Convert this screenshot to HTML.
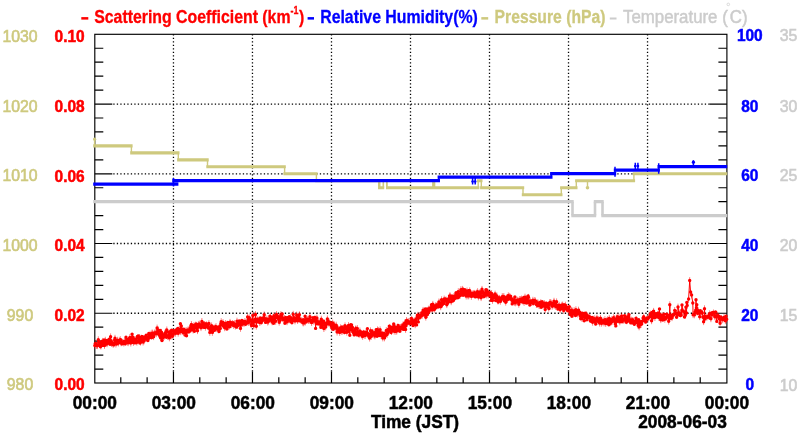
<!DOCTYPE html>
<html><head><meta charset="utf-8"><title>chart</title><style>html,body{margin:0;padding:0;background:#fff}svg{display:block;will-change:transform}.t text,text{font-family:"Liberation Sans",sans-serif}</style></head><body>
<svg width="800" height="434" viewBox="0 0 800 434">
<rect width="800" height="434" fill="#fff"/>
<path d="M173.46 34.30V371.50M252.47 34.30V371.50M331.49 34.30V371.50M410.50 34.30V371.50M489.51 34.30V371.50M568.52 34.30V371.50M647.54 34.30V371.50M113.30 313.26H709.40M113.30 243.52H709.40M113.30 173.78H709.40M113.30 104.04H709.40" stroke="#000" stroke-width="1.3" stroke-dasharray="1.3 2.2" fill="none"/>
<path d="M94.80 369.05h8.5M726.90 369.05h-8.5M94.80 355.10h8.5M726.90 355.10h-8.5M94.80 341.16h8.5M726.90 341.16h-8.5M94.80 327.21h8.5M726.90 327.21h-8.5M94.80 313.26h17.5M726.90 313.26h-17.5M94.80 299.31h8.5M726.90 299.31h-8.5M94.80 285.36h8.5M726.90 285.36h-8.5M94.80 271.42h8.5M726.90 271.42h-8.5M94.80 257.47h8.5M726.90 257.47h-8.5M94.80 243.52h17.5M726.90 243.52h-17.5M94.80 229.57h8.5M726.90 229.57h-8.5M94.80 215.62h8.5M726.90 215.62h-8.5M94.80 201.68h8.5M726.90 201.68h-8.5M94.80 187.73h8.5M726.90 187.73h-8.5M94.80 173.78h17.5M726.90 173.78h-17.5M94.80 159.83h8.5M726.90 159.83h-8.5M94.80 145.88h8.5M726.90 145.88h-8.5M94.80 131.94h8.5M726.90 131.94h-8.5M94.80 117.99h8.5M726.90 117.99h-8.5M94.80 104.04h17.5M726.90 104.04h-17.5M94.80 90.09h8.5M726.90 90.09h-8.5M94.80 76.14h8.5M726.90 76.14h-8.5M94.80 62.20h8.5M726.90 62.20h-8.5M94.80 48.25h8.5M726.90 48.25h-8.5M120.79 383.00v-5.8M147.12 383.00v-5.8M173.46 383.00v-11.5M199.80 383.00v-5.8M226.14 383.00v-5.8M252.47 383.00v-11.5M278.81 383.00v-5.8M305.15 383.00v-5.8M331.49 383.00v-11.5M357.82 383.00v-5.8M384.16 383.00v-5.8M410.50 383.00v-11.5M436.84 383.00v-5.8M463.17 383.00v-5.8M489.51 383.00v-11.5M515.85 383.00v-5.8M542.19 383.00v-5.8M568.52 383.00v-11.5M594.86 383.00v-5.8M621.20 383.00v-5.8M647.54 383.00v-11.5M673.88 383.00v-5.8M700.21 383.00v-5.8" stroke="#000" stroke-width="1.2" fill="none"/>
<rect x="94.80" y="34.30" width="632.10" height="348.70" fill="none" stroke="#000" stroke-width="1.15"/>
<path d="M93.20 201.68H573.70M571.30 215.62H596.20M593.80 201.68H603.70M601.30 215.62H727.20" stroke="#cccccc" stroke-width="3.2" fill="none"/>
<path d="M572.50 201.68V215.62M595.00 215.62V201.68M602.50 201.68V215.62" stroke="#cccccc" stroke-width="2.6" fill="none"/>
<path d="M93.20 145.88H132.60M130.20 152.86H179.50M177.10 159.83H208.70M206.30 166.81H285.80M283.40 173.78H317.60M315.20 180.75H380.00M378.00 187.73H384.20M386.00 187.73H479.40M477.00 180.75H482.50M480.10 187.73H524.20M521.80 194.70H562.50M560.10 187.73H577.50M575.10 180.75H635.10M632.70 173.78H727.20" stroke="#cec97e" stroke-width="3.1" fill="none"/>
<path d="M131.40 145.88V152.86M178.30 152.86V159.83M207.50 159.83V166.81M284.60 166.81V173.78M316.40 173.78V180.75M478.20 187.73V180.75M481.30 180.75V187.73M523.00 187.73V194.70M561.30 194.70V187.73M576.30 187.73V180.75M633.90 180.75V173.78M94.60 145.88V138.91M587.5 180.75V187.73" stroke="#cec97e" stroke-width="1.4" fill="none"/>
<path d="M379.25 180.75V187.73" stroke="#cec97e" stroke-width="2.5" fill="none"/>
<path d="M383.3 180.75V187.73" stroke="#cec97e" stroke-width="1.6" fill="none"/>
<path d="M386.9 180.75V187.73" stroke="#cec97e" stroke-width="1.8" fill="none"/>
<path d="M433.7 180.75V187.73" stroke="#cec97e" stroke-width="3.2" fill="none"/>
<circle cx="587.5" cy="187.73" r="1.8" fill="#cec97e"/>
<circle cx="94.60" cy="139.21" r="1.6" fill="#cec97e"/>
<path d="M93.20 184.14H174.70M172.30 180.65H440.00M437.60 177.17H552.50M550.10 173.68H616.20M613.80 170.19H659.90M657.50 166.71H727.20M173 184.14H178.4" stroke="#0000ff" stroke-width="3.25" fill="none"/>
<path d="M173.50 178.00V186.40M438.80 177.17V180.65M551.30 173.68V177.17M472.60 177.17V184.44M475.20 177.17V184.44M615.00 166.71V176.67M635.30 162.82V170.19M637.90 162.82V170.19M658.70 163.22V173.68M693.40 160.30V166.71" stroke="#0000ff" stroke-width="1.5" fill="none"/>
<circle cx="693.4" cy="162.2" r="1.6" fill="#0000ff"/><circle cx="635.3" cy="166" r="1.35" fill="#0000ff"/><circle cx="637.9" cy="166" r="1.35" fill="#0000ff"/><circle cx="472.6" cy="181.5" r="1.3" fill="#0000ff"/><circle cx="475.2" cy="181.5" r="1.3" fill="#0000ff"/>
<path d="M94.8 345.6L95.2 343.7L95.7 343.4L96.1 345.4L96.6 345.6L97.0 345.5L97.4 345.7L97.9 345.3L98.3 339.7L98.8 341.9L99.2 343.0L99.6 342.2L100.1 344.5L100.5 346.8L100.9 346.1L101.4 341.8L101.8 342.9L102.3 344.0L102.7 341.3L103.1 345.4L103.6 343.0L104.0 339.9L104.5 345.5L104.9 341.1L105.3 340.2L105.8 342.2L106.2 343.2L106.7 344.0L107.1 343.8L107.5 340.5L108.0 342.2L108.4 340.5L108.8 341.3L109.3 339.1L109.7 342.6L110.2 344.2L110.6 336.8L111.0 340.6L111.5 343.4L111.9 342.5L112.4 343.1L112.8 344.4L113.2 344.4L113.7 344.7L114.1 343.7L114.6 340.0L115.0 338.2L115.4 343.7L115.9 344.1L116.3 341.0L116.7 342.8L117.2 343.8L117.6 340.2L118.1 341.8L118.5 343.0L118.9 341.1L119.4 340.7L119.8 340.3L120.3 339.6L120.7 339.8L121.1 342.9L121.6 343.8L122.0 342.4L122.5 343.1L122.9 342.2L123.3 341.8L123.8 343.1L124.2 343.6L124.6 341.5L125.1 343.8L125.5 342.2L126.0 337.2L126.4 341.8L126.8 341.8L127.3 342.1L127.7 339.8L128.2 342.8L128.6 341.2L129.0 340.8L129.5 338.1L129.9 337.4L130.4 341.5L130.8 343.1L131.2 338.2L131.7 340.0L132.1 334.1L132.6 337.1L133.0 337.3L133.4 342.5L133.9 340.2L134.3 340.4L134.7 342.9L135.2 339.7L135.6 339.3L136.1 341.1L136.5 342.6L136.9 342.2L137.4 336.5L137.8 337.8L138.3 335.9L138.7 340.9L139.1 338.2L139.6 337.4L140.0 343.0L140.5 342.1L140.9 339.0L141.3 340.7L141.8 336.5L142.2 338.7L142.6 336.7L143.1 342.1L143.5 339.3L144.0 340.9L144.4 338.9L144.8 338.7L145.3 336.7L145.7 337.9L146.2 335.3L146.6 338.1L147.0 339.2L147.5 338.5L147.9 340.6L148.4 338.5L148.8 333.4L149.2 336.6L149.7 333.9L150.1 334.1L150.5 334.5L151.0 335.5L151.4 337.7L151.9 333.1L152.3 337.4L152.7 333.1L153.2 336.7L153.6 336.7L154.1 332.9L154.5 333.0L154.9 333.8L155.4 332.9L155.8 333.3L156.3 333.8L156.7 332.5L157.1 328.0L157.6 332.2L158.0 329.9L158.4 331.3L158.9 334.5L159.3 334.3L159.8 335.8L160.2 330.5L160.6 337.8L161.1 333.8L161.5 332.3L162.0 340.6L162.4 336.3L162.8 335.6L163.3 337.6L163.7 334.7L164.2 336.5L164.6 334.2L165.0 333.1L165.5 334.4L165.9 331.9L166.4 337.3L166.8 329.9L167.2 336.1L167.7 336.6L168.1 336.3L168.5 335.8L169.0 332.3L169.4 337.9L169.9 331.8L170.3 333.6L170.7 330.9L171.2 336.0L171.6 330.3L172.1 335.8L172.5 336.2L172.9 334.2L173.4 330.6L173.8 333.0L174.3 331.2L174.7 332.5L175.1 332.4L175.6 333.3L176.0 330.0L176.4 331.2L176.9 331.4L177.3 331.4L177.8 328.4L178.2 333.2L178.6 330.9L179.1 329.5L179.5 330.3L180.0 331.1L180.4 323.8L180.8 331.8L181.3 325.9L181.7 329.4L182.2 329.2L182.6 331.3L183.0 331.1L183.5 332.8L183.9 329.1L184.3 332.4L184.8 332.6L185.2 332.5L185.7 335.4L186.1 330.4L186.5 335.8L187.0 331.9L187.4 330.6L187.9 330.0L188.3 331.9L188.7 330.0L189.2 331.4L189.6 330.2L190.1 331.1L190.5 327.6L190.9 325.8L191.4 324.4L191.8 329.1L192.2 328.1L192.7 325.2L193.1 330.1L193.6 327.8L194.0 325.5L194.4 331.3L194.9 327.9L195.3 324.8L195.8 325.0L196.2 324.0L196.6 327.5L197.1 328.8L197.5 330.7L198.0 326.4L198.4 324.6L198.8 326.8L199.3 324.0L199.7 326.4L200.2 325.8L200.6 325.0L201.0 327.7L201.5 325.6L201.9 321.4L202.3 326.4L202.8 325.9L203.2 323.0L203.7 325.2L204.1 327.4L204.5 324.6L205.0 326.1L205.4 327.3L205.9 323.6L206.3 324.6L206.7 325.3L207.2 325.6L207.6 325.0L208.1 326.7L208.5 328.1L208.9 323.5L209.4 328.0L209.8 332.4L210.2 330.2L210.7 329.8L211.1 327.6L211.6 325.8L212.0 326.3L212.4 332.4L212.9 327.7L213.3 328.2L213.8 327.8L214.2 328.8L214.6 330.2L215.1 327.6L215.5 326.6L216.0 326.6L216.4 327.1L216.8 328.7L217.3 327.8L217.7 328.7L218.1 327.4L218.6 329.8L219.0 331.5L219.5 328.3L219.9 326.0L220.3 328.5L220.8 323.4L221.2 321.6L221.7 324.7L222.1 324.9L222.5 323.2L223.0 322.5L223.4 325.9L223.9 325.1L224.3 325.2L224.7 327.8L225.2 324.9L225.6 323.4L226.0 323.6L226.5 325.6L226.9 329.1L227.4 324.5L227.8 322.5L228.2 326.0L228.7 326.4L229.1 326.1L229.6 326.8L230.0 322.3L230.4 322.1L230.9 324.8L231.3 324.6L231.8 324.5L232.2 324.1L232.6 323.4L233.1 322.8L233.5 325.4L233.9 324.7L234.4 323.6L234.8 324.4L235.3 326.2L235.7 324.4L236.1 325.5L236.6 327.0L237.0 321.1L237.5 324.6L237.9 325.6L238.3 323.3L238.8 323.4L239.2 321.0L239.7 323.6L240.1 324.8L240.5 328.4L241.0 322.1L241.4 324.7L241.9 320.5L242.3 323.5L242.7 321.7L243.2 322.7L243.6 321.6L244.0 323.7L244.5 321.8L244.9 321.4L245.4 324.3L245.8 322.8L246.2 323.7L246.7 322.1L247.1 322.4L247.6 317.0L248.0 321.5L248.4 322.5L248.9 319.4L249.3 317.8L249.8 320.5L250.2 320.8L250.6 319.9L251.1 324.6L251.5 325.5L251.9 320.3L252.4 322.4L252.8 315.4L253.3 321.7L253.7 325.8L254.1 321.1L254.6 321.8L255.0 319.4L255.5 314.5L255.9 320.9L256.3 326.2L256.8 321.1L257.2 319.3L257.7 321.7L258.1 320.4L258.5 321.9L259.0 320.0L259.4 320.2L259.8 322.6L260.3 317.9L260.7 321.1L261.2 322.5L261.6 321.2L262.0 319.2L262.5 320.4L262.9 317.9L263.4 318.9L263.8 318.4L264.2 314.8L264.7 320.0L265.1 318.7L265.6 322.4L266.0 320.4L266.4 319.9L266.9 318.9L267.3 319.9L267.7 322.1L268.2 319.7L268.6 321.2L269.1 320.2L269.5 318.8L269.9 316.3L270.4 316.5L270.8 317.7L271.3 320.2L271.7 317.6L272.1 321.9L272.6 319.4L273.0 319.8L273.5 323.3L273.9 315.7L274.3 320.2L274.8 321.1L275.2 317.3L275.7 321.3L276.1 316.4L276.5 314.5L277.0 317.4L277.4 317.1L277.8 317.2L278.3 316.6L278.7 319.5L279.2 322.2L279.6 317.4L280.0 320.6L280.5 316.5L280.9 314.5L281.4 317.6L281.8 317.3L282.2 313.9L282.7 318.7L283.1 319.5L283.6 318.9L284.0 319.0L284.4 318.4L284.9 323.2L285.3 319.5L285.7 317.4L286.2 320.9L286.6 320.3L287.1 321.8L287.5 317.7L287.9 319.5L288.4 317.9L288.8 320.1L289.3 316.7L289.7 319.7L290.1 320.2L290.6 317.8L291.0 321.7L291.5 319.5L291.9 322.7L292.3 320.4L292.8 319.4L293.2 314.2L293.6 320.1L294.1 317.7L294.5 320.6L295.0 321.0L295.4 320.6L295.8 318.4L296.3 319.4L296.7 315.0L297.2 320.8L297.6 320.6L298.0 320.7L298.5 317.5L298.9 320.4L299.4 314.7L299.8 320.8L300.2 319.5L300.7 321.1L301.1 320.6L301.5 320.4L302.0 320.9L302.4 320.4L302.9 322.8L303.3 319.7L303.7 322.9L304.2 320.1L304.6 321.8L305.1 316.3L305.5 322.0L305.9 320.7L306.4 320.5L306.8 319.2L307.3 319.2L307.7 321.1L308.1 320.6L308.6 319.7L309.0 320.6L309.5 320.0L309.9 316.8L310.3 320.4L310.8 320.2L311.2 322.2L311.6 322.6L312.1 321.2L312.5 320.6L313.0 317.8L313.4 321.1L313.8 320.7L314.3 320.9L314.7 317.5L315.2 318.9L315.6 328.4L316.0 321.8L316.5 321.4L316.9 318.0L317.4 323.8L317.8 321.8L318.2 322.4L318.7 322.5L319.1 322.0L319.5 323.9L320.0 321.9L320.4 322.9L320.9 327.4L321.3 319.1L321.7 326.6L322.2 325.8L322.6 322.3L323.1 322.5L323.5 321.1L323.9 328.6L324.4 322.8L324.8 322.9L325.3 325.0L325.7 327.0L326.1 324.5L326.6 323.5L327.0 323.0L327.4 318.9L327.9 321.3L328.3 323.2L328.8 323.9L329.2 322.0L329.6 322.1L330.1 324.2L330.5 323.0L331.0 324.3L331.4 326.0L331.8 327.7L332.3 324.2L332.7 323.0L333.2 329.3L333.6 327.1L334.0 328.3L334.5 324.9L334.9 327.9L335.3 328.0L335.8 326.5L336.2 325.1L336.7 326.6L337.1 332.1L337.5 329.2L338.0 328.8L338.4 330.2L338.9 329.8L339.3 329.3L339.7 332.4L340.2 328.6L340.6 327.7L341.1 330.2L341.5 331.2L341.9 326.9L342.4 331.2L342.8 328.5L343.3 328.3L343.7 331.4L344.1 330.9L344.6 332.6L345.0 325.8L345.4 327.9L345.9 328.2L346.3 327.0L346.8 332.3L347.2 329.8L347.6 330.0L348.1 331.8L348.5 325.5L349.0 328.6L349.4 329.6L349.8 335.3L350.3 328.1L350.7 324.8L351.2 329.5L351.6 325.0L352.0 329.5L352.5 327.5L352.9 331.7L353.3 332.6L353.8 331.1L354.2 334.9L354.7 332.7L355.1 332.1L355.5 329.0L356.0 328.3L356.4 333.3L356.9 334.3L357.3 328.4L357.7 334.9L358.2 332.0L358.6 335.3L359.1 334.7L359.5 331.7L359.9 330.9L360.4 332.0L360.8 333.9L361.2 332.0L361.7 335.0L362.1 333.7L362.6 336.4L363.0 334.2L363.4 333.2L363.9 331.9L364.3 335.1L364.8 334.9L365.2 335.6L365.6 332.4L366.1 332.4L366.5 332.3L367.0 333.9L367.4 328.6L367.8 334.8L368.3 333.8L368.7 336.1L369.1 336.4L369.6 338.1L370.0 334.6L370.5 330.8L370.9 335.6L371.3 336.4L371.8 330.9L372.2 332.3L372.7 334.3L373.1 332.9L373.5 333.2L374.0 335.1L374.4 332.8L374.9 336.0L375.3 335.5L375.7 331.6L376.2 329.6L376.6 333.7L377.1 336.2L377.5 329.8L377.9 334.8L378.4 330.5L378.8 335.2L379.2 332.9L379.7 335.5L380.1 329.8L380.6 334.5L381.0 335.3L381.4 332.9L381.9 334.0L382.3 333.3L382.8 338.0L383.2 336.3L383.6 335.4L384.1 333.2L384.5 337.9L385.0 336.0L385.4 334.9L385.8 335.4L386.3 330.5L386.7 330.4L387.1 334.6L387.6 333.3L388.0 330.7L388.5 329.3L388.9 331.1L389.3 326.1L389.8 327.3L390.2 328.4L390.7 328.6L391.1 332.5L391.5 331.6L392.0 327.3L392.4 328.8L392.9 330.2L393.3 327.3L393.7 324.0L394.2 331.2L394.6 326.7L395.0 327.3L395.5 328.5L395.9 331.4L396.4 328.1L396.8 331.0L397.2 327.4L397.7 327.0L398.1 325.4L398.6 328.9L399.0 329.5L399.4 327.9L399.9 331.2L400.3 327.4L400.8 328.5L401.2 327.1L401.6 327.3L402.1 326.7L402.5 328.7L402.9 325.0L403.4 329.4L403.8 326.0L404.3 328.1L404.7 322.9L405.1 324.9L405.6 329.5L406.0 325.8L406.5 320.5L406.9 323.4L407.3 322.2L407.8 321.0L408.2 321.4L408.7 323.1L409.1 322.1L409.5 322.3L410.0 323.3L410.4 323.5L410.9 321.6L411.3 318.4L411.7 319.3L412.2 323.1L412.6 320.4L413.0 325.5L413.5 321.7L413.9 323.3L414.4 320.8L414.8 322.5L415.2 324.8L415.7 321.6L416.1 319.2L416.6 324.9L417.0 317.7L417.4 315.2L417.9 315.2L418.3 321.9L418.8 317.1L419.2 317.9L419.6 315.4L420.1 317.2L420.5 315.9L420.9 315.8L421.4 315.0L421.8 312.7L422.3 315.2L422.7 314.7L423.1 310.3L423.6 314.7L424.0 313.3L424.5 310.8L424.9 314.3L425.3 308.9L425.8 317.2L426.2 311.4L426.7 311.5L427.1 308.9L427.5 314.4L428.0 312.3L428.4 309.1L428.8 312.1L429.3 310.6L429.7 308.3L430.2 308.4L430.6 309.6L431.0 307.8L431.5 304.7L431.9 309.1L432.4 310.0L432.8 304.3L433.2 308.9L433.7 307.0L434.1 309.5L434.6 309.2L435.0 308.3L435.4 305.7L435.9 307.6L436.3 306.1L436.7 304.9L437.2 305.8L437.6 304.6L438.1 305.5L438.5 306.8L438.9 301.9L439.4 304.1L439.8 302.8L440.3 304.7L440.7 306.8L441.1 306.3L441.6 299.7L442.0 304.8L442.5 304.0L442.9 301.1L443.3 302.5L443.8 303.6L444.2 299.0L444.6 301.4L445.1 301.3L445.5 298.9L446.0 299.8L446.4 300.3L446.8 304.7L447.3 303.8L447.7 301.4L448.2 299.1L448.6 298.7L449.0 301.7L449.5 296.0L449.9 298.5L450.4 296.0L450.8 297.8L451.2 301.8L451.7 296.2L452.1 297.6L452.6 296.5L453.0 299.6L453.4 300.5L453.9 296.6L454.3 297.8L454.7 296.0L455.2 298.3L455.6 297.0L456.1 292.8L456.5 295.8L456.9 293.5L457.4 293.5L457.8 297.7L458.3 291.6L458.7 297.0L459.1 295.2L459.6 294.0L460.0 295.5L460.5 295.2L460.9 289.6L461.3 291.0L461.8 293.2L462.2 293.7L462.6 289.3L463.1 295.2L463.5 290.8L464.0 293.2L464.4 291.4L464.8 289.6L465.3 294.2L465.7 291.3L466.2 296.1L466.6 292.8L467.0 290.9L467.5 292.8L467.9 296.0L468.4 290.8L468.8 295.9L469.2 292.6L469.7 290.8L470.1 292.0L470.5 293.2L471.0 294.3L471.4 296.4L471.9 295.1L472.3 294.1L472.7 293.4L473.2 293.7L473.6 296.1L474.1 293.3L474.5 292.8L474.9 293.7L475.4 296.9L475.8 294.1L476.3 294.5L476.7 293.0L477.1 294.8L477.6 291.6L478.0 296.5L478.4 297.0L478.9 296.0L479.3 292.9L479.8 294.2L480.2 292.9L480.6 291.7L481.1 297.7L481.5 296.7L482.0 289.3L482.4 291.3L482.8 293.3L483.3 293.6L483.7 295.4L484.2 296.6L484.6 293.2L485.0 295.1L485.5 292.5L485.9 289.7L486.4 295.0L486.8 289.9L487.2 292.9L487.7 291.7L488.1 295.1L488.5 295.1L489.0 293.9L489.4 295.0L489.9 293.7L490.3 292.8L490.7 296.6L491.2 300.4L491.6 293.4L492.1 298.5L492.5 300.4L492.9 295.6L493.4 297.6L493.8 295.2L494.3 296.0L494.7 297.4L495.1 294.0L495.6 300.4L496.0 299.1L496.4 298.6L496.9 295.9L497.3 299.7L497.8 301.0L498.2 301.9L498.6 300.8L499.1 297.6L499.5 298.3L500.0 299.3L500.4 301.3L500.8 298.1L501.3 299.5L501.7 298.2L502.2 296.7L502.6 298.4L503.0 296.8L503.5 298.6L503.9 296.6L504.3 300.9L504.8 298.4L505.2 298.2L505.7 302.2L506.1 297.6L506.5 299.5L507.0 296.9L507.4 299.7L507.9 295.7L508.3 295.7L508.7 299.0L509.2 296.3L509.6 297.7L510.1 297.0L510.5 296.1L510.9 299.3L511.4 298.6L511.8 298.9L512.2 303.9L512.7 300.9L513.1 301.3L513.6 300.2L514.0 300.2L514.4 302.3L514.9 296.9L515.3 302.9L515.8 301.6L516.2 302.1L516.6 300.5L517.1 300.1L517.5 300.0L518.0 300.3L518.4 301.5L518.8 304.3L519.3 301.0L519.7 299.4L520.2 301.8L520.6 299.6L521.0 299.8L521.5 299.0L521.9 301.8L522.3 300.8L522.8 301.7L523.2 301.1L523.7 297.4L524.1 302.4L524.5 299.3L525.0 297.1L525.4 302.1L525.9 299.2L526.3 303.1L526.7 298.7L527.2 302.5L527.6 301.5L528.1 296.0L528.5 297.3L528.9 302.5L529.4 301.9L529.8 305.0L530.2 301.0L530.7 302.0L531.1 302.5L531.6 302.1L532.0 302.4L532.4 302.7L532.9 300.2L533.3 303.6L533.8 302.2L534.2 301.7L534.6 300.6L535.1 300.6L535.5 301.0L536.0 301.5L536.4 304.6L536.8 304.6L537.3 302.9L537.7 305.7L538.1 303.0L538.6 304.3L539.0 305.4L539.5 304.9L539.9 305.5L540.3 302.3L540.8 302.6L541.2 307.2L541.7 304.2L542.1 301.8L542.5 304.7L543.0 306.0L543.4 305.1L543.9 304.3L544.3 303.5L544.7 303.2L545.2 309.6L545.6 307.1L546.0 304.9L546.5 303.3L546.9 306.3L547.4 305.9L547.8 306.2L548.2 305.5L548.7 308.1L549.1 308.5L549.6 302.7L550.0 303.6L550.4 302.5L550.9 303.6L551.3 303.1L551.8 305.9L552.2 306.3L552.6 303.9L553.1 305.0L553.5 303.7L554.0 301.2L554.4 303.8L554.8 305.4L555.3 303.4L555.7 306.5L556.1 306.1L556.6 301.8L557.0 305.4L557.5 307.5L557.9 308.9L558.3 306.4L558.8 306.7L559.2 305.2L559.7 308.5L560.1 309.7L560.5 308.2L561.0 306.7L561.4 307.2L561.9 305.2L562.3 306.3L562.7 305.0L563.2 308.9L563.6 310.4L564.0 304.6L564.5 308.9L564.9 309.1L565.4 305.1L565.8 307.7L566.2 308.9L566.7 308.9L567.1 307.5L567.6 310.5L568.0 310.0L568.4 310.3L568.9 309.5L569.3 306.8L569.8 311.5L570.2 314.5L570.6 312.2L571.1 313.8L571.5 310.2L571.9 316.3L572.4 311.0L572.8 312.8L573.3 313.9L573.7 312.1L574.1 310.6L574.6 311.8L575.0 312.5L575.5 315.6L575.9 309.7L576.3 310.2L576.8 312.9L577.2 311.7L577.7 314.1L578.1 312.2L578.5 310.1L579.0 313.2L579.4 312.0L579.8 312.2L580.3 316.1L580.7 318.7L581.2 314.9L581.6 316.1L582.0 318.5L582.5 313.3L582.9 316.4L583.4 316.4L583.8 315.5L584.2 320.7L584.7 315.7L585.1 313.1L585.6 315.2L586.0 317.6L586.4 314.6L586.9 319.8L587.3 315.7L587.8 317.2L588.2 317.2L588.6 316.9L589.1 316.9L589.5 316.6L589.9 317.6L590.4 321.0L590.8 319.6L591.3 320.3L591.7 319.6L592.1 317.4L592.6 322.3L593.0 321.1L593.5 319.6L593.9 320.8L594.3 318.7L594.8 322.0L595.2 322.1L595.7 324.1L596.1 319.2L596.5 319.6L597.0 318.0L597.4 318.8L597.8 321.3L598.3 319.1L598.7 319.6L599.2 319.4L599.6 323.1L600.0 321.1L600.5 318.3L600.9 319.6L601.4 323.3L601.8 322.3L602.2 322.0L602.7 321.8L603.1 320.7L603.6 321.3L604.0 323.0L604.4 322.6L604.9 319.6L605.3 319.6L605.7 323.5L606.2 323.6L606.6 320.8L607.1 322.9L607.5 319.7L607.9 319.8L608.4 320.1L608.8 324.8L609.3 318.5L609.7 321.8L610.1 322.8L610.6 323.2L611.0 322.1L611.5 320.3L611.9 319.3L612.3 319.7L612.8 321.3L613.2 320.2L613.6 317.6L614.1 321.0L614.5 318.6L615.0 321.5L615.4 323.9L615.8 325.9L616.3 320.5L616.7 318.9L617.2 316.8L617.6 321.2L618.0 320.0L618.5 320.0L618.9 317.1L619.4 318.6L619.8 321.9L620.2 320.9L620.7 319.5L621.1 319.2L621.6 315.9L622.0 321.7L622.4 319.3L622.9 318.8L623.3 320.3L623.7 319.8L624.2 319.8L624.6 315.6L625.1 320.0L625.5 317.5L625.9 317.7L626.4 322.2L626.8 320.9L627.3 321.6L627.7 316.6L628.1 320.9L628.6 316.7L629.0 314.6L629.5 320.1L629.9 319.9L630.3 320.1L630.8 322.9L631.2 320.0L631.6 321.5L632.1 320.4L632.5 319.8L633.0 320.7L633.4 323.3L633.8 322.0L634.3 324.2L634.7 322.6L635.2 321.8L635.6 321.2L636.0 318.1L636.5 320.0L636.9 322.4L637.4 323.0L637.8 321.2L638.2 325.5L638.7 319.7L639.1 326.9L639.5 321.2L640.0 324.7L640.4 321.7L641.1 324.4L641.7 323.9L642.4 321.3L643.1 318.0L643.7 316.7L644.4 318.5L645.0 320.3L645.7 322.0L646.4 319.3L647.0 318.1L647.7 319.1L648.3 317.7L649.0 317.4L649.6 316.7L650.3 314.0L651.0 315.6L651.6 320.8L652.0 312.5L652.3 316.1L652.9 317.9L653.6 311.3L654.3 314.8L654.9 317.6L655.6 313.6L656.2 315.6L656.9 316.5L657.5 315.3L658.2 312.9L658.9 317.5L659.5 309.0L659.5 317.3L660.2 314.4L660.8 319.7L661.5 317.0L662.2 315.6L662.8 320.0L663.5 317.0L664.1 314.1L664.8 319.3L665.4 318.9L666.1 317.3L666.8 314.3L667.4 317.0L668.1 315.3L668.7 321.2L669.4 318.8L669.8 304.7L670.1 316.3L670.7 315.4L671.4 318.2L672.0 317.7L672.7 314.8L673.3 315.2L674.0 314.6L674.7 310.4L675.3 310.7L676.0 313.2L676.6 317.2L677.3 314.7L678.0 313.9L678.0 307.0L678.6 312.9L679.3 312.9L679.9 315.4L680.6 314.2L681.2 315.3L681.9 310.2L682.0 305.0L682.6 310.9L683.2 310.9L683.9 311.6L684.5 317.0L685.2 315.3L685.9 307.1L686.5 313.0L686.8 302.5L687.2 305.4L688.6 299.0L689.7 280.5L690.6 292.0L691.6 295.0L692.8 303.0L693.1 314.7L693.8 314.9L694.4 314.9L695.1 312.2L695.7 310.3L696.0 299.8L696.4 308.0L696.8 304.7L697.1 312.2L697.7 313.4L698.4 310.8L699.0 311.0L699.7 316.7L700.3 310.8L701.0 313.1L701.7 312.0L702.3 313.0L703.0 317.3L703.6 321.7L704.3 316.4L704.5 308.7L705.0 319.1L705.6 316.6L706.3 316.9L706.9 317.1L707.6 317.3L708.2 316.1L708.9 315.7L709.6 313.8L710.2 318.3L710.9 318.8L711.5 313.0L712.2 314.8L712.9 312.5L713.5 312.9L714.2 312.9L714.8 316.8L715.5 311.9L716.1 316.7L716.8 321.4L717.5 315.1L718.1 315.9L718.8 316.2L719.4 318.9L720.1 323.3L720.8 317.0L721.4 318.9L722.1 318.4L722.7 319.8L723.4 319.5L724.0 317.5L724.7 319.6L725.4 320.8L726.0 316.1L726.7 319.3" stroke="#ff0000" stroke-width="1" fill="none" stroke-linejoin="round"/>
<path d="M94.8 342.2V349.0M95.7 340.0V346.8M96.6 342.2V349.0M97.4 342.3V349.1M98.3 336.3V343.1M99.2 339.6V346.4M100.1 341.1V347.9M100.9 342.7V349.5M101.8 339.5V346.3M102.7 337.9V344.7M103.6 339.6V346.4M104.5 342.1V348.9M105.3 336.8V343.6M106.2 339.8V346.6M107.1 340.4V347.2M108.0 338.8V345.6M108.8 337.9V344.7M109.7 339.2V346.0M110.6 333.4V340.2M111.5 340.0V346.8M112.4 339.7V346.5M113.2 341.0V347.8M114.1 340.3V347.1M115.0 334.8V341.6M115.9 340.7V347.5M116.7 339.4V346.2M117.6 336.8V343.6M118.5 339.6V346.4M119.4 337.3V344.1M120.3 336.2V343.0M121.1 339.5V346.3M122.0 339.0V345.8M122.9 338.8V345.6M123.8 339.7V346.5M124.6 338.1V344.9M125.5 338.8V345.6M126.4 338.4V345.2M127.3 338.7V345.5M128.2 339.4V346.2M129.0 337.4V344.2M129.9 334.0V340.8M130.8 339.7V346.5M131.7 336.6V343.4M132.6 333.7V340.5M133.4 339.1V345.9M134.3 337.0V343.8M135.2 336.3V343.1M136.1 337.7V344.5M136.9 338.8V345.6M137.8 334.4V341.2M138.7 337.5V344.3M139.6 334.0V340.8M140.5 338.7V345.5M141.3 337.3V344.1M142.2 335.3V342.1M143.1 338.7V345.5M144.0 337.5V344.3M144.8 335.3V342.1M145.7 334.5V341.3M146.6 334.7V341.5M147.5 335.1V341.9M148.4 335.1V341.9M149.2 333.2V340.0M150.1 330.7V337.5M151.0 332.1V338.9M151.9 329.7V336.5M152.7 329.7V336.5M153.6 333.3V340.1M154.5 329.6V336.4M155.4 329.5V336.3M156.3 330.4V337.2M157.1 324.6V331.4M158.0 326.5V333.3M158.9 331.1V337.9M159.8 332.4V339.2M160.6 334.4V341.2M161.5 328.9V335.7M162.4 332.9V339.7M163.3 334.2V341.0M164.2 333.1V339.9M165.0 329.7V336.5M165.9 328.5V335.3M166.8 326.5V333.3M167.7 333.2V340.0M168.5 332.4V339.2M169.4 334.5V341.3M170.3 330.2V337.0M171.2 332.6V339.4M172.1 332.4V339.2M172.9 330.8V337.6M173.8 329.6V336.4M174.7 329.1V335.9M175.6 329.9V336.7M176.4 327.8V334.6M177.3 328.0V334.8M178.2 329.8V336.6M179.1 326.1V332.9M180.0 327.7V334.5M180.8 328.4V335.2M181.7 326.0V332.8M182.6 327.9V334.7M183.5 329.4V336.2M184.3 329.0V335.8M185.2 329.1V335.9M186.1 327.0V333.8M187.0 328.5V335.3M187.9 326.6V333.4M188.7 326.6V333.4M189.6 326.8V333.6M190.5 324.2V331.0M191.4 321.0V327.8M192.2 324.7V331.5M193.1 326.7V333.5M194.0 322.1V328.9M194.9 324.5V331.3M195.8 321.6V328.4M196.6 324.1V330.9M197.5 327.3V334.1M198.4 321.2V328.0M199.3 320.6V327.4M200.2 322.4V329.2M201.0 324.3V331.1M201.9 318.0V324.8M202.8 322.5V329.3M203.7 321.8V328.6M204.5 321.2V328.0M205.4 323.9V330.7M206.3 321.2V328.0M207.2 322.2V329.0M208.1 323.3V330.1M208.9 320.1V326.9M209.8 329.0V335.8M210.7 326.4V333.2M211.6 322.4V329.2M212.4 329.0V335.8M213.3 324.8V331.6M214.2 325.4V332.2M215.1 324.2V331.0M216.0 323.2V330.0M216.8 325.3V332.1M217.7 325.3V332.1M218.6 326.4V333.2M219.5 324.9V331.7M220.3 325.1V331.9M221.2 318.2V325.0M222.1 321.5V328.3M223.0 319.1V325.9M223.9 321.7V328.5M224.7 324.4V331.2M225.6 320.0V326.8M226.5 322.2V329.0M227.4 321.1V327.9M228.2 322.6V329.4M229.1 322.7V329.5M230.0 318.9V325.7M230.9 321.4V328.2M231.8 321.1V327.9M232.6 320.0V326.8M233.5 322.0V328.8M234.4 320.2V327.0M235.3 322.8V329.6M236.1 322.1V328.9M237.0 317.7V324.5M237.9 322.2V329.0M238.8 320.0V326.8M239.7 320.2V327.0M240.5 325.0V331.8M241.4 321.3V328.1M242.3 320.1V326.9M243.2 319.3V326.1M244.0 320.3V327.1M244.9 318.0V324.8M245.8 319.4V326.2M246.7 318.7V325.5M247.6 313.6V320.4M248.4 319.1V325.9M249.3 314.4V321.2M250.2 317.4V324.2M251.1 321.2V328.0M251.9 316.9V323.7M252.8 312.0V318.8M253.7 322.4V329.2M254.6 318.4V325.2M255.5 311.1V317.9M256.3 322.8V329.6M257.2 315.9V322.7M258.1 317.0V323.8M259.0 316.6V323.4M259.8 319.2V326.0M260.7 317.7V324.5M261.6 317.8V324.6M262.5 317.0V323.8M263.4 315.5V322.3M264.2 311.4V318.2M265.1 315.3V322.1M266.0 317.0V323.8M266.9 315.5V322.3M267.7 318.7V325.5M268.6 317.8V324.6M269.5 315.4V322.2M270.4 313.1V319.9M271.3 316.8V323.6M272.1 318.5V325.3M273.0 316.4V323.2M273.9 312.3V319.1M274.8 317.7V324.5M275.7 317.9V324.7M276.5 311.1V317.9M277.4 313.7V320.5M278.3 313.2V320.0M279.2 318.8V325.6M280.0 317.2V324.0M280.9 311.1V317.9M281.8 313.9V320.7M282.7 315.3V322.1M283.6 315.5V322.3M284.4 315.0V321.8M285.3 316.1V322.9M286.2 317.5V324.3M287.1 318.4V325.2M287.9 316.1V322.9M288.8 316.7V323.5M289.7 316.3V323.1M290.6 314.4V321.2M291.5 316.1V322.9M292.3 317.0V323.8M293.2 310.8V317.6M294.1 314.3V321.1M295.0 317.6V324.4M295.8 315.0V321.8M296.7 311.6V318.4M297.6 317.2V324.0M298.5 314.1V320.9M299.4 311.3V318.1M300.2 316.1V322.9M301.1 317.2V324.0M302.0 317.5V324.3M302.9 319.4V326.2M303.7 319.5V326.3M304.6 318.4V325.2M305.5 318.6V325.4M306.4 317.1V323.9M307.3 315.8V322.6M308.1 317.2V324.0M309.0 317.2V324.0M309.9 313.4V320.2M310.8 316.8V323.6M311.6 319.2V326.0M312.5 317.2V324.0M313.4 317.7V324.5M314.3 317.5V324.3M315.2 315.5V322.3M316.0 318.4V325.2M316.9 314.6V321.4M317.8 318.4V325.2M318.7 319.1V325.9M319.5 320.5V327.3M320.4 319.5V326.3M321.3 315.7V322.5M322.2 322.4V329.2M323.1 319.1V325.9M323.9 325.2V332.0M324.8 319.5V326.3M325.7 323.6V330.4M326.6 320.1V326.9M327.4 315.5V322.3M328.3 319.8V326.6M329.2 318.6V325.4M330.1 320.8V327.6M331.0 320.9V327.7M331.8 324.3V331.1M332.7 319.6V326.4M333.6 323.7V330.5M334.5 321.5V328.3M335.3 324.6V331.4M336.2 321.7V328.5M337.1 328.7V335.5M338.0 325.4V332.2M338.9 326.4V333.2M339.7 329.0V335.8M340.6 324.3V331.1M341.5 327.8V334.6M342.4 327.8V334.6M343.3 324.9V331.7M344.1 327.5V334.3M345.0 322.4V329.2M345.9 324.8V331.6M346.8 328.9V335.7M347.6 326.6V333.4M348.5 322.1V328.9M349.4 326.2V333.0M350.3 324.7V331.5M351.2 326.1V332.9M352.0 326.1V332.9M352.9 328.3V335.1M353.8 327.7V334.5M354.7 329.3V336.1M355.5 325.6V332.4M356.4 329.9V336.7M357.3 325.0V331.8M358.2 328.6V335.4M359.1 331.3V338.1M359.9 327.5V334.3M360.8 330.5V337.3M361.7 331.6V338.4M362.6 333.0V339.8M363.4 329.8V336.6M364.3 331.7V338.5M365.2 332.2V339.0M366.1 329.0V335.8M367.0 330.5V337.3M367.8 331.4V338.2M368.7 332.7V339.5M369.6 334.7V341.5M370.5 327.4V334.2M371.3 333.0V339.8M372.2 328.9V335.7M373.1 329.5V336.3M374.0 331.7V338.5M374.9 332.6V339.4M375.7 328.2V335.0M376.6 330.3V337.1M377.5 326.4V333.2M378.4 327.1V333.9M379.2 329.5V336.3M380.1 326.4V333.2M381.0 331.9V338.7M381.9 330.6V337.4M382.8 334.6V341.4M383.6 332.0V338.8M384.5 334.5V341.3M385.4 331.5V338.3M386.3 327.1V333.9M387.1 331.2V338.0M388.0 327.3V334.1M388.9 327.7V334.5M389.8 323.9V330.7M390.7 325.2V332.0M391.5 328.2V335.0M392.4 325.4V332.2M393.3 323.9V330.7M394.2 327.8V334.6M395.0 323.9V330.7M395.9 328.0V334.8M396.8 327.6V334.4M397.7 323.6V330.4M398.6 325.5V332.3M399.4 324.5V331.3M400.3 324.0V330.8M401.2 323.7V330.5M402.1 323.3V330.1M402.9 321.6V328.4M403.8 322.6V329.4M404.7 319.5V326.3M405.6 326.1V332.9M406.5 317.1V323.9M407.3 318.8V325.6M408.2 318.0V324.8M409.1 318.7V325.5M410.0 319.9V326.7M410.9 318.2V325.0M411.7 315.9V322.7M412.6 317.0V323.8M413.5 318.3V325.1M414.4 317.4V324.2M415.2 321.4V328.2M416.1 315.8V322.6M417.0 314.3V321.1M417.9 311.8V318.6M418.8 313.7V320.5M419.6 312.0V318.8M420.5 312.5V319.3M421.4 311.6V318.4M422.3 311.8V318.6M423.1 306.9V313.7M424.0 309.9V316.7M424.9 310.9V317.7M425.8 313.8V320.6M426.7 308.1V314.9M427.5 311.0V317.8M428.4 305.7V312.5M429.3 307.2V314.0M430.2 305.0V311.8M431.0 304.4V311.2M431.9 305.7V312.5M432.8 300.9V307.7M433.7 303.6V310.4M434.6 305.8V312.6M435.4 302.3V309.1M436.3 302.7V309.5M437.2 302.4V309.2M438.1 302.1V308.9M438.9 298.5V305.3M439.8 299.4V306.2M440.7 303.4V310.2M441.6 296.3V303.1M442.5 300.6V307.4M443.3 299.1V305.9M444.2 295.6V302.4M445.1 297.9V304.7M446.0 296.4V303.2M446.8 301.3V308.1M447.7 298.0V304.8M448.6 295.3V302.1M449.5 292.6V299.4M450.4 292.6V299.4M451.2 298.4V305.2M452.1 294.2V301.0M453.0 296.2V303.0M453.9 293.2V300.0M454.7 292.6V299.4M455.6 293.6V300.4M456.5 292.4V299.2M457.4 290.1V296.9M458.3 288.2V295.0M459.1 291.8V298.6M460.0 292.1V298.9M460.9 286.2V293.0M461.8 289.8V296.6M462.6 285.9V292.7M463.5 287.4V294.2M464.4 288.0V294.8M465.3 290.8V297.6M466.2 292.7V299.5M467.0 287.5V294.3M467.9 292.6V299.4M468.8 292.5V299.3M469.7 287.4V294.2M470.5 289.8V296.6M471.4 293.0V299.8M472.3 290.7V297.5M473.2 290.3V297.1M474.1 289.9V296.7M474.9 290.3V297.1M475.8 290.7V297.5M476.7 289.6V296.4M477.6 288.2V295.0M478.4 293.6V300.4M479.3 289.5V296.3M480.2 289.5V296.3M481.1 294.3V301.1M482.0 285.9V292.7M482.8 289.9V296.7M483.7 292.0V298.8M484.6 289.8V296.6M485.5 289.1V295.9M486.4 291.6V298.4M487.2 289.5V296.3M488.1 291.7V298.5M489.0 290.5V297.3M489.9 290.3V297.1M490.7 293.2V300.0M491.6 290.0V296.8M492.5 297.0V303.8M493.4 294.2V301.0M494.3 292.6V299.4M495.1 290.6V297.4M496.0 295.7V302.5M496.9 292.5V299.3M497.8 297.6V304.4M498.6 297.4V304.2M499.5 294.9V301.7M500.4 297.9V304.7M501.3 296.1V302.9M502.2 293.3V300.1M503.0 293.4V300.2M503.9 293.2V300.0M504.8 295.0V301.8M505.7 298.8V305.6M506.5 296.1V302.9M507.4 296.3V303.1M508.3 292.3V299.1M509.2 292.9V299.7M510.1 293.6V300.4M510.9 295.9V302.7M511.8 295.5V302.3M512.7 297.5V304.3M513.6 296.8V303.6M514.4 298.9V305.7M515.3 299.5V306.3M516.2 298.7V305.5M517.1 296.7V303.5M518.0 296.9V303.7M518.8 300.9V307.7M519.7 296.0V302.8M520.6 296.2V303.0M521.5 295.6V302.4M522.3 297.4V304.2M523.2 297.7V304.5M524.1 299.0V305.8M525.0 293.7V300.5M525.9 295.8V302.6M526.7 295.3V302.1M527.6 298.1V304.9M528.5 293.9V300.7M529.4 298.5V305.3M530.2 297.6V304.4M531.1 299.1V305.9M532.0 299.0V305.8M532.9 296.8V303.6M533.8 298.8V305.6M534.6 297.2V304.0M535.5 297.6V304.4M536.4 301.2V308.0M537.3 299.5V306.3M538.1 299.6V306.4M539.0 302.0V308.8M539.9 302.1V308.9M540.8 299.2V306.0M541.7 300.8V307.6M542.5 301.3V308.1M543.4 301.7V308.5M544.3 300.1V306.9M545.2 306.2V313.0M546.0 301.5V308.3M546.9 302.9V309.7M547.8 302.8V309.6M548.7 304.7V311.5M549.6 299.3V306.1M550.4 299.1V305.9M551.3 299.7V306.5M552.2 302.9V309.7M553.1 301.6V308.4M554.0 297.8V304.6M554.8 302.0V308.8M555.7 303.1V309.9M556.6 298.4V305.2M557.5 304.1V310.9M558.3 303.0V309.8M559.2 301.8V308.6M560.1 306.3V313.1M561.0 303.3V310.1M561.9 301.8V308.6M562.7 301.6V308.4M563.6 307.0V313.8M564.5 305.5V312.3M565.4 301.7V308.5M566.2 305.5V312.3M567.1 304.1V310.9M568.0 306.6V313.4M568.9 306.1V312.9M569.8 308.1V314.9M570.6 308.8V315.6M571.5 306.8V313.6M572.4 307.6V314.4M573.3 310.5V317.3M574.1 307.2V314.0M575.0 309.1V315.9M575.9 306.3V313.1M576.8 309.5V316.3M577.7 310.7V317.5M578.5 306.7V313.5M579.4 308.6V315.4M580.3 312.7V319.5M581.2 311.5V318.3M582.0 315.1V321.9M582.9 313.0V319.8M583.8 312.1V318.9M584.7 312.3V319.1M585.6 311.8V318.6M586.4 311.2V318.0M587.3 312.3V319.1M588.2 313.8V320.6M589.1 313.5V320.3M589.9 314.2V321.0M590.8 316.2V323.0M591.7 316.2V323.0M592.6 318.9V325.7M593.5 316.2V323.0M594.3 315.3V322.1M595.2 318.7V325.5M596.1 315.8V322.6M597.0 314.6V321.4M597.8 317.9V324.7M598.7 316.2V323.0M599.6 319.7V326.5M600.5 314.9V321.7M601.4 319.9V326.7M602.2 318.6V325.4M603.1 317.3V324.1M604.0 319.6V326.4M604.9 316.2V323.0M605.7 320.1V326.9M606.6 317.4V324.2M607.5 316.3V323.1M608.4 316.7V323.5M609.3 315.1V321.9M610.1 319.4V326.2M611.0 318.7V325.5M611.9 315.9V322.7M612.8 317.9V324.7M613.6 314.2V321.0M614.5 315.2V322.0M615.4 320.5V327.3M616.3 317.1V323.9M617.2 313.4V320.2M618.0 316.6V323.4M618.9 313.7V320.5M619.8 318.5V325.3M620.7 316.1V322.9M621.6 312.5V319.3M622.4 315.9V322.7M623.3 316.9V323.7M624.2 316.4V323.2M625.1 316.6V323.4M625.9 314.3V321.1M626.8 317.5V324.3M627.7 313.2V320.0M628.6 313.3V320.1M629.5 316.7V323.5M630.3 316.7V323.5M631.2 316.6V323.4M632.1 317.0V323.8M633.0 317.3V324.1M633.8 318.6V325.4M634.7 319.2V326.0M635.6 317.8V324.6M636.5 316.6V323.4M637.4 319.6V326.4M638.2 322.1V328.9M639.1 323.5V330.3M640.0 321.3V328.1M641.1 321.0V327.8M642.4 317.9V324.7M643.7 313.3V320.1M645.0 316.9V323.7M646.4 315.9V322.7M647.7 315.7V322.5M649.0 314.0V320.8M650.3 310.6V317.4M651.6 317.4V324.2M652.3 312.7V319.5M653.6 307.9V314.7M654.9 314.2V321.0M656.2 312.2V319.0M657.5 311.9V318.7M658.9 314.1V320.9M659.5 313.9V320.7M660.8 316.3V323.1M662.2 312.2V319.0M663.5 313.6V320.4M664.8 315.9V322.7M666.1 313.9V320.7M667.4 313.6V320.4M668.7 317.8V324.6M669.8 301.3V308.1M670.7 312.0V318.8M672.0 314.3V321.1M673.3 311.8V318.6M674.7 307.0V313.8M676.0 309.8V316.6M677.3 311.3V318.1M678.0 303.6V310.4M679.3 309.5V316.3M680.6 310.8V317.6M681.9 306.8V313.6M682.6 307.5V314.3M683.9 308.2V315.0M685.2 311.9V318.7M686.5 309.6V316.4M687.2 302.0V308.8M689.7 277.1V283.9M691.6 291.6V298.4M693.1 311.3V318.1M694.4 311.5V318.3M695.7 306.9V313.7M696.4 304.6V311.4M697.1 308.8V315.6M698.4 307.4V314.2M699.7 313.3V320.1M701.0 309.7V316.5M702.3 309.6V316.4M703.6 318.3V325.1M704.5 305.3V312.1M705.6 313.2V320.0M706.9 313.7V320.5M708.2 312.7V319.5M709.6 310.4V317.2M710.9 315.4V322.2M712.2 311.4V318.2M713.5 309.5V316.3M714.8 313.4V320.2M716.1 313.3V320.1M717.5 311.7V318.5M718.8 312.8V319.6M720.1 319.9V326.7M721.4 315.5V322.3M722.7 316.4V323.2M724.0 314.1V320.9M725.4 317.4V324.2M726.7 315.9V322.7" stroke="#ff0000" stroke-width="0.5" fill="none"/>
<path d="M93.1 345.6a1.7 1.7 0 1 0 3.4 0a1.7 1.7 0 1 0 -3.4 0M93.5 343.7a1.7 1.7 0 1 0 3.4 0a1.7 1.7 0 1 0 -3.4 0M94.0 343.4a1.7 1.7 0 1 0 3.4 0a1.7 1.7 0 1 0 -3.4 0M94.4 345.4a1.7 1.7 0 1 0 3.4 0a1.7 1.7 0 1 0 -3.4 0M94.9 345.6a1.7 1.7 0 1 0 3.4 0a1.7 1.7 0 1 0 -3.4 0M95.3 345.5a1.7 1.7 0 1 0 3.4 0a1.7 1.7 0 1 0 -3.4 0M95.7 345.7a1.7 1.7 0 1 0 3.4 0a1.7 1.7 0 1 0 -3.4 0M96.2 345.3a1.7 1.7 0 1 0 3.4 0a1.7 1.7 0 1 0 -3.4 0M96.6 339.7a1.7 1.7 0 1 0 3.4 0a1.7 1.7 0 1 0 -3.4 0M97.1 341.9a1.7 1.7 0 1 0 3.4 0a1.7 1.7 0 1 0 -3.4 0M97.5 343.0a1.7 1.7 0 1 0 3.4 0a1.7 1.7 0 1 0 -3.4 0M97.9 342.2a1.7 1.7 0 1 0 3.4 0a1.7 1.7 0 1 0 -3.4 0M98.4 344.5a1.7 1.7 0 1 0 3.4 0a1.7 1.7 0 1 0 -3.4 0M98.8 346.8a1.7 1.7 0 1 0 3.4 0a1.7 1.7 0 1 0 -3.4 0M99.2 346.1a1.7 1.7 0 1 0 3.4 0a1.7 1.7 0 1 0 -3.4 0M99.7 341.8a1.7 1.7 0 1 0 3.4 0a1.7 1.7 0 1 0 -3.4 0M100.1 342.9a1.7 1.7 0 1 0 3.4 0a1.7 1.7 0 1 0 -3.4 0M100.6 344.0a1.7 1.7 0 1 0 3.4 0a1.7 1.7 0 1 0 -3.4 0M101.0 341.3a1.7 1.7 0 1 0 3.4 0a1.7 1.7 0 1 0 -3.4 0M101.4 345.4a1.7 1.7 0 1 0 3.4 0a1.7 1.7 0 1 0 -3.4 0M101.9 343.0a1.7 1.7 0 1 0 3.4 0a1.7 1.7 0 1 0 -3.4 0M102.3 339.9a1.7 1.7 0 1 0 3.4 0a1.7 1.7 0 1 0 -3.4 0M102.8 345.5a1.7 1.7 0 1 0 3.4 0a1.7 1.7 0 1 0 -3.4 0M103.2 341.1a1.7 1.7 0 1 0 3.4 0a1.7 1.7 0 1 0 -3.4 0M103.6 340.2a1.7 1.7 0 1 0 3.4 0a1.7 1.7 0 1 0 -3.4 0M104.1 342.2a1.7 1.7 0 1 0 3.4 0a1.7 1.7 0 1 0 -3.4 0M104.5 343.2a1.7 1.7 0 1 0 3.4 0a1.7 1.7 0 1 0 -3.4 0M105.0 344.0a1.7 1.7 0 1 0 3.4 0a1.7 1.7 0 1 0 -3.4 0M105.4 343.8a1.7 1.7 0 1 0 3.4 0a1.7 1.7 0 1 0 -3.4 0M105.8 340.5a1.7 1.7 0 1 0 3.4 0a1.7 1.7 0 1 0 -3.4 0M106.3 342.2a1.7 1.7 0 1 0 3.4 0a1.7 1.7 0 1 0 -3.4 0M106.7 340.5a1.7 1.7 0 1 0 3.4 0a1.7 1.7 0 1 0 -3.4 0M107.1 341.3a1.7 1.7 0 1 0 3.4 0a1.7 1.7 0 1 0 -3.4 0M107.6 339.1a1.7 1.7 0 1 0 3.4 0a1.7 1.7 0 1 0 -3.4 0M108.0 342.6a1.7 1.7 0 1 0 3.4 0a1.7 1.7 0 1 0 -3.4 0M108.5 344.2a1.7 1.7 0 1 0 3.4 0a1.7 1.7 0 1 0 -3.4 0M108.9 336.8a1.7 1.7 0 1 0 3.4 0a1.7 1.7 0 1 0 -3.4 0M109.3 340.6a1.7 1.7 0 1 0 3.4 0a1.7 1.7 0 1 0 -3.4 0M109.8 343.4a1.7 1.7 0 1 0 3.4 0a1.7 1.7 0 1 0 -3.4 0M110.2 342.5a1.7 1.7 0 1 0 3.4 0a1.7 1.7 0 1 0 -3.4 0M110.7 343.1a1.7 1.7 0 1 0 3.4 0a1.7 1.7 0 1 0 -3.4 0M111.1 344.4a1.7 1.7 0 1 0 3.4 0a1.7 1.7 0 1 0 -3.4 0M111.5 344.4a1.7 1.7 0 1 0 3.4 0a1.7 1.7 0 1 0 -3.4 0M112.0 344.7a1.7 1.7 0 1 0 3.4 0a1.7 1.7 0 1 0 -3.4 0M112.4 343.7a1.7 1.7 0 1 0 3.4 0a1.7 1.7 0 1 0 -3.4 0M112.9 340.0a1.7 1.7 0 1 0 3.4 0a1.7 1.7 0 1 0 -3.4 0M113.3 338.2a1.7 1.7 0 1 0 3.4 0a1.7 1.7 0 1 0 -3.4 0M113.7 343.7a1.7 1.7 0 1 0 3.4 0a1.7 1.7 0 1 0 -3.4 0M114.2 344.1a1.7 1.7 0 1 0 3.4 0a1.7 1.7 0 1 0 -3.4 0M114.6 341.0a1.7 1.7 0 1 0 3.4 0a1.7 1.7 0 1 0 -3.4 0M115.0 342.8a1.7 1.7 0 1 0 3.4 0a1.7 1.7 0 1 0 -3.4 0M115.5 343.8a1.7 1.7 0 1 0 3.4 0a1.7 1.7 0 1 0 -3.4 0M115.9 340.2a1.7 1.7 0 1 0 3.4 0a1.7 1.7 0 1 0 -3.4 0M116.4 341.8a1.7 1.7 0 1 0 3.4 0a1.7 1.7 0 1 0 -3.4 0M116.8 343.0a1.7 1.7 0 1 0 3.4 0a1.7 1.7 0 1 0 -3.4 0M117.2 341.1a1.7 1.7 0 1 0 3.4 0a1.7 1.7 0 1 0 -3.4 0M117.7 340.7a1.7 1.7 0 1 0 3.4 0a1.7 1.7 0 1 0 -3.4 0M118.1 340.3a1.7 1.7 0 1 0 3.4 0a1.7 1.7 0 1 0 -3.4 0M118.6 339.6a1.7 1.7 0 1 0 3.4 0a1.7 1.7 0 1 0 -3.4 0M119.0 339.8a1.7 1.7 0 1 0 3.4 0a1.7 1.7 0 1 0 -3.4 0M119.4 342.9a1.7 1.7 0 1 0 3.4 0a1.7 1.7 0 1 0 -3.4 0M119.9 343.8a1.7 1.7 0 1 0 3.4 0a1.7 1.7 0 1 0 -3.4 0M120.3 342.4a1.7 1.7 0 1 0 3.4 0a1.7 1.7 0 1 0 -3.4 0M120.8 343.1a1.7 1.7 0 1 0 3.4 0a1.7 1.7 0 1 0 -3.4 0M121.2 342.2a1.7 1.7 0 1 0 3.4 0a1.7 1.7 0 1 0 -3.4 0M121.6 341.8a1.7 1.7 0 1 0 3.4 0a1.7 1.7 0 1 0 -3.4 0M122.1 343.1a1.7 1.7 0 1 0 3.4 0a1.7 1.7 0 1 0 -3.4 0M122.5 343.6a1.7 1.7 0 1 0 3.4 0a1.7 1.7 0 1 0 -3.4 0M122.9 341.5a1.7 1.7 0 1 0 3.4 0a1.7 1.7 0 1 0 -3.4 0M123.4 343.8a1.7 1.7 0 1 0 3.4 0a1.7 1.7 0 1 0 -3.4 0M123.8 342.2a1.7 1.7 0 1 0 3.4 0a1.7 1.7 0 1 0 -3.4 0M124.3 337.2a1.7 1.7 0 1 0 3.4 0a1.7 1.7 0 1 0 -3.4 0M124.7 341.8a1.7 1.7 0 1 0 3.4 0a1.7 1.7 0 1 0 -3.4 0M125.1 341.8a1.7 1.7 0 1 0 3.4 0a1.7 1.7 0 1 0 -3.4 0M125.6 342.1a1.7 1.7 0 1 0 3.4 0a1.7 1.7 0 1 0 -3.4 0M126.0 339.8a1.7 1.7 0 1 0 3.4 0a1.7 1.7 0 1 0 -3.4 0M126.5 342.8a1.7 1.7 0 1 0 3.4 0a1.7 1.7 0 1 0 -3.4 0M126.9 341.2a1.7 1.7 0 1 0 3.4 0a1.7 1.7 0 1 0 -3.4 0M127.3 340.8a1.7 1.7 0 1 0 3.4 0a1.7 1.7 0 1 0 -3.4 0M127.8 338.1a1.7 1.7 0 1 0 3.4 0a1.7 1.7 0 1 0 -3.4 0M128.2 337.4a1.7 1.7 0 1 0 3.4 0a1.7 1.7 0 1 0 -3.4 0M128.7 341.5a1.7 1.7 0 1 0 3.4 0a1.7 1.7 0 1 0 -3.4 0M129.1 343.1a1.7 1.7 0 1 0 3.4 0a1.7 1.7 0 1 0 -3.4 0M129.5 338.2a1.7 1.7 0 1 0 3.4 0a1.7 1.7 0 1 0 -3.4 0M130.0 340.0a1.7 1.7 0 1 0 3.4 0a1.7 1.7 0 1 0 -3.4 0M130.4 334.1a1.7 1.7 0 1 0 3.4 0a1.7 1.7 0 1 0 -3.4 0M130.9 337.1a1.7 1.7 0 1 0 3.4 0a1.7 1.7 0 1 0 -3.4 0M131.3 337.3a1.7 1.7 0 1 0 3.4 0a1.7 1.7 0 1 0 -3.4 0M131.7 342.5a1.7 1.7 0 1 0 3.4 0a1.7 1.7 0 1 0 -3.4 0M132.2 340.2a1.7 1.7 0 1 0 3.4 0a1.7 1.7 0 1 0 -3.4 0M132.6 340.4a1.7 1.7 0 1 0 3.4 0a1.7 1.7 0 1 0 -3.4 0M133.0 342.9a1.7 1.7 0 1 0 3.4 0a1.7 1.7 0 1 0 -3.4 0M133.5 339.7a1.7 1.7 0 1 0 3.4 0a1.7 1.7 0 1 0 -3.4 0M133.9 339.3a1.7 1.7 0 1 0 3.4 0a1.7 1.7 0 1 0 -3.4 0M134.4 341.1a1.7 1.7 0 1 0 3.4 0a1.7 1.7 0 1 0 -3.4 0M134.8 342.6a1.7 1.7 0 1 0 3.4 0a1.7 1.7 0 1 0 -3.4 0M135.2 342.2a1.7 1.7 0 1 0 3.4 0a1.7 1.7 0 1 0 -3.4 0M135.7 336.5a1.7 1.7 0 1 0 3.4 0a1.7 1.7 0 1 0 -3.4 0M136.1 337.8a1.7 1.7 0 1 0 3.4 0a1.7 1.7 0 1 0 -3.4 0M136.6 335.9a1.7 1.7 0 1 0 3.4 0a1.7 1.7 0 1 0 -3.4 0M137.0 340.9a1.7 1.7 0 1 0 3.4 0a1.7 1.7 0 1 0 -3.4 0M137.4 338.2a1.7 1.7 0 1 0 3.4 0a1.7 1.7 0 1 0 -3.4 0M137.9 337.4a1.7 1.7 0 1 0 3.4 0a1.7 1.7 0 1 0 -3.4 0M138.3 343.0a1.7 1.7 0 1 0 3.4 0a1.7 1.7 0 1 0 -3.4 0M138.8 342.1a1.7 1.7 0 1 0 3.4 0a1.7 1.7 0 1 0 -3.4 0M139.2 339.0a1.7 1.7 0 1 0 3.4 0a1.7 1.7 0 1 0 -3.4 0M139.6 340.7a1.7 1.7 0 1 0 3.4 0a1.7 1.7 0 1 0 -3.4 0M140.1 336.5a1.7 1.7 0 1 0 3.4 0a1.7 1.7 0 1 0 -3.4 0M140.5 338.7a1.7 1.7 0 1 0 3.4 0a1.7 1.7 0 1 0 -3.4 0M140.9 336.7a1.7 1.7 0 1 0 3.4 0a1.7 1.7 0 1 0 -3.4 0M141.4 342.1a1.7 1.7 0 1 0 3.4 0a1.7 1.7 0 1 0 -3.4 0M141.8 339.3a1.7 1.7 0 1 0 3.4 0a1.7 1.7 0 1 0 -3.4 0M142.3 340.9a1.7 1.7 0 1 0 3.4 0a1.7 1.7 0 1 0 -3.4 0M142.7 338.9a1.7 1.7 0 1 0 3.4 0a1.7 1.7 0 1 0 -3.4 0M143.1 338.7a1.7 1.7 0 1 0 3.4 0a1.7 1.7 0 1 0 -3.4 0M143.6 336.7a1.7 1.7 0 1 0 3.4 0a1.7 1.7 0 1 0 -3.4 0M144.0 337.9a1.7 1.7 0 1 0 3.4 0a1.7 1.7 0 1 0 -3.4 0M144.5 335.3a1.7 1.7 0 1 0 3.4 0a1.7 1.7 0 1 0 -3.4 0M144.9 338.1a1.7 1.7 0 1 0 3.4 0a1.7 1.7 0 1 0 -3.4 0M145.3 339.2a1.7 1.7 0 1 0 3.4 0a1.7 1.7 0 1 0 -3.4 0M145.8 338.5a1.7 1.7 0 1 0 3.4 0a1.7 1.7 0 1 0 -3.4 0M146.2 340.6a1.7 1.7 0 1 0 3.4 0a1.7 1.7 0 1 0 -3.4 0M146.7 338.5a1.7 1.7 0 1 0 3.4 0a1.7 1.7 0 1 0 -3.4 0M147.1 333.4a1.7 1.7 0 1 0 3.4 0a1.7 1.7 0 1 0 -3.4 0M147.5 336.6a1.7 1.7 0 1 0 3.4 0a1.7 1.7 0 1 0 -3.4 0M148.0 333.9a1.7 1.7 0 1 0 3.4 0a1.7 1.7 0 1 0 -3.4 0M148.4 334.1a1.7 1.7 0 1 0 3.4 0a1.7 1.7 0 1 0 -3.4 0M148.8 334.5a1.7 1.7 0 1 0 3.4 0a1.7 1.7 0 1 0 -3.4 0M149.3 335.5a1.7 1.7 0 1 0 3.4 0a1.7 1.7 0 1 0 -3.4 0M149.7 337.7a1.7 1.7 0 1 0 3.4 0a1.7 1.7 0 1 0 -3.4 0M150.2 333.1a1.7 1.7 0 1 0 3.4 0a1.7 1.7 0 1 0 -3.4 0M150.6 337.4a1.7 1.7 0 1 0 3.4 0a1.7 1.7 0 1 0 -3.4 0M151.0 333.1a1.7 1.7 0 1 0 3.4 0a1.7 1.7 0 1 0 -3.4 0M151.5 336.7a1.7 1.7 0 1 0 3.4 0a1.7 1.7 0 1 0 -3.4 0M151.9 336.7a1.7 1.7 0 1 0 3.4 0a1.7 1.7 0 1 0 -3.4 0M152.4 332.9a1.7 1.7 0 1 0 3.4 0a1.7 1.7 0 1 0 -3.4 0M152.8 333.0a1.7 1.7 0 1 0 3.4 0a1.7 1.7 0 1 0 -3.4 0M153.2 333.8a1.7 1.7 0 1 0 3.4 0a1.7 1.7 0 1 0 -3.4 0M153.7 332.9a1.7 1.7 0 1 0 3.4 0a1.7 1.7 0 1 0 -3.4 0M154.1 333.3a1.7 1.7 0 1 0 3.4 0a1.7 1.7 0 1 0 -3.4 0M154.6 333.8a1.7 1.7 0 1 0 3.4 0a1.7 1.7 0 1 0 -3.4 0M155.0 332.5a1.7 1.7 0 1 0 3.4 0a1.7 1.7 0 1 0 -3.4 0M155.4 328.0a1.7 1.7 0 1 0 3.4 0a1.7 1.7 0 1 0 -3.4 0M155.9 332.2a1.7 1.7 0 1 0 3.4 0a1.7 1.7 0 1 0 -3.4 0M156.3 329.9a1.7 1.7 0 1 0 3.4 0a1.7 1.7 0 1 0 -3.4 0M156.7 331.3a1.7 1.7 0 1 0 3.4 0a1.7 1.7 0 1 0 -3.4 0M157.2 334.5a1.7 1.7 0 1 0 3.4 0a1.7 1.7 0 1 0 -3.4 0M157.6 334.3a1.7 1.7 0 1 0 3.4 0a1.7 1.7 0 1 0 -3.4 0M158.1 335.8a1.7 1.7 0 1 0 3.4 0a1.7 1.7 0 1 0 -3.4 0M158.5 330.5a1.7 1.7 0 1 0 3.4 0a1.7 1.7 0 1 0 -3.4 0M158.9 337.8a1.7 1.7 0 1 0 3.4 0a1.7 1.7 0 1 0 -3.4 0M159.4 333.8a1.7 1.7 0 1 0 3.4 0a1.7 1.7 0 1 0 -3.4 0M159.8 332.3a1.7 1.7 0 1 0 3.4 0a1.7 1.7 0 1 0 -3.4 0M160.3 340.6a1.7 1.7 0 1 0 3.4 0a1.7 1.7 0 1 0 -3.4 0M160.7 336.3a1.7 1.7 0 1 0 3.4 0a1.7 1.7 0 1 0 -3.4 0M161.1 335.6a1.7 1.7 0 1 0 3.4 0a1.7 1.7 0 1 0 -3.4 0M161.6 337.6a1.7 1.7 0 1 0 3.4 0a1.7 1.7 0 1 0 -3.4 0M162.0 334.7a1.7 1.7 0 1 0 3.4 0a1.7 1.7 0 1 0 -3.4 0M162.5 336.5a1.7 1.7 0 1 0 3.4 0a1.7 1.7 0 1 0 -3.4 0M162.9 334.2a1.7 1.7 0 1 0 3.4 0a1.7 1.7 0 1 0 -3.4 0M163.3 333.1a1.7 1.7 0 1 0 3.4 0a1.7 1.7 0 1 0 -3.4 0M163.8 334.4a1.7 1.7 0 1 0 3.4 0a1.7 1.7 0 1 0 -3.4 0M164.2 331.9a1.7 1.7 0 1 0 3.4 0a1.7 1.7 0 1 0 -3.4 0M164.7 337.3a1.7 1.7 0 1 0 3.4 0a1.7 1.7 0 1 0 -3.4 0M165.1 329.9a1.7 1.7 0 1 0 3.4 0a1.7 1.7 0 1 0 -3.4 0M165.5 336.1a1.7 1.7 0 1 0 3.4 0a1.7 1.7 0 1 0 -3.4 0M166.0 336.6a1.7 1.7 0 1 0 3.4 0a1.7 1.7 0 1 0 -3.4 0M166.4 336.3a1.7 1.7 0 1 0 3.4 0a1.7 1.7 0 1 0 -3.4 0M166.8 335.8a1.7 1.7 0 1 0 3.4 0a1.7 1.7 0 1 0 -3.4 0M167.3 332.3a1.7 1.7 0 1 0 3.4 0a1.7 1.7 0 1 0 -3.4 0M167.7 337.9a1.7 1.7 0 1 0 3.4 0a1.7 1.7 0 1 0 -3.4 0M168.2 331.8a1.7 1.7 0 1 0 3.4 0a1.7 1.7 0 1 0 -3.4 0M168.6 333.6a1.7 1.7 0 1 0 3.4 0a1.7 1.7 0 1 0 -3.4 0M169.0 330.9a1.7 1.7 0 1 0 3.4 0a1.7 1.7 0 1 0 -3.4 0M169.5 336.0a1.7 1.7 0 1 0 3.4 0a1.7 1.7 0 1 0 -3.4 0M169.9 330.3a1.7 1.7 0 1 0 3.4 0a1.7 1.7 0 1 0 -3.4 0M170.4 335.8a1.7 1.7 0 1 0 3.4 0a1.7 1.7 0 1 0 -3.4 0M170.8 336.2a1.7 1.7 0 1 0 3.4 0a1.7 1.7 0 1 0 -3.4 0M171.2 334.2a1.7 1.7 0 1 0 3.4 0a1.7 1.7 0 1 0 -3.4 0M171.7 330.6a1.7 1.7 0 1 0 3.4 0a1.7 1.7 0 1 0 -3.4 0M172.1 333.0a1.7 1.7 0 1 0 3.4 0a1.7 1.7 0 1 0 -3.4 0M172.6 331.2a1.7 1.7 0 1 0 3.4 0a1.7 1.7 0 1 0 -3.4 0M173.0 332.5a1.7 1.7 0 1 0 3.4 0a1.7 1.7 0 1 0 -3.4 0M173.4 332.4a1.7 1.7 0 1 0 3.4 0a1.7 1.7 0 1 0 -3.4 0M173.9 333.3a1.7 1.7 0 1 0 3.4 0a1.7 1.7 0 1 0 -3.4 0M174.3 330.0a1.7 1.7 0 1 0 3.4 0a1.7 1.7 0 1 0 -3.4 0M174.7 331.2a1.7 1.7 0 1 0 3.4 0a1.7 1.7 0 1 0 -3.4 0M175.2 331.4a1.7 1.7 0 1 0 3.4 0a1.7 1.7 0 1 0 -3.4 0M175.6 331.4a1.7 1.7 0 1 0 3.4 0a1.7 1.7 0 1 0 -3.4 0M176.1 328.4a1.7 1.7 0 1 0 3.4 0a1.7 1.7 0 1 0 -3.4 0M176.5 333.2a1.7 1.7 0 1 0 3.4 0a1.7 1.7 0 1 0 -3.4 0M176.9 330.9a1.7 1.7 0 1 0 3.4 0a1.7 1.7 0 1 0 -3.4 0M177.4 329.5a1.7 1.7 0 1 0 3.4 0a1.7 1.7 0 1 0 -3.4 0M177.8 330.3a1.7 1.7 0 1 0 3.4 0a1.7 1.7 0 1 0 -3.4 0M178.3 331.1a1.7 1.7 0 1 0 3.4 0a1.7 1.7 0 1 0 -3.4 0M178.7 323.8a1.7 1.7 0 1 0 3.4 0a1.7 1.7 0 1 0 -3.4 0M179.1 331.8a1.7 1.7 0 1 0 3.4 0a1.7 1.7 0 1 0 -3.4 0M179.6 325.9a1.7 1.7 0 1 0 3.4 0a1.7 1.7 0 1 0 -3.4 0M180.0 329.4a1.7 1.7 0 1 0 3.4 0a1.7 1.7 0 1 0 -3.4 0M180.5 329.2a1.7 1.7 0 1 0 3.4 0a1.7 1.7 0 1 0 -3.4 0M180.9 331.3a1.7 1.7 0 1 0 3.4 0a1.7 1.7 0 1 0 -3.4 0M181.3 331.1a1.7 1.7 0 1 0 3.4 0a1.7 1.7 0 1 0 -3.4 0M181.8 332.8a1.7 1.7 0 1 0 3.4 0a1.7 1.7 0 1 0 -3.4 0M182.2 329.1a1.7 1.7 0 1 0 3.4 0a1.7 1.7 0 1 0 -3.4 0M182.6 332.4a1.7 1.7 0 1 0 3.4 0a1.7 1.7 0 1 0 -3.4 0M183.1 332.6a1.7 1.7 0 1 0 3.4 0a1.7 1.7 0 1 0 -3.4 0M183.5 332.5a1.7 1.7 0 1 0 3.4 0a1.7 1.7 0 1 0 -3.4 0M184.0 335.4a1.7 1.7 0 1 0 3.4 0a1.7 1.7 0 1 0 -3.4 0M184.4 330.4a1.7 1.7 0 1 0 3.4 0a1.7 1.7 0 1 0 -3.4 0M184.8 335.8a1.7 1.7 0 1 0 3.4 0a1.7 1.7 0 1 0 -3.4 0M185.3 331.9a1.7 1.7 0 1 0 3.4 0a1.7 1.7 0 1 0 -3.4 0M185.7 330.6a1.7 1.7 0 1 0 3.4 0a1.7 1.7 0 1 0 -3.4 0M186.2 330.0a1.7 1.7 0 1 0 3.4 0a1.7 1.7 0 1 0 -3.4 0M186.6 331.9a1.7 1.7 0 1 0 3.4 0a1.7 1.7 0 1 0 -3.4 0M187.0 330.0a1.7 1.7 0 1 0 3.4 0a1.7 1.7 0 1 0 -3.4 0M187.5 331.4a1.7 1.7 0 1 0 3.4 0a1.7 1.7 0 1 0 -3.4 0M187.9 330.2a1.7 1.7 0 1 0 3.4 0a1.7 1.7 0 1 0 -3.4 0M188.4 331.1a1.7 1.7 0 1 0 3.4 0a1.7 1.7 0 1 0 -3.4 0M188.8 327.6a1.7 1.7 0 1 0 3.4 0a1.7 1.7 0 1 0 -3.4 0M189.2 325.8a1.7 1.7 0 1 0 3.4 0a1.7 1.7 0 1 0 -3.4 0M189.7 324.4a1.7 1.7 0 1 0 3.4 0a1.7 1.7 0 1 0 -3.4 0M190.1 329.1a1.7 1.7 0 1 0 3.4 0a1.7 1.7 0 1 0 -3.4 0M190.5 328.1a1.7 1.7 0 1 0 3.4 0a1.7 1.7 0 1 0 -3.4 0M191.0 325.2a1.7 1.7 0 1 0 3.4 0a1.7 1.7 0 1 0 -3.4 0M191.4 330.1a1.7 1.7 0 1 0 3.4 0a1.7 1.7 0 1 0 -3.4 0M191.9 327.8a1.7 1.7 0 1 0 3.4 0a1.7 1.7 0 1 0 -3.4 0M192.3 325.5a1.7 1.7 0 1 0 3.4 0a1.7 1.7 0 1 0 -3.4 0M192.7 331.3a1.7 1.7 0 1 0 3.4 0a1.7 1.7 0 1 0 -3.4 0M193.2 327.9a1.7 1.7 0 1 0 3.4 0a1.7 1.7 0 1 0 -3.4 0M193.6 324.8a1.7 1.7 0 1 0 3.4 0a1.7 1.7 0 1 0 -3.4 0M194.1 325.0a1.7 1.7 0 1 0 3.4 0a1.7 1.7 0 1 0 -3.4 0M194.5 324.0a1.7 1.7 0 1 0 3.4 0a1.7 1.7 0 1 0 -3.4 0M194.9 327.5a1.7 1.7 0 1 0 3.4 0a1.7 1.7 0 1 0 -3.4 0M195.4 328.8a1.7 1.7 0 1 0 3.4 0a1.7 1.7 0 1 0 -3.4 0M195.8 330.7a1.7 1.7 0 1 0 3.4 0a1.7 1.7 0 1 0 -3.4 0M196.3 326.4a1.7 1.7 0 1 0 3.4 0a1.7 1.7 0 1 0 -3.4 0M196.7 324.6a1.7 1.7 0 1 0 3.4 0a1.7 1.7 0 1 0 -3.4 0M197.1 326.8a1.7 1.7 0 1 0 3.4 0a1.7 1.7 0 1 0 -3.4 0M197.6 324.0a1.7 1.7 0 1 0 3.4 0a1.7 1.7 0 1 0 -3.4 0M198.0 326.4a1.7 1.7 0 1 0 3.4 0a1.7 1.7 0 1 0 -3.4 0M198.5 325.8a1.7 1.7 0 1 0 3.4 0a1.7 1.7 0 1 0 -3.4 0M198.9 325.0a1.7 1.7 0 1 0 3.4 0a1.7 1.7 0 1 0 -3.4 0M199.3 327.7a1.7 1.7 0 1 0 3.4 0a1.7 1.7 0 1 0 -3.4 0M199.8 325.6a1.7 1.7 0 1 0 3.4 0a1.7 1.7 0 1 0 -3.4 0M200.2 321.4a1.7 1.7 0 1 0 3.4 0a1.7 1.7 0 1 0 -3.4 0M200.6 326.4a1.7 1.7 0 1 0 3.4 0a1.7 1.7 0 1 0 -3.4 0M201.1 325.9a1.7 1.7 0 1 0 3.4 0a1.7 1.7 0 1 0 -3.4 0M201.5 323.0a1.7 1.7 0 1 0 3.4 0a1.7 1.7 0 1 0 -3.4 0M202.0 325.2a1.7 1.7 0 1 0 3.4 0a1.7 1.7 0 1 0 -3.4 0M202.4 327.4a1.7 1.7 0 1 0 3.4 0a1.7 1.7 0 1 0 -3.4 0M202.8 324.6a1.7 1.7 0 1 0 3.4 0a1.7 1.7 0 1 0 -3.4 0M203.3 326.1a1.7 1.7 0 1 0 3.4 0a1.7 1.7 0 1 0 -3.4 0M203.7 327.3a1.7 1.7 0 1 0 3.4 0a1.7 1.7 0 1 0 -3.4 0M204.2 323.6a1.7 1.7 0 1 0 3.4 0a1.7 1.7 0 1 0 -3.4 0M204.6 324.6a1.7 1.7 0 1 0 3.4 0a1.7 1.7 0 1 0 -3.4 0M205.0 325.3a1.7 1.7 0 1 0 3.4 0a1.7 1.7 0 1 0 -3.4 0M205.5 325.6a1.7 1.7 0 1 0 3.4 0a1.7 1.7 0 1 0 -3.4 0M205.9 325.0a1.7 1.7 0 1 0 3.4 0a1.7 1.7 0 1 0 -3.4 0M206.4 326.7a1.7 1.7 0 1 0 3.4 0a1.7 1.7 0 1 0 -3.4 0M206.8 328.1a1.7 1.7 0 1 0 3.4 0a1.7 1.7 0 1 0 -3.4 0M207.2 323.5a1.7 1.7 0 1 0 3.4 0a1.7 1.7 0 1 0 -3.4 0M207.7 328.0a1.7 1.7 0 1 0 3.4 0a1.7 1.7 0 1 0 -3.4 0M208.1 332.4a1.7 1.7 0 1 0 3.4 0a1.7 1.7 0 1 0 -3.4 0M208.5 330.2a1.7 1.7 0 1 0 3.4 0a1.7 1.7 0 1 0 -3.4 0M209.0 329.8a1.7 1.7 0 1 0 3.4 0a1.7 1.7 0 1 0 -3.4 0M209.4 327.6a1.7 1.7 0 1 0 3.4 0a1.7 1.7 0 1 0 -3.4 0M209.9 325.8a1.7 1.7 0 1 0 3.4 0a1.7 1.7 0 1 0 -3.4 0M210.3 326.3a1.7 1.7 0 1 0 3.4 0a1.7 1.7 0 1 0 -3.4 0M210.7 332.4a1.7 1.7 0 1 0 3.4 0a1.7 1.7 0 1 0 -3.4 0M211.2 327.7a1.7 1.7 0 1 0 3.4 0a1.7 1.7 0 1 0 -3.4 0M211.6 328.2a1.7 1.7 0 1 0 3.4 0a1.7 1.7 0 1 0 -3.4 0M212.1 327.8a1.7 1.7 0 1 0 3.4 0a1.7 1.7 0 1 0 -3.4 0M212.5 328.8a1.7 1.7 0 1 0 3.4 0a1.7 1.7 0 1 0 -3.4 0M212.9 330.2a1.7 1.7 0 1 0 3.4 0a1.7 1.7 0 1 0 -3.4 0M213.4 327.6a1.7 1.7 0 1 0 3.4 0a1.7 1.7 0 1 0 -3.4 0M213.8 326.6a1.7 1.7 0 1 0 3.4 0a1.7 1.7 0 1 0 -3.4 0M214.3 326.6a1.7 1.7 0 1 0 3.4 0a1.7 1.7 0 1 0 -3.4 0M214.7 327.1a1.7 1.7 0 1 0 3.4 0a1.7 1.7 0 1 0 -3.4 0M215.1 328.7a1.7 1.7 0 1 0 3.4 0a1.7 1.7 0 1 0 -3.4 0M215.6 327.8a1.7 1.7 0 1 0 3.4 0a1.7 1.7 0 1 0 -3.4 0M216.0 328.7a1.7 1.7 0 1 0 3.4 0a1.7 1.7 0 1 0 -3.4 0M216.4 327.4a1.7 1.7 0 1 0 3.4 0a1.7 1.7 0 1 0 -3.4 0M216.9 329.8a1.7 1.7 0 1 0 3.4 0a1.7 1.7 0 1 0 -3.4 0M217.3 331.5a1.7 1.7 0 1 0 3.4 0a1.7 1.7 0 1 0 -3.4 0M217.8 328.3a1.7 1.7 0 1 0 3.4 0a1.7 1.7 0 1 0 -3.4 0M218.2 326.0a1.7 1.7 0 1 0 3.4 0a1.7 1.7 0 1 0 -3.4 0M218.6 328.5a1.7 1.7 0 1 0 3.4 0a1.7 1.7 0 1 0 -3.4 0M219.1 323.4a1.7 1.7 0 1 0 3.4 0a1.7 1.7 0 1 0 -3.4 0M219.5 321.6a1.7 1.7 0 1 0 3.4 0a1.7 1.7 0 1 0 -3.4 0M220.0 324.7a1.7 1.7 0 1 0 3.4 0a1.7 1.7 0 1 0 -3.4 0M220.4 324.9a1.7 1.7 0 1 0 3.4 0a1.7 1.7 0 1 0 -3.4 0M220.8 323.2a1.7 1.7 0 1 0 3.4 0a1.7 1.7 0 1 0 -3.4 0M221.3 322.5a1.7 1.7 0 1 0 3.4 0a1.7 1.7 0 1 0 -3.4 0M221.7 325.9a1.7 1.7 0 1 0 3.4 0a1.7 1.7 0 1 0 -3.4 0M222.2 325.1a1.7 1.7 0 1 0 3.4 0a1.7 1.7 0 1 0 -3.4 0M222.6 325.2a1.7 1.7 0 1 0 3.4 0a1.7 1.7 0 1 0 -3.4 0M223.0 327.8a1.7 1.7 0 1 0 3.4 0a1.7 1.7 0 1 0 -3.4 0M223.5 324.9a1.7 1.7 0 1 0 3.4 0a1.7 1.7 0 1 0 -3.4 0M223.9 323.4a1.7 1.7 0 1 0 3.4 0a1.7 1.7 0 1 0 -3.4 0M224.3 323.6a1.7 1.7 0 1 0 3.4 0a1.7 1.7 0 1 0 -3.4 0M224.8 325.6a1.7 1.7 0 1 0 3.4 0a1.7 1.7 0 1 0 -3.4 0M225.2 329.1a1.7 1.7 0 1 0 3.4 0a1.7 1.7 0 1 0 -3.4 0M225.7 324.5a1.7 1.7 0 1 0 3.4 0a1.7 1.7 0 1 0 -3.4 0M226.1 322.5a1.7 1.7 0 1 0 3.4 0a1.7 1.7 0 1 0 -3.4 0M226.5 326.0a1.7 1.7 0 1 0 3.4 0a1.7 1.7 0 1 0 -3.4 0M227.0 326.4a1.7 1.7 0 1 0 3.4 0a1.7 1.7 0 1 0 -3.4 0M227.4 326.1a1.7 1.7 0 1 0 3.4 0a1.7 1.7 0 1 0 -3.4 0M227.9 326.8a1.7 1.7 0 1 0 3.4 0a1.7 1.7 0 1 0 -3.4 0M228.3 322.3a1.7 1.7 0 1 0 3.4 0a1.7 1.7 0 1 0 -3.4 0M228.7 322.1a1.7 1.7 0 1 0 3.4 0a1.7 1.7 0 1 0 -3.4 0M229.2 324.8a1.7 1.7 0 1 0 3.4 0a1.7 1.7 0 1 0 -3.4 0M229.6 324.6a1.7 1.7 0 1 0 3.4 0a1.7 1.7 0 1 0 -3.4 0M230.1 324.5a1.7 1.7 0 1 0 3.4 0a1.7 1.7 0 1 0 -3.4 0M230.5 324.1a1.7 1.7 0 1 0 3.4 0a1.7 1.7 0 1 0 -3.4 0M230.9 323.4a1.7 1.7 0 1 0 3.4 0a1.7 1.7 0 1 0 -3.4 0M231.4 322.8a1.7 1.7 0 1 0 3.4 0a1.7 1.7 0 1 0 -3.4 0M231.8 325.4a1.7 1.7 0 1 0 3.4 0a1.7 1.7 0 1 0 -3.4 0M232.2 324.7a1.7 1.7 0 1 0 3.4 0a1.7 1.7 0 1 0 -3.4 0M232.7 323.6a1.7 1.7 0 1 0 3.4 0a1.7 1.7 0 1 0 -3.4 0M233.1 324.4a1.7 1.7 0 1 0 3.4 0a1.7 1.7 0 1 0 -3.4 0M233.6 326.2a1.7 1.7 0 1 0 3.4 0a1.7 1.7 0 1 0 -3.4 0M234.0 324.4a1.7 1.7 0 1 0 3.4 0a1.7 1.7 0 1 0 -3.4 0M234.4 325.5a1.7 1.7 0 1 0 3.4 0a1.7 1.7 0 1 0 -3.4 0M234.9 327.0a1.7 1.7 0 1 0 3.4 0a1.7 1.7 0 1 0 -3.4 0M235.3 321.1a1.7 1.7 0 1 0 3.4 0a1.7 1.7 0 1 0 -3.4 0M235.8 324.6a1.7 1.7 0 1 0 3.4 0a1.7 1.7 0 1 0 -3.4 0M236.2 325.6a1.7 1.7 0 1 0 3.4 0a1.7 1.7 0 1 0 -3.4 0M236.6 323.3a1.7 1.7 0 1 0 3.4 0a1.7 1.7 0 1 0 -3.4 0M237.1 323.4a1.7 1.7 0 1 0 3.4 0a1.7 1.7 0 1 0 -3.4 0M237.5 321.0a1.7 1.7 0 1 0 3.4 0a1.7 1.7 0 1 0 -3.4 0M238.0 323.6a1.7 1.7 0 1 0 3.4 0a1.7 1.7 0 1 0 -3.4 0M238.4 324.8a1.7 1.7 0 1 0 3.4 0a1.7 1.7 0 1 0 -3.4 0M238.8 328.4a1.7 1.7 0 1 0 3.4 0a1.7 1.7 0 1 0 -3.4 0M239.3 322.1a1.7 1.7 0 1 0 3.4 0a1.7 1.7 0 1 0 -3.4 0M239.7 324.7a1.7 1.7 0 1 0 3.4 0a1.7 1.7 0 1 0 -3.4 0M240.2 320.5a1.7 1.7 0 1 0 3.4 0a1.7 1.7 0 1 0 -3.4 0M240.6 323.5a1.7 1.7 0 1 0 3.4 0a1.7 1.7 0 1 0 -3.4 0M241.0 321.7a1.7 1.7 0 1 0 3.4 0a1.7 1.7 0 1 0 -3.4 0M241.5 322.7a1.7 1.7 0 1 0 3.4 0a1.7 1.7 0 1 0 -3.4 0M241.9 321.6a1.7 1.7 0 1 0 3.4 0a1.7 1.7 0 1 0 -3.4 0M242.3 323.7a1.7 1.7 0 1 0 3.4 0a1.7 1.7 0 1 0 -3.4 0M242.8 321.8a1.7 1.7 0 1 0 3.4 0a1.7 1.7 0 1 0 -3.4 0M243.2 321.4a1.7 1.7 0 1 0 3.4 0a1.7 1.7 0 1 0 -3.4 0M243.7 324.3a1.7 1.7 0 1 0 3.4 0a1.7 1.7 0 1 0 -3.4 0M244.1 322.8a1.7 1.7 0 1 0 3.4 0a1.7 1.7 0 1 0 -3.4 0M244.5 323.7a1.7 1.7 0 1 0 3.4 0a1.7 1.7 0 1 0 -3.4 0M245.0 322.1a1.7 1.7 0 1 0 3.4 0a1.7 1.7 0 1 0 -3.4 0M245.4 322.4a1.7 1.7 0 1 0 3.4 0a1.7 1.7 0 1 0 -3.4 0M245.9 317.0a1.7 1.7 0 1 0 3.4 0a1.7 1.7 0 1 0 -3.4 0M246.3 321.5a1.7 1.7 0 1 0 3.4 0a1.7 1.7 0 1 0 -3.4 0M246.7 322.5a1.7 1.7 0 1 0 3.4 0a1.7 1.7 0 1 0 -3.4 0M247.2 319.4a1.7 1.7 0 1 0 3.4 0a1.7 1.7 0 1 0 -3.4 0M247.6 317.8a1.7 1.7 0 1 0 3.4 0a1.7 1.7 0 1 0 -3.4 0M248.1 320.5a1.7 1.7 0 1 0 3.4 0a1.7 1.7 0 1 0 -3.4 0M248.5 320.8a1.7 1.7 0 1 0 3.4 0a1.7 1.7 0 1 0 -3.4 0M248.9 319.9a1.7 1.7 0 1 0 3.4 0a1.7 1.7 0 1 0 -3.4 0M249.4 324.6a1.7 1.7 0 1 0 3.4 0a1.7 1.7 0 1 0 -3.4 0M249.8 325.5a1.7 1.7 0 1 0 3.4 0a1.7 1.7 0 1 0 -3.4 0M250.2 320.3a1.7 1.7 0 1 0 3.4 0a1.7 1.7 0 1 0 -3.4 0M250.7 322.4a1.7 1.7 0 1 0 3.4 0a1.7 1.7 0 1 0 -3.4 0M251.1 315.4a1.7 1.7 0 1 0 3.4 0a1.7 1.7 0 1 0 -3.4 0M251.6 321.7a1.7 1.7 0 1 0 3.4 0a1.7 1.7 0 1 0 -3.4 0M252.0 325.8a1.7 1.7 0 1 0 3.4 0a1.7 1.7 0 1 0 -3.4 0M252.4 321.1a1.7 1.7 0 1 0 3.4 0a1.7 1.7 0 1 0 -3.4 0M252.9 321.8a1.7 1.7 0 1 0 3.4 0a1.7 1.7 0 1 0 -3.4 0M253.3 319.4a1.7 1.7 0 1 0 3.4 0a1.7 1.7 0 1 0 -3.4 0M253.8 314.5a1.7 1.7 0 1 0 3.4 0a1.7 1.7 0 1 0 -3.4 0M254.2 320.9a1.7 1.7 0 1 0 3.4 0a1.7 1.7 0 1 0 -3.4 0M254.6 326.2a1.7 1.7 0 1 0 3.4 0a1.7 1.7 0 1 0 -3.4 0M255.1 321.1a1.7 1.7 0 1 0 3.4 0a1.7 1.7 0 1 0 -3.4 0M255.5 319.3a1.7 1.7 0 1 0 3.4 0a1.7 1.7 0 1 0 -3.4 0M256.0 321.7a1.7 1.7 0 1 0 3.4 0a1.7 1.7 0 1 0 -3.4 0M256.4 320.4a1.7 1.7 0 1 0 3.4 0a1.7 1.7 0 1 0 -3.4 0M256.8 321.9a1.7 1.7 0 1 0 3.4 0a1.7 1.7 0 1 0 -3.4 0M257.3 320.0a1.7 1.7 0 1 0 3.4 0a1.7 1.7 0 1 0 -3.4 0M257.7 320.2a1.7 1.7 0 1 0 3.4 0a1.7 1.7 0 1 0 -3.4 0M258.1 322.6a1.7 1.7 0 1 0 3.4 0a1.7 1.7 0 1 0 -3.4 0M258.6 317.9a1.7 1.7 0 1 0 3.4 0a1.7 1.7 0 1 0 -3.4 0M259.0 321.1a1.7 1.7 0 1 0 3.4 0a1.7 1.7 0 1 0 -3.4 0M259.5 322.5a1.7 1.7 0 1 0 3.4 0a1.7 1.7 0 1 0 -3.4 0M259.9 321.2a1.7 1.7 0 1 0 3.4 0a1.7 1.7 0 1 0 -3.4 0M260.3 319.2a1.7 1.7 0 1 0 3.4 0a1.7 1.7 0 1 0 -3.4 0M260.8 320.4a1.7 1.7 0 1 0 3.4 0a1.7 1.7 0 1 0 -3.4 0M261.2 317.9a1.7 1.7 0 1 0 3.4 0a1.7 1.7 0 1 0 -3.4 0M261.7 318.9a1.7 1.7 0 1 0 3.4 0a1.7 1.7 0 1 0 -3.4 0M262.1 318.4a1.7 1.7 0 1 0 3.4 0a1.7 1.7 0 1 0 -3.4 0M262.5 314.8a1.7 1.7 0 1 0 3.4 0a1.7 1.7 0 1 0 -3.4 0M263.0 320.0a1.7 1.7 0 1 0 3.4 0a1.7 1.7 0 1 0 -3.4 0M263.4 318.7a1.7 1.7 0 1 0 3.4 0a1.7 1.7 0 1 0 -3.4 0M263.9 322.4a1.7 1.7 0 1 0 3.4 0a1.7 1.7 0 1 0 -3.4 0M264.3 320.4a1.7 1.7 0 1 0 3.4 0a1.7 1.7 0 1 0 -3.4 0M264.7 319.9a1.7 1.7 0 1 0 3.4 0a1.7 1.7 0 1 0 -3.4 0M265.2 318.9a1.7 1.7 0 1 0 3.4 0a1.7 1.7 0 1 0 -3.4 0M265.6 319.9a1.7 1.7 0 1 0 3.4 0a1.7 1.7 0 1 0 -3.4 0M266.0 322.1a1.7 1.7 0 1 0 3.4 0a1.7 1.7 0 1 0 -3.4 0M266.5 319.7a1.7 1.7 0 1 0 3.4 0a1.7 1.7 0 1 0 -3.4 0M266.9 321.2a1.7 1.7 0 1 0 3.4 0a1.7 1.7 0 1 0 -3.4 0M267.4 320.2a1.7 1.7 0 1 0 3.4 0a1.7 1.7 0 1 0 -3.4 0M267.8 318.8a1.7 1.7 0 1 0 3.4 0a1.7 1.7 0 1 0 -3.4 0M268.2 316.3a1.7 1.7 0 1 0 3.4 0a1.7 1.7 0 1 0 -3.4 0M268.7 316.5a1.7 1.7 0 1 0 3.4 0a1.7 1.7 0 1 0 -3.4 0M269.1 317.7a1.7 1.7 0 1 0 3.4 0a1.7 1.7 0 1 0 -3.4 0M269.6 320.2a1.7 1.7 0 1 0 3.4 0a1.7 1.7 0 1 0 -3.4 0M270.0 317.6a1.7 1.7 0 1 0 3.4 0a1.7 1.7 0 1 0 -3.4 0M270.4 321.9a1.7 1.7 0 1 0 3.4 0a1.7 1.7 0 1 0 -3.4 0M270.9 319.4a1.7 1.7 0 1 0 3.4 0a1.7 1.7 0 1 0 -3.4 0M271.3 319.8a1.7 1.7 0 1 0 3.4 0a1.7 1.7 0 1 0 -3.4 0M271.8 323.3a1.7 1.7 0 1 0 3.4 0a1.7 1.7 0 1 0 -3.4 0M272.2 315.7a1.7 1.7 0 1 0 3.4 0a1.7 1.7 0 1 0 -3.4 0M272.6 320.2a1.7 1.7 0 1 0 3.4 0a1.7 1.7 0 1 0 -3.4 0M273.1 321.1a1.7 1.7 0 1 0 3.4 0a1.7 1.7 0 1 0 -3.4 0M273.5 317.3a1.7 1.7 0 1 0 3.4 0a1.7 1.7 0 1 0 -3.4 0M274.0 321.3a1.7 1.7 0 1 0 3.4 0a1.7 1.7 0 1 0 -3.4 0M274.4 316.4a1.7 1.7 0 1 0 3.4 0a1.7 1.7 0 1 0 -3.4 0M274.8 314.5a1.7 1.7 0 1 0 3.4 0a1.7 1.7 0 1 0 -3.4 0M275.3 317.4a1.7 1.7 0 1 0 3.4 0a1.7 1.7 0 1 0 -3.4 0M275.7 317.1a1.7 1.7 0 1 0 3.4 0a1.7 1.7 0 1 0 -3.4 0M276.1 317.2a1.7 1.7 0 1 0 3.4 0a1.7 1.7 0 1 0 -3.4 0M276.6 316.6a1.7 1.7 0 1 0 3.4 0a1.7 1.7 0 1 0 -3.4 0M277.0 319.5a1.7 1.7 0 1 0 3.4 0a1.7 1.7 0 1 0 -3.4 0M277.5 322.2a1.7 1.7 0 1 0 3.4 0a1.7 1.7 0 1 0 -3.4 0M277.9 317.4a1.7 1.7 0 1 0 3.4 0a1.7 1.7 0 1 0 -3.4 0M278.3 320.6a1.7 1.7 0 1 0 3.4 0a1.7 1.7 0 1 0 -3.4 0M278.8 316.5a1.7 1.7 0 1 0 3.4 0a1.7 1.7 0 1 0 -3.4 0M279.2 314.5a1.7 1.7 0 1 0 3.4 0a1.7 1.7 0 1 0 -3.4 0M279.7 317.6a1.7 1.7 0 1 0 3.4 0a1.7 1.7 0 1 0 -3.4 0M280.1 317.3a1.7 1.7 0 1 0 3.4 0a1.7 1.7 0 1 0 -3.4 0M280.5 313.9a1.7 1.7 0 1 0 3.4 0a1.7 1.7 0 1 0 -3.4 0M281.0 318.7a1.7 1.7 0 1 0 3.4 0a1.7 1.7 0 1 0 -3.4 0M281.4 319.5a1.7 1.7 0 1 0 3.4 0a1.7 1.7 0 1 0 -3.4 0M281.9 318.9a1.7 1.7 0 1 0 3.4 0a1.7 1.7 0 1 0 -3.4 0M282.3 319.0a1.7 1.7 0 1 0 3.4 0a1.7 1.7 0 1 0 -3.4 0M282.7 318.4a1.7 1.7 0 1 0 3.4 0a1.7 1.7 0 1 0 -3.4 0M283.2 323.2a1.7 1.7 0 1 0 3.4 0a1.7 1.7 0 1 0 -3.4 0M283.6 319.5a1.7 1.7 0 1 0 3.4 0a1.7 1.7 0 1 0 -3.4 0M284.0 317.4a1.7 1.7 0 1 0 3.4 0a1.7 1.7 0 1 0 -3.4 0M284.5 320.9a1.7 1.7 0 1 0 3.4 0a1.7 1.7 0 1 0 -3.4 0M284.9 320.3a1.7 1.7 0 1 0 3.4 0a1.7 1.7 0 1 0 -3.4 0M285.4 321.8a1.7 1.7 0 1 0 3.4 0a1.7 1.7 0 1 0 -3.4 0M285.8 317.7a1.7 1.7 0 1 0 3.4 0a1.7 1.7 0 1 0 -3.4 0M286.2 319.5a1.7 1.7 0 1 0 3.4 0a1.7 1.7 0 1 0 -3.4 0M286.7 317.9a1.7 1.7 0 1 0 3.4 0a1.7 1.7 0 1 0 -3.4 0M287.1 320.1a1.7 1.7 0 1 0 3.4 0a1.7 1.7 0 1 0 -3.4 0M287.6 316.7a1.7 1.7 0 1 0 3.4 0a1.7 1.7 0 1 0 -3.4 0M288.0 319.7a1.7 1.7 0 1 0 3.4 0a1.7 1.7 0 1 0 -3.4 0M288.4 320.2a1.7 1.7 0 1 0 3.4 0a1.7 1.7 0 1 0 -3.4 0M288.9 317.8a1.7 1.7 0 1 0 3.4 0a1.7 1.7 0 1 0 -3.4 0M289.3 321.7a1.7 1.7 0 1 0 3.4 0a1.7 1.7 0 1 0 -3.4 0M289.8 319.5a1.7 1.7 0 1 0 3.4 0a1.7 1.7 0 1 0 -3.4 0M290.2 322.7a1.7 1.7 0 1 0 3.4 0a1.7 1.7 0 1 0 -3.4 0M290.6 320.4a1.7 1.7 0 1 0 3.4 0a1.7 1.7 0 1 0 -3.4 0M291.1 319.4a1.7 1.7 0 1 0 3.4 0a1.7 1.7 0 1 0 -3.4 0M291.5 314.2a1.7 1.7 0 1 0 3.4 0a1.7 1.7 0 1 0 -3.4 0M291.9 320.1a1.7 1.7 0 1 0 3.4 0a1.7 1.7 0 1 0 -3.4 0M292.4 317.7a1.7 1.7 0 1 0 3.4 0a1.7 1.7 0 1 0 -3.4 0M292.8 320.6a1.7 1.7 0 1 0 3.4 0a1.7 1.7 0 1 0 -3.4 0M293.3 321.0a1.7 1.7 0 1 0 3.4 0a1.7 1.7 0 1 0 -3.4 0M293.7 320.6a1.7 1.7 0 1 0 3.4 0a1.7 1.7 0 1 0 -3.4 0M294.1 318.4a1.7 1.7 0 1 0 3.4 0a1.7 1.7 0 1 0 -3.4 0M294.6 319.4a1.7 1.7 0 1 0 3.4 0a1.7 1.7 0 1 0 -3.4 0M295.0 315.0a1.7 1.7 0 1 0 3.4 0a1.7 1.7 0 1 0 -3.4 0M295.5 320.8a1.7 1.7 0 1 0 3.4 0a1.7 1.7 0 1 0 -3.4 0M295.9 320.6a1.7 1.7 0 1 0 3.4 0a1.7 1.7 0 1 0 -3.4 0M296.3 320.7a1.7 1.7 0 1 0 3.4 0a1.7 1.7 0 1 0 -3.4 0M296.8 317.5a1.7 1.7 0 1 0 3.4 0a1.7 1.7 0 1 0 -3.4 0M297.2 320.4a1.7 1.7 0 1 0 3.4 0a1.7 1.7 0 1 0 -3.4 0M297.7 314.7a1.7 1.7 0 1 0 3.4 0a1.7 1.7 0 1 0 -3.4 0M298.1 320.8a1.7 1.7 0 1 0 3.4 0a1.7 1.7 0 1 0 -3.4 0M298.5 319.5a1.7 1.7 0 1 0 3.4 0a1.7 1.7 0 1 0 -3.4 0M299.0 321.1a1.7 1.7 0 1 0 3.4 0a1.7 1.7 0 1 0 -3.4 0M299.4 320.6a1.7 1.7 0 1 0 3.4 0a1.7 1.7 0 1 0 -3.4 0M299.8 320.4a1.7 1.7 0 1 0 3.4 0a1.7 1.7 0 1 0 -3.4 0M300.3 320.9a1.7 1.7 0 1 0 3.4 0a1.7 1.7 0 1 0 -3.4 0M300.7 320.4a1.7 1.7 0 1 0 3.4 0a1.7 1.7 0 1 0 -3.4 0M301.2 322.8a1.7 1.7 0 1 0 3.4 0a1.7 1.7 0 1 0 -3.4 0M301.6 319.7a1.7 1.7 0 1 0 3.4 0a1.7 1.7 0 1 0 -3.4 0M302.0 322.9a1.7 1.7 0 1 0 3.4 0a1.7 1.7 0 1 0 -3.4 0M302.5 320.1a1.7 1.7 0 1 0 3.4 0a1.7 1.7 0 1 0 -3.4 0M302.9 321.8a1.7 1.7 0 1 0 3.4 0a1.7 1.7 0 1 0 -3.4 0M303.4 316.3a1.7 1.7 0 1 0 3.4 0a1.7 1.7 0 1 0 -3.4 0M303.8 322.0a1.7 1.7 0 1 0 3.4 0a1.7 1.7 0 1 0 -3.4 0M304.2 320.7a1.7 1.7 0 1 0 3.4 0a1.7 1.7 0 1 0 -3.4 0M304.7 320.5a1.7 1.7 0 1 0 3.4 0a1.7 1.7 0 1 0 -3.4 0M305.1 319.2a1.7 1.7 0 1 0 3.4 0a1.7 1.7 0 1 0 -3.4 0M305.6 319.2a1.7 1.7 0 1 0 3.4 0a1.7 1.7 0 1 0 -3.4 0M306.0 321.1a1.7 1.7 0 1 0 3.4 0a1.7 1.7 0 1 0 -3.4 0M306.4 320.6a1.7 1.7 0 1 0 3.4 0a1.7 1.7 0 1 0 -3.4 0M306.9 319.7a1.7 1.7 0 1 0 3.4 0a1.7 1.7 0 1 0 -3.4 0M307.3 320.6a1.7 1.7 0 1 0 3.4 0a1.7 1.7 0 1 0 -3.4 0M307.8 320.0a1.7 1.7 0 1 0 3.4 0a1.7 1.7 0 1 0 -3.4 0M308.2 316.8a1.7 1.7 0 1 0 3.4 0a1.7 1.7 0 1 0 -3.4 0M308.6 320.4a1.7 1.7 0 1 0 3.4 0a1.7 1.7 0 1 0 -3.4 0M309.1 320.2a1.7 1.7 0 1 0 3.4 0a1.7 1.7 0 1 0 -3.4 0M309.5 322.2a1.7 1.7 0 1 0 3.4 0a1.7 1.7 0 1 0 -3.4 0M309.9 322.6a1.7 1.7 0 1 0 3.4 0a1.7 1.7 0 1 0 -3.4 0M310.4 321.2a1.7 1.7 0 1 0 3.4 0a1.7 1.7 0 1 0 -3.4 0M310.8 320.6a1.7 1.7 0 1 0 3.4 0a1.7 1.7 0 1 0 -3.4 0M311.3 317.8a1.7 1.7 0 1 0 3.4 0a1.7 1.7 0 1 0 -3.4 0M311.7 321.1a1.7 1.7 0 1 0 3.4 0a1.7 1.7 0 1 0 -3.4 0M312.1 320.7a1.7 1.7 0 1 0 3.4 0a1.7 1.7 0 1 0 -3.4 0M312.6 320.9a1.7 1.7 0 1 0 3.4 0a1.7 1.7 0 1 0 -3.4 0M313.0 317.5a1.7 1.7 0 1 0 3.4 0a1.7 1.7 0 1 0 -3.4 0M313.5 318.9a1.7 1.7 0 1 0 3.4 0a1.7 1.7 0 1 0 -3.4 0M313.9 328.4a1.7 1.7 0 1 0 3.4 0a1.7 1.7 0 1 0 -3.4 0M314.3 321.8a1.7 1.7 0 1 0 3.4 0a1.7 1.7 0 1 0 -3.4 0M314.8 321.4a1.7 1.7 0 1 0 3.4 0a1.7 1.7 0 1 0 -3.4 0M315.2 318.0a1.7 1.7 0 1 0 3.4 0a1.7 1.7 0 1 0 -3.4 0M315.7 323.8a1.7 1.7 0 1 0 3.4 0a1.7 1.7 0 1 0 -3.4 0M316.1 321.8a1.7 1.7 0 1 0 3.4 0a1.7 1.7 0 1 0 -3.4 0M316.5 322.4a1.7 1.7 0 1 0 3.4 0a1.7 1.7 0 1 0 -3.4 0M317.0 322.5a1.7 1.7 0 1 0 3.4 0a1.7 1.7 0 1 0 -3.4 0M317.4 322.0a1.7 1.7 0 1 0 3.4 0a1.7 1.7 0 1 0 -3.4 0M317.8 323.9a1.7 1.7 0 1 0 3.4 0a1.7 1.7 0 1 0 -3.4 0M318.3 321.9a1.7 1.7 0 1 0 3.4 0a1.7 1.7 0 1 0 -3.4 0M318.7 322.9a1.7 1.7 0 1 0 3.4 0a1.7 1.7 0 1 0 -3.4 0M319.2 327.4a1.7 1.7 0 1 0 3.4 0a1.7 1.7 0 1 0 -3.4 0M319.6 319.1a1.7 1.7 0 1 0 3.4 0a1.7 1.7 0 1 0 -3.4 0M320.0 326.6a1.7 1.7 0 1 0 3.4 0a1.7 1.7 0 1 0 -3.4 0M320.5 325.8a1.7 1.7 0 1 0 3.4 0a1.7 1.7 0 1 0 -3.4 0M320.9 322.3a1.7 1.7 0 1 0 3.4 0a1.7 1.7 0 1 0 -3.4 0M321.4 322.5a1.7 1.7 0 1 0 3.4 0a1.7 1.7 0 1 0 -3.4 0M321.8 321.1a1.7 1.7 0 1 0 3.4 0a1.7 1.7 0 1 0 -3.4 0M322.2 328.6a1.7 1.7 0 1 0 3.4 0a1.7 1.7 0 1 0 -3.4 0M322.7 322.8a1.7 1.7 0 1 0 3.4 0a1.7 1.7 0 1 0 -3.4 0M323.1 322.9a1.7 1.7 0 1 0 3.4 0a1.7 1.7 0 1 0 -3.4 0M323.6 325.0a1.7 1.7 0 1 0 3.4 0a1.7 1.7 0 1 0 -3.4 0M324.0 327.0a1.7 1.7 0 1 0 3.4 0a1.7 1.7 0 1 0 -3.4 0M324.4 324.5a1.7 1.7 0 1 0 3.4 0a1.7 1.7 0 1 0 -3.4 0M324.9 323.5a1.7 1.7 0 1 0 3.4 0a1.7 1.7 0 1 0 -3.4 0M325.3 323.0a1.7 1.7 0 1 0 3.4 0a1.7 1.7 0 1 0 -3.4 0M325.7 318.9a1.7 1.7 0 1 0 3.4 0a1.7 1.7 0 1 0 -3.4 0M326.2 321.3a1.7 1.7 0 1 0 3.4 0a1.7 1.7 0 1 0 -3.4 0M326.6 323.2a1.7 1.7 0 1 0 3.4 0a1.7 1.7 0 1 0 -3.4 0M327.1 323.9a1.7 1.7 0 1 0 3.4 0a1.7 1.7 0 1 0 -3.4 0M327.5 322.0a1.7 1.7 0 1 0 3.4 0a1.7 1.7 0 1 0 -3.4 0M327.9 322.1a1.7 1.7 0 1 0 3.4 0a1.7 1.7 0 1 0 -3.4 0M328.4 324.2a1.7 1.7 0 1 0 3.4 0a1.7 1.7 0 1 0 -3.4 0M328.8 323.0a1.7 1.7 0 1 0 3.4 0a1.7 1.7 0 1 0 -3.4 0M329.3 324.3a1.7 1.7 0 1 0 3.4 0a1.7 1.7 0 1 0 -3.4 0M329.7 326.0a1.7 1.7 0 1 0 3.4 0a1.7 1.7 0 1 0 -3.4 0M330.1 327.7a1.7 1.7 0 1 0 3.4 0a1.7 1.7 0 1 0 -3.4 0M330.6 324.2a1.7 1.7 0 1 0 3.4 0a1.7 1.7 0 1 0 -3.4 0M331.0 323.0a1.7 1.7 0 1 0 3.4 0a1.7 1.7 0 1 0 -3.4 0M331.5 329.3a1.7 1.7 0 1 0 3.4 0a1.7 1.7 0 1 0 -3.4 0M331.9 327.1a1.7 1.7 0 1 0 3.4 0a1.7 1.7 0 1 0 -3.4 0M332.3 328.3a1.7 1.7 0 1 0 3.4 0a1.7 1.7 0 1 0 -3.4 0M332.8 324.9a1.7 1.7 0 1 0 3.4 0a1.7 1.7 0 1 0 -3.4 0M333.2 327.9a1.7 1.7 0 1 0 3.4 0a1.7 1.7 0 1 0 -3.4 0M333.6 328.0a1.7 1.7 0 1 0 3.4 0a1.7 1.7 0 1 0 -3.4 0M334.1 326.5a1.7 1.7 0 1 0 3.4 0a1.7 1.7 0 1 0 -3.4 0M334.5 325.1a1.7 1.7 0 1 0 3.4 0a1.7 1.7 0 1 0 -3.4 0M335.0 326.6a1.7 1.7 0 1 0 3.4 0a1.7 1.7 0 1 0 -3.4 0M335.4 332.1a1.7 1.7 0 1 0 3.4 0a1.7 1.7 0 1 0 -3.4 0M335.8 329.2a1.7 1.7 0 1 0 3.4 0a1.7 1.7 0 1 0 -3.4 0M336.3 328.8a1.7 1.7 0 1 0 3.4 0a1.7 1.7 0 1 0 -3.4 0M336.7 330.2a1.7 1.7 0 1 0 3.4 0a1.7 1.7 0 1 0 -3.4 0M337.2 329.8a1.7 1.7 0 1 0 3.4 0a1.7 1.7 0 1 0 -3.4 0M337.6 329.3a1.7 1.7 0 1 0 3.4 0a1.7 1.7 0 1 0 -3.4 0M338.0 332.4a1.7 1.7 0 1 0 3.4 0a1.7 1.7 0 1 0 -3.4 0M338.5 328.6a1.7 1.7 0 1 0 3.4 0a1.7 1.7 0 1 0 -3.4 0M338.9 327.7a1.7 1.7 0 1 0 3.4 0a1.7 1.7 0 1 0 -3.4 0M339.4 330.2a1.7 1.7 0 1 0 3.4 0a1.7 1.7 0 1 0 -3.4 0M339.8 331.2a1.7 1.7 0 1 0 3.4 0a1.7 1.7 0 1 0 -3.4 0M340.2 326.9a1.7 1.7 0 1 0 3.4 0a1.7 1.7 0 1 0 -3.4 0M340.7 331.2a1.7 1.7 0 1 0 3.4 0a1.7 1.7 0 1 0 -3.4 0M341.1 328.5a1.7 1.7 0 1 0 3.4 0a1.7 1.7 0 1 0 -3.4 0M341.6 328.3a1.7 1.7 0 1 0 3.4 0a1.7 1.7 0 1 0 -3.4 0M342.0 331.4a1.7 1.7 0 1 0 3.4 0a1.7 1.7 0 1 0 -3.4 0M342.4 330.9a1.7 1.7 0 1 0 3.4 0a1.7 1.7 0 1 0 -3.4 0M342.9 332.6a1.7 1.7 0 1 0 3.4 0a1.7 1.7 0 1 0 -3.4 0M343.3 325.8a1.7 1.7 0 1 0 3.4 0a1.7 1.7 0 1 0 -3.4 0M343.7 327.9a1.7 1.7 0 1 0 3.4 0a1.7 1.7 0 1 0 -3.4 0M344.2 328.2a1.7 1.7 0 1 0 3.4 0a1.7 1.7 0 1 0 -3.4 0M344.6 327.0a1.7 1.7 0 1 0 3.4 0a1.7 1.7 0 1 0 -3.4 0M345.1 332.3a1.7 1.7 0 1 0 3.4 0a1.7 1.7 0 1 0 -3.4 0M345.5 329.8a1.7 1.7 0 1 0 3.4 0a1.7 1.7 0 1 0 -3.4 0M345.9 330.0a1.7 1.7 0 1 0 3.4 0a1.7 1.7 0 1 0 -3.4 0M346.4 331.8a1.7 1.7 0 1 0 3.4 0a1.7 1.7 0 1 0 -3.4 0M346.8 325.5a1.7 1.7 0 1 0 3.4 0a1.7 1.7 0 1 0 -3.4 0M347.3 328.6a1.7 1.7 0 1 0 3.4 0a1.7 1.7 0 1 0 -3.4 0M347.7 329.6a1.7 1.7 0 1 0 3.4 0a1.7 1.7 0 1 0 -3.4 0M348.1 335.3a1.7 1.7 0 1 0 3.4 0a1.7 1.7 0 1 0 -3.4 0M348.6 328.1a1.7 1.7 0 1 0 3.4 0a1.7 1.7 0 1 0 -3.4 0M349.0 324.8a1.7 1.7 0 1 0 3.4 0a1.7 1.7 0 1 0 -3.4 0M349.5 329.5a1.7 1.7 0 1 0 3.4 0a1.7 1.7 0 1 0 -3.4 0M349.9 325.0a1.7 1.7 0 1 0 3.4 0a1.7 1.7 0 1 0 -3.4 0M350.3 329.5a1.7 1.7 0 1 0 3.4 0a1.7 1.7 0 1 0 -3.4 0M350.8 327.5a1.7 1.7 0 1 0 3.4 0a1.7 1.7 0 1 0 -3.4 0M351.2 331.7a1.7 1.7 0 1 0 3.4 0a1.7 1.7 0 1 0 -3.4 0M351.6 332.6a1.7 1.7 0 1 0 3.4 0a1.7 1.7 0 1 0 -3.4 0M352.1 331.1a1.7 1.7 0 1 0 3.4 0a1.7 1.7 0 1 0 -3.4 0M352.5 334.9a1.7 1.7 0 1 0 3.4 0a1.7 1.7 0 1 0 -3.4 0M353.0 332.7a1.7 1.7 0 1 0 3.4 0a1.7 1.7 0 1 0 -3.4 0M353.4 332.1a1.7 1.7 0 1 0 3.4 0a1.7 1.7 0 1 0 -3.4 0M353.8 329.0a1.7 1.7 0 1 0 3.4 0a1.7 1.7 0 1 0 -3.4 0M354.3 328.3a1.7 1.7 0 1 0 3.4 0a1.7 1.7 0 1 0 -3.4 0M354.7 333.3a1.7 1.7 0 1 0 3.4 0a1.7 1.7 0 1 0 -3.4 0M355.2 334.3a1.7 1.7 0 1 0 3.4 0a1.7 1.7 0 1 0 -3.4 0M355.6 328.4a1.7 1.7 0 1 0 3.4 0a1.7 1.7 0 1 0 -3.4 0M356.0 334.9a1.7 1.7 0 1 0 3.4 0a1.7 1.7 0 1 0 -3.4 0M356.5 332.0a1.7 1.7 0 1 0 3.4 0a1.7 1.7 0 1 0 -3.4 0M356.9 335.3a1.7 1.7 0 1 0 3.4 0a1.7 1.7 0 1 0 -3.4 0M357.4 334.7a1.7 1.7 0 1 0 3.4 0a1.7 1.7 0 1 0 -3.4 0M357.8 331.7a1.7 1.7 0 1 0 3.4 0a1.7 1.7 0 1 0 -3.4 0M358.2 330.9a1.7 1.7 0 1 0 3.4 0a1.7 1.7 0 1 0 -3.4 0M358.7 332.0a1.7 1.7 0 1 0 3.4 0a1.7 1.7 0 1 0 -3.4 0M359.1 333.9a1.7 1.7 0 1 0 3.4 0a1.7 1.7 0 1 0 -3.4 0M359.5 332.0a1.7 1.7 0 1 0 3.4 0a1.7 1.7 0 1 0 -3.4 0M360.0 335.0a1.7 1.7 0 1 0 3.4 0a1.7 1.7 0 1 0 -3.4 0M360.4 333.7a1.7 1.7 0 1 0 3.4 0a1.7 1.7 0 1 0 -3.4 0M360.9 336.4a1.7 1.7 0 1 0 3.4 0a1.7 1.7 0 1 0 -3.4 0M361.3 334.2a1.7 1.7 0 1 0 3.4 0a1.7 1.7 0 1 0 -3.4 0M361.7 333.2a1.7 1.7 0 1 0 3.4 0a1.7 1.7 0 1 0 -3.4 0M362.2 331.9a1.7 1.7 0 1 0 3.4 0a1.7 1.7 0 1 0 -3.4 0M362.6 335.1a1.7 1.7 0 1 0 3.4 0a1.7 1.7 0 1 0 -3.4 0M363.1 334.9a1.7 1.7 0 1 0 3.4 0a1.7 1.7 0 1 0 -3.4 0M363.5 335.6a1.7 1.7 0 1 0 3.4 0a1.7 1.7 0 1 0 -3.4 0M363.9 332.4a1.7 1.7 0 1 0 3.4 0a1.7 1.7 0 1 0 -3.4 0M364.4 332.4a1.7 1.7 0 1 0 3.4 0a1.7 1.7 0 1 0 -3.4 0M364.8 332.3a1.7 1.7 0 1 0 3.4 0a1.7 1.7 0 1 0 -3.4 0M365.3 333.9a1.7 1.7 0 1 0 3.4 0a1.7 1.7 0 1 0 -3.4 0M365.7 328.6a1.7 1.7 0 1 0 3.4 0a1.7 1.7 0 1 0 -3.4 0M366.1 334.8a1.7 1.7 0 1 0 3.4 0a1.7 1.7 0 1 0 -3.4 0M366.6 333.8a1.7 1.7 0 1 0 3.4 0a1.7 1.7 0 1 0 -3.4 0M367.0 336.1a1.7 1.7 0 1 0 3.4 0a1.7 1.7 0 1 0 -3.4 0M367.4 336.4a1.7 1.7 0 1 0 3.4 0a1.7 1.7 0 1 0 -3.4 0M367.9 338.1a1.7 1.7 0 1 0 3.4 0a1.7 1.7 0 1 0 -3.4 0M368.3 334.6a1.7 1.7 0 1 0 3.4 0a1.7 1.7 0 1 0 -3.4 0M368.8 330.8a1.7 1.7 0 1 0 3.4 0a1.7 1.7 0 1 0 -3.4 0M369.2 335.6a1.7 1.7 0 1 0 3.4 0a1.7 1.7 0 1 0 -3.4 0M369.6 336.4a1.7 1.7 0 1 0 3.4 0a1.7 1.7 0 1 0 -3.4 0M370.1 330.9a1.7 1.7 0 1 0 3.4 0a1.7 1.7 0 1 0 -3.4 0M370.5 332.3a1.7 1.7 0 1 0 3.4 0a1.7 1.7 0 1 0 -3.4 0M371.0 334.3a1.7 1.7 0 1 0 3.4 0a1.7 1.7 0 1 0 -3.4 0M371.4 332.9a1.7 1.7 0 1 0 3.4 0a1.7 1.7 0 1 0 -3.4 0M371.8 333.2a1.7 1.7 0 1 0 3.4 0a1.7 1.7 0 1 0 -3.4 0M372.3 335.1a1.7 1.7 0 1 0 3.4 0a1.7 1.7 0 1 0 -3.4 0M372.7 332.8a1.7 1.7 0 1 0 3.4 0a1.7 1.7 0 1 0 -3.4 0M373.2 336.0a1.7 1.7 0 1 0 3.4 0a1.7 1.7 0 1 0 -3.4 0M373.6 335.5a1.7 1.7 0 1 0 3.4 0a1.7 1.7 0 1 0 -3.4 0M374.0 331.6a1.7 1.7 0 1 0 3.4 0a1.7 1.7 0 1 0 -3.4 0M374.5 329.6a1.7 1.7 0 1 0 3.4 0a1.7 1.7 0 1 0 -3.4 0M374.9 333.7a1.7 1.7 0 1 0 3.4 0a1.7 1.7 0 1 0 -3.4 0M375.4 336.2a1.7 1.7 0 1 0 3.4 0a1.7 1.7 0 1 0 -3.4 0M375.8 329.8a1.7 1.7 0 1 0 3.4 0a1.7 1.7 0 1 0 -3.4 0M376.2 334.8a1.7 1.7 0 1 0 3.4 0a1.7 1.7 0 1 0 -3.4 0M376.7 330.5a1.7 1.7 0 1 0 3.4 0a1.7 1.7 0 1 0 -3.4 0M377.1 335.2a1.7 1.7 0 1 0 3.4 0a1.7 1.7 0 1 0 -3.4 0M377.5 332.9a1.7 1.7 0 1 0 3.4 0a1.7 1.7 0 1 0 -3.4 0M378.0 335.5a1.7 1.7 0 1 0 3.4 0a1.7 1.7 0 1 0 -3.4 0M378.4 329.8a1.7 1.7 0 1 0 3.4 0a1.7 1.7 0 1 0 -3.4 0M378.9 334.5a1.7 1.7 0 1 0 3.4 0a1.7 1.7 0 1 0 -3.4 0M379.3 335.3a1.7 1.7 0 1 0 3.4 0a1.7 1.7 0 1 0 -3.4 0M379.7 332.9a1.7 1.7 0 1 0 3.4 0a1.7 1.7 0 1 0 -3.4 0M380.2 334.0a1.7 1.7 0 1 0 3.4 0a1.7 1.7 0 1 0 -3.4 0M380.6 333.3a1.7 1.7 0 1 0 3.4 0a1.7 1.7 0 1 0 -3.4 0M381.1 338.0a1.7 1.7 0 1 0 3.4 0a1.7 1.7 0 1 0 -3.4 0M381.5 336.3a1.7 1.7 0 1 0 3.4 0a1.7 1.7 0 1 0 -3.4 0M381.9 335.4a1.7 1.7 0 1 0 3.4 0a1.7 1.7 0 1 0 -3.4 0M382.4 333.2a1.7 1.7 0 1 0 3.4 0a1.7 1.7 0 1 0 -3.4 0M382.8 337.9a1.7 1.7 0 1 0 3.4 0a1.7 1.7 0 1 0 -3.4 0M383.3 336.0a1.7 1.7 0 1 0 3.4 0a1.7 1.7 0 1 0 -3.4 0M383.7 334.9a1.7 1.7 0 1 0 3.4 0a1.7 1.7 0 1 0 -3.4 0M384.1 335.4a1.7 1.7 0 1 0 3.4 0a1.7 1.7 0 1 0 -3.4 0M384.6 330.5a1.7 1.7 0 1 0 3.4 0a1.7 1.7 0 1 0 -3.4 0M385.0 330.4a1.7 1.7 0 1 0 3.4 0a1.7 1.7 0 1 0 -3.4 0M385.4 334.6a1.7 1.7 0 1 0 3.4 0a1.7 1.7 0 1 0 -3.4 0M385.9 333.3a1.7 1.7 0 1 0 3.4 0a1.7 1.7 0 1 0 -3.4 0M386.3 330.7a1.7 1.7 0 1 0 3.4 0a1.7 1.7 0 1 0 -3.4 0M386.8 329.3a1.7 1.7 0 1 0 3.4 0a1.7 1.7 0 1 0 -3.4 0M387.2 331.1a1.7 1.7 0 1 0 3.4 0a1.7 1.7 0 1 0 -3.4 0M387.6 326.1a1.7 1.7 0 1 0 3.4 0a1.7 1.7 0 1 0 -3.4 0M388.1 327.3a1.7 1.7 0 1 0 3.4 0a1.7 1.7 0 1 0 -3.4 0M388.5 328.4a1.7 1.7 0 1 0 3.4 0a1.7 1.7 0 1 0 -3.4 0M389.0 328.6a1.7 1.7 0 1 0 3.4 0a1.7 1.7 0 1 0 -3.4 0M389.4 332.5a1.7 1.7 0 1 0 3.4 0a1.7 1.7 0 1 0 -3.4 0M389.8 331.6a1.7 1.7 0 1 0 3.4 0a1.7 1.7 0 1 0 -3.4 0M390.3 327.3a1.7 1.7 0 1 0 3.4 0a1.7 1.7 0 1 0 -3.4 0M390.7 328.8a1.7 1.7 0 1 0 3.4 0a1.7 1.7 0 1 0 -3.4 0M391.2 330.2a1.7 1.7 0 1 0 3.4 0a1.7 1.7 0 1 0 -3.4 0M391.6 327.3a1.7 1.7 0 1 0 3.4 0a1.7 1.7 0 1 0 -3.4 0M392.0 324.0a1.7 1.7 0 1 0 3.4 0a1.7 1.7 0 1 0 -3.4 0M392.5 331.2a1.7 1.7 0 1 0 3.4 0a1.7 1.7 0 1 0 -3.4 0M392.9 326.7a1.7 1.7 0 1 0 3.4 0a1.7 1.7 0 1 0 -3.4 0M393.3 327.3a1.7 1.7 0 1 0 3.4 0a1.7 1.7 0 1 0 -3.4 0M393.8 328.5a1.7 1.7 0 1 0 3.4 0a1.7 1.7 0 1 0 -3.4 0M394.2 331.4a1.7 1.7 0 1 0 3.4 0a1.7 1.7 0 1 0 -3.4 0M394.7 328.1a1.7 1.7 0 1 0 3.4 0a1.7 1.7 0 1 0 -3.4 0M395.1 331.0a1.7 1.7 0 1 0 3.4 0a1.7 1.7 0 1 0 -3.4 0M395.5 327.4a1.7 1.7 0 1 0 3.4 0a1.7 1.7 0 1 0 -3.4 0M396.0 327.0a1.7 1.7 0 1 0 3.4 0a1.7 1.7 0 1 0 -3.4 0M396.4 325.4a1.7 1.7 0 1 0 3.4 0a1.7 1.7 0 1 0 -3.4 0M396.9 328.9a1.7 1.7 0 1 0 3.4 0a1.7 1.7 0 1 0 -3.4 0M397.3 329.5a1.7 1.7 0 1 0 3.4 0a1.7 1.7 0 1 0 -3.4 0M397.7 327.9a1.7 1.7 0 1 0 3.4 0a1.7 1.7 0 1 0 -3.4 0M398.2 331.2a1.7 1.7 0 1 0 3.4 0a1.7 1.7 0 1 0 -3.4 0M398.6 327.4a1.7 1.7 0 1 0 3.4 0a1.7 1.7 0 1 0 -3.4 0M399.1 328.5a1.7 1.7 0 1 0 3.4 0a1.7 1.7 0 1 0 -3.4 0M399.5 327.1a1.7 1.7 0 1 0 3.4 0a1.7 1.7 0 1 0 -3.4 0M399.9 327.3a1.7 1.7 0 1 0 3.4 0a1.7 1.7 0 1 0 -3.4 0M400.4 326.7a1.7 1.7 0 1 0 3.4 0a1.7 1.7 0 1 0 -3.4 0M400.8 328.7a1.7 1.7 0 1 0 3.4 0a1.7 1.7 0 1 0 -3.4 0M401.2 325.0a1.7 1.7 0 1 0 3.4 0a1.7 1.7 0 1 0 -3.4 0M401.7 329.4a1.7 1.7 0 1 0 3.4 0a1.7 1.7 0 1 0 -3.4 0M402.1 326.0a1.7 1.7 0 1 0 3.4 0a1.7 1.7 0 1 0 -3.4 0M402.6 328.1a1.7 1.7 0 1 0 3.4 0a1.7 1.7 0 1 0 -3.4 0M403.0 322.9a1.7 1.7 0 1 0 3.4 0a1.7 1.7 0 1 0 -3.4 0M403.4 324.9a1.7 1.7 0 1 0 3.4 0a1.7 1.7 0 1 0 -3.4 0M403.9 329.5a1.7 1.7 0 1 0 3.4 0a1.7 1.7 0 1 0 -3.4 0M404.3 325.8a1.7 1.7 0 1 0 3.4 0a1.7 1.7 0 1 0 -3.4 0M404.8 320.5a1.7 1.7 0 1 0 3.4 0a1.7 1.7 0 1 0 -3.4 0M405.2 323.4a1.7 1.7 0 1 0 3.4 0a1.7 1.7 0 1 0 -3.4 0M405.6 322.2a1.7 1.7 0 1 0 3.4 0a1.7 1.7 0 1 0 -3.4 0M406.1 321.0a1.7 1.7 0 1 0 3.4 0a1.7 1.7 0 1 0 -3.4 0M406.5 321.4a1.7 1.7 0 1 0 3.4 0a1.7 1.7 0 1 0 -3.4 0M407.0 323.1a1.7 1.7 0 1 0 3.4 0a1.7 1.7 0 1 0 -3.4 0M407.4 322.1a1.7 1.7 0 1 0 3.4 0a1.7 1.7 0 1 0 -3.4 0M407.8 322.3a1.7 1.7 0 1 0 3.4 0a1.7 1.7 0 1 0 -3.4 0M408.3 323.3a1.7 1.7 0 1 0 3.4 0a1.7 1.7 0 1 0 -3.4 0M408.7 323.5a1.7 1.7 0 1 0 3.4 0a1.7 1.7 0 1 0 -3.4 0M409.2 321.6a1.7 1.7 0 1 0 3.4 0a1.7 1.7 0 1 0 -3.4 0M409.6 318.4a1.7 1.7 0 1 0 3.4 0a1.7 1.7 0 1 0 -3.4 0M410.0 319.3a1.7 1.7 0 1 0 3.4 0a1.7 1.7 0 1 0 -3.4 0M410.5 323.1a1.7 1.7 0 1 0 3.4 0a1.7 1.7 0 1 0 -3.4 0M410.9 320.4a1.7 1.7 0 1 0 3.4 0a1.7 1.7 0 1 0 -3.4 0M411.3 325.5a1.7 1.7 0 1 0 3.4 0a1.7 1.7 0 1 0 -3.4 0M411.8 321.7a1.7 1.7 0 1 0 3.4 0a1.7 1.7 0 1 0 -3.4 0M412.2 323.3a1.7 1.7 0 1 0 3.4 0a1.7 1.7 0 1 0 -3.4 0M412.7 320.8a1.7 1.7 0 1 0 3.4 0a1.7 1.7 0 1 0 -3.4 0M413.1 322.5a1.7 1.7 0 1 0 3.4 0a1.7 1.7 0 1 0 -3.4 0M413.5 324.8a1.7 1.7 0 1 0 3.4 0a1.7 1.7 0 1 0 -3.4 0M414.0 321.6a1.7 1.7 0 1 0 3.4 0a1.7 1.7 0 1 0 -3.4 0M414.4 319.2a1.7 1.7 0 1 0 3.4 0a1.7 1.7 0 1 0 -3.4 0M414.9 324.9a1.7 1.7 0 1 0 3.4 0a1.7 1.7 0 1 0 -3.4 0M415.3 317.7a1.7 1.7 0 1 0 3.4 0a1.7 1.7 0 1 0 -3.4 0M415.7 315.2a1.7 1.7 0 1 0 3.4 0a1.7 1.7 0 1 0 -3.4 0M416.2 315.2a1.7 1.7 0 1 0 3.4 0a1.7 1.7 0 1 0 -3.4 0M416.6 321.9a1.7 1.7 0 1 0 3.4 0a1.7 1.7 0 1 0 -3.4 0M417.1 317.1a1.7 1.7 0 1 0 3.4 0a1.7 1.7 0 1 0 -3.4 0M417.5 317.9a1.7 1.7 0 1 0 3.4 0a1.7 1.7 0 1 0 -3.4 0M417.9 315.4a1.7 1.7 0 1 0 3.4 0a1.7 1.7 0 1 0 -3.4 0M418.4 317.2a1.7 1.7 0 1 0 3.4 0a1.7 1.7 0 1 0 -3.4 0M418.8 315.9a1.7 1.7 0 1 0 3.4 0a1.7 1.7 0 1 0 -3.4 0M419.2 315.8a1.7 1.7 0 1 0 3.4 0a1.7 1.7 0 1 0 -3.4 0M419.7 315.0a1.7 1.7 0 1 0 3.4 0a1.7 1.7 0 1 0 -3.4 0M420.1 312.7a1.7 1.7 0 1 0 3.4 0a1.7 1.7 0 1 0 -3.4 0M420.6 315.2a1.7 1.7 0 1 0 3.4 0a1.7 1.7 0 1 0 -3.4 0M421.0 314.7a1.7 1.7 0 1 0 3.4 0a1.7 1.7 0 1 0 -3.4 0M421.4 310.3a1.7 1.7 0 1 0 3.4 0a1.7 1.7 0 1 0 -3.4 0M421.9 314.7a1.7 1.7 0 1 0 3.4 0a1.7 1.7 0 1 0 -3.4 0M422.3 313.3a1.7 1.7 0 1 0 3.4 0a1.7 1.7 0 1 0 -3.4 0M422.8 310.8a1.7 1.7 0 1 0 3.4 0a1.7 1.7 0 1 0 -3.4 0M423.2 314.3a1.7 1.7 0 1 0 3.4 0a1.7 1.7 0 1 0 -3.4 0M423.6 308.9a1.7 1.7 0 1 0 3.4 0a1.7 1.7 0 1 0 -3.4 0M424.1 317.2a1.7 1.7 0 1 0 3.4 0a1.7 1.7 0 1 0 -3.4 0M424.5 311.4a1.7 1.7 0 1 0 3.4 0a1.7 1.7 0 1 0 -3.4 0M425.0 311.5a1.7 1.7 0 1 0 3.4 0a1.7 1.7 0 1 0 -3.4 0M425.4 308.9a1.7 1.7 0 1 0 3.4 0a1.7 1.7 0 1 0 -3.4 0M425.8 314.4a1.7 1.7 0 1 0 3.4 0a1.7 1.7 0 1 0 -3.4 0M426.3 312.3a1.7 1.7 0 1 0 3.4 0a1.7 1.7 0 1 0 -3.4 0M426.7 309.1a1.7 1.7 0 1 0 3.4 0a1.7 1.7 0 1 0 -3.4 0M427.1 312.1a1.7 1.7 0 1 0 3.4 0a1.7 1.7 0 1 0 -3.4 0M427.6 310.6a1.7 1.7 0 1 0 3.4 0a1.7 1.7 0 1 0 -3.4 0M428.0 308.3a1.7 1.7 0 1 0 3.4 0a1.7 1.7 0 1 0 -3.4 0M428.5 308.4a1.7 1.7 0 1 0 3.4 0a1.7 1.7 0 1 0 -3.4 0M428.9 309.6a1.7 1.7 0 1 0 3.4 0a1.7 1.7 0 1 0 -3.4 0M429.3 307.8a1.7 1.7 0 1 0 3.4 0a1.7 1.7 0 1 0 -3.4 0M429.8 304.7a1.7 1.7 0 1 0 3.4 0a1.7 1.7 0 1 0 -3.4 0M430.2 309.1a1.7 1.7 0 1 0 3.4 0a1.7 1.7 0 1 0 -3.4 0M430.7 310.0a1.7 1.7 0 1 0 3.4 0a1.7 1.7 0 1 0 -3.4 0M431.1 304.3a1.7 1.7 0 1 0 3.4 0a1.7 1.7 0 1 0 -3.4 0M431.5 308.9a1.7 1.7 0 1 0 3.4 0a1.7 1.7 0 1 0 -3.4 0M432.0 307.0a1.7 1.7 0 1 0 3.4 0a1.7 1.7 0 1 0 -3.4 0M432.4 309.5a1.7 1.7 0 1 0 3.4 0a1.7 1.7 0 1 0 -3.4 0M432.9 309.2a1.7 1.7 0 1 0 3.4 0a1.7 1.7 0 1 0 -3.4 0M433.3 308.3a1.7 1.7 0 1 0 3.4 0a1.7 1.7 0 1 0 -3.4 0M433.7 305.7a1.7 1.7 0 1 0 3.4 0a1.7 1.7 0 1 0 -3.4 0M434.2 307.6a1.7 1.7 0 1 0 3.4 0a1.7 1.7 0 1 0 -3.4 0M434.6 306.1a1.7 1.7 0 1 0 3.4 0a1.7 1.7 0 1 0 -3.4 0M435.0 304.9a1.7 1.7 0 1 0 3.4 0a1.7 1.7 0 1 0 -3.4 0M435.5 305.8a1.7 1.7 0 1 0 3.4 0a1.7 1.7 0 1 0 -3.4 0M435.9 304.6a1.7 1.7 0 1 0 3.4 0a1.7 1.7 0 1 0 -3.4 0M436.4 305.5a1.7 1.7 0 1 0 3.4 0a1.7 1.7 0 1 0 -3.4 0M436.8 306.8a1.7 1.7 0 1 0 3.4 0a1.7 1.7 0 1 0 -3.4 0M437.2 301.9a1.7 1.7 0 1 0 3.4 0a1.7 1.7 0 1 0 -3.4 0M437.7 304.1a1.7 1.7 0 1 0 3.4 0a1.7 1.7 0 1 0 -3.4 0M438.1 302.8a1.7 1.7 0 1 0 3.4 0a1.7 1.7 0 1 0 -3.4 0M438.6 304.7a1.7 1.7 0 1 0 3.4 0a1.7 1.7 0 1 0 -3.4 0M439.0 306.8a1.7 1.7 0 1 0 3.4 0a1.7 1.7 0 1 0 -3.4 0M439.4 306.3a1.7 1.7 0 1 0 3.4 0a1.7 1.7 0 1 0 -3.4 0M439.9 299.7a1.7 1.7 0 1 0 3.4 0a1.7 1.7 0 1 0 -3.4 0M440.3 304.8a1.7 1.7 0 1 0 3.4 0a1.7 1.7 0 1 0 -3.4 0M440.8 304.0a1.7 1.7 0 1 0 3.4 0a1.7 1.7 0 1 0 -3.4 0M441.2 301.1a1.7 1.7 0 1 0 3.4 0a1.7 1.7 0 1 0 -3.4 0M441.6 302.5a1.7 1.7 0 1 0 3.4 0a1.7 1.7 0 1 0 -3.4 0M442.1 303.6a1.7 1.7 0 1 0 3.4 0a1.7 1.7 0 1 0 -3.4 0M442.5 299.0a1.7 1.7 0 1 0 3.4 0a1.7 1.7 0 1 0 -3.4 0M442.9 301.4a1.7 1.7 0 1 0 3.4 0a1.7 1.7 0 1 0 -3.4 0M443.4 301.3a1.7 1.7 0 1 0 3.4 0a1.7 1.7 0 1 0 -3.4 0M443.8 298.9a1.7 1.7 0 1 0 3.4 0a1.7 1.7 0 1 0 -3.4 0M444.3 299.8a1.7 1.7 0 1 0 3.4 0a1.7 1.7 0 1 0 -3.4 0M444.7 300.3a1.7 1.7 0 1 0 3.4 0a1.7 1.7 0 1 0 -3.4 0M445.1 304.7a1.7 1.7 0 1 0 3.4 0a1.7 1.7 0 1 0 -3.4 0M445.6 303.8a1.7 1.7 0 1 0 3.4 0a1.7 1.7 0 1 0 -3.4 0M446.0 301.4a1.7 1.7 0 1 0 3.4 0a1.7 1.7 0 1 0 -3.4 0M446.5 299.1a1.7 1.7 0 1 0 3.4 0a1.7 1.7 0 1 0 -3.4 0M446.9 298.7a1.7 1.7 0 1 0 3.4 0a1.7 1.7 0 1 0 -3.4 0M447.3 301.7a1.7 1.7 0 1 0 3.4 0a1.7 1.7 0 1 0 -3.4 0M447.8 296.0a1.7 1.7 0 1 0 3.4 0a1.7 1.7 0 1 0 -3.4 0M448.2 298.5a1.7 1.7 0 1 0 3.4 0a1.7 1.7 0 1 0 -3.4 0M448.7 296.0a1.7 1.7 0 1 0 3.4 0a1.7 1.7 0 1 0 -3.4 0M449.1 297.8a1.7 1.7 0 1 0 3.4 0a1.7 1.7 0 1 0 -3.4 0M449.5 301.8a1.7 1.7 0 1 0 3.4 0a1.7 1.7 0 1 0 -3.4 0M450.0 296.2a1.7 1.7 0 1 0 3.4 0a1.7 1.7 0 1 0 -3.4 0M450.4 297.6a1.7 1.7 0 1 0 3.4 0a1.7 1.7 0 1 0 -3.4 0M450.9 296.5a1.7 1.7 0 1 0 3.4 0a1.7 1.7 0 1 0 -3.4 0M451.3 299.6a1.7 1.7 0 1 0 3.4 0a1.7 1.7 0 1 0 -3.4 0M451.7 300.5a1.7 1.7 0 1 0 3.4 0a1.7 1.7 0 1 0 -3.4 0M452.2 296.6a1.7 1.7 0 1 0 3.4 0a1.7 1.7 0 1 0 -3.4 0M452.6 297.8a1.7 1.7 0 1 0 3.4 0a1.7 1.7 0 1 0 -3.4 0M453.0 296.0a1.7 1.7 0 1 0 3.4 0a1.7 1.7 0 1 0 -3.4 0M453.5 298.3a1.7 1.7 0 1 0 3.4 0a1.7 1.7 0 1 0 -3.4 0M453.9 297.0a1.7 1.7 0 1 0 3.4 0a1.7 1.7 0 1 0 -3.4 0M454.4 292.8a1.7 1.7 0 1 0 3.4 0a1.7 1.7 0 1 0 -3.4 0M454.8 295.8a1.7 1.7 0 1 0 3.4 0a1.7 1.7 0 1 0 -3.4 0M455.2 293.5a1.7 1.7 0 1 0 3.4 0a1.7 1.7 0 1 0 -3.4 0M455.7 293.5a1.7 1.7 0 1 0 3.4 0a1.7 1.7 0 1 0 -3.4 0M456.1 297.7a1.7 1.7 0 1 0 3.4 0a1.7 1.7 0 1 0 -3.4 0M456.6 291.6a1.7 1.7 0 1 0 3.4 0a1.7 1.7 0 1 0 -3.4 0M457.0 297.0a1.7 1.7 0 1 0 3.4 0a1.7 1.7 0 1 0 -3.4 0M457.4 295.2a1.7 1.7 0 1 0 3.4 0a1.7 1.7 0 1 0 -3.4 0M457.9 294.0a1.7 1.7 0 1 0 3.4 0a1.7 1.7 0 1 0 -3.4 0M458.3 295.5a1.7 1.7 0 1 0 3.4 0a1.7 1.7 0 1 0 -3.4 0M458.8 295.2a1.7 1.7 0 1 0 3.4 0a1.7 1.7 0 1 0 -3.4 0M459.2 289.6a1.7 1.7 0 1 0 3.4 0a1.7 1.7 0 1 0 -3.4 0M459.6 291.0a1.7 1.7 0 1 0 3.4 0a1.7 1.7 0 1 0 -3.4 0M460.1 293.2a1.7 1.7 0 1 0 3.4 0a1.7 1.7 0 1 0 -3.4 0M460.5 293.7a1.7 1.7 0 1 0 3.4 0a1.7 1.7 0 1 0 -3.4 0M460.9 289.3a1.7 1.7 0 1 0 3.4 0a1.7 1.7 0 1 0 -3.4 0M461.4 295.2a1.7 1.7 0 1 0 3.4 0a1.7 1.7 0 1 0 -3.4 0M461.8 290.8a1.7 1.7 0 1 0 3.4 0a1.7 1.7 0 1 0 -3.4 0M462.3 293.2a1.7 1.7 0 1 0 3.4 0a1.7 1.7 0 1 0 -3.4 0M462.7 291.4a1.7 1.7 0 1 0 3.4 0a1.7 1.7 0 1 0 -3.4 0M463.1 289.6a1.7 1.7 0 1 0 3.4 0a1.7 1.7 0 1 0 -3.4 0M463.6 294.2a1.7 1.7 0 1 0 3.4 0a1.7 1.7 0 1 0 -3.4 0M464.0 291.3a1.7 1.7 0 1 0 3.4 0a1.7 1.7 0 1 0 -3.4 0M464.5 296.1a1.7 1.7 0 1 0 3.4 0a1.7 1.7 0 1 0 -3.4 0M464.9 292.8a1.7 1.7 0 1 0 3.4 0a1.7 1.7 0 1 0 -3.4 0M465.3 290.9a1.7 1.7 0 1 0 3.4 0a1.7 1.7 0 1 0 -3.4 0M465.8 292.8a1.7 1.7 0 1 0 3.4 0a1.7 1.7 0 1 0 -3.4 0M466.2 296.0a1.7 1.7 0 1 0 3.4 0a1.7 1.7 0 1 0 -3.4 0M466.7 290.8a1.7 1.7 0 1 0 3.4 0a1.7 1.7 0 1 0 -3.4 0M467.1 295.9a1.7 1.7 0 1 0 3.4 0a1.7 1.7 0 1 0 -3.4 0M467.5 292.6a1.7 1.7 0 1 0 3.4 0a1.7 1.7 0 1 0 -3.4 0M468.0 290.8a1.7 1.7 0 1 0 3.4 0a1.7 1.7 0 1 0 -3.4 0M468.4 292.0a1.7 1.7 0 1 0 3.4 0a1.7 1.7 0 1 0 -3.4 0M468.8 293.2a1.7 1.7 0 1 0 3.4 0a1.7 1.7 0 1 0 -3.4 0M469.3 294.3a1.7 1.7 0 1 0 3.4 0a1.7 1.7 0 1 0 -3.4 0M469.7 296.4a1.7 1.7 0 1 0 3.4 0a1.7 1.7 0 1 0 -3.4 0M470.2 295.1a1.7 1.7 0 1 0 3.4 0a1.7 1.7 0 1 0 -3.4 0M470.6 294.1a1.7 1.7 0 1 0 3.4 0a1.7 1.7 0 1 0 -3.4 0M471.0 293.4a1.7 1.7 0 1 0 3.4 0a1.7 1.7 0 1 0 -3.4 0M471.5 293.7a1.7 1.7 0 1 0 3.4 0a1.7 1.7 0 1 0 -3.4 0M471.9 296.1a1.7 1.7 0 1 0 3.4 0a1.7 1.7 0 1 0 -3.4 0M472.4 293.3a1.7 1.7 0 1 0 3.4 0a1.7 1.7 0 1 0 -3.4 0M472.8 292.8a1.7 1.7 0 1 0 3.4 0a1.7 1.7 0 1 0 -3.4 0M473.2 293.7a1.7 1.7 0 1 0 3.4 0a1.7 1.7 0 1 0 -3.4 0M473.7 296.9a1.7 1.7 0 1 0 3.4 0a1.7 1.7 0 1 0 -3.4 0M474.1 294.1a1.7 1.7 0 1 0 3.4 0a1.7 1.7 0 1 0 -3.4 0M474.6 294.5a1.7 1.7 0 1 0 3.4 0a1.7 1.7 0 1 0 -3.4 0M475.0 293.0a1.7 1.7 0 1 0 3.4 0a1.7 1.7 0 1 0 -3.4 0M475.4 294.8a1.7 1.7 0 1 0 3.4 0a1.7 1.7 0 1 0 -3.4 0M475.9 291.6a1.7 1.7 0 1 0 3.4 0a1.7 1.7 0 1 0 -3.4 0M476.3 296.5a1.7 1.7 0 1 0 3.4 0a1.7 1.7 0 1 0 -3.4 0M476.7 297.0a1.7 1.7 0 1 0 3.4 0a1.7 1.7 0 1 0 -3.4 0M477.2 296.0a1.7 1.7 0 1 0 3.4 0a1.7 1.7 0 1 0 -3.4 0M477.6 292.9a1.7 1.7 0 1 0 3.4 0a1.7 1.7 0 1 0 -3.4 0M478.1 294.2a1.7 1.7 0 1 0 3.4 0a1.7 1.7 0 1 0 -3.4 0M478.5 292.9a1.7 1.7 0 1 0 3.4 0a1.7 1.7 0 1 0 -3.4 0M478.9 291.7a1.7 1.7 0 1 0 3.4 0a1.7 1.7 0 1 0 -3.4 0M479.4 297.7a1.7 1.7 0 1 0 3.4 0a1.7 1.7 0 1 0 -3.4 0M479.8 296.7a1.7 1.7 0 1 0 3.4 0a1.7 1.7 0 1 0 -3.4 0M480.3 289.3a1.7 1.7 0 1 0 3.4 0a1.7 1.7 0 1 0 -3.4 0M480.7 291.3a1.7 1.7 0 1 0 3.4 0a1.7 1.7 0 1 0 -3.4 0M481.1 293.3a1.7 1.7 0 1 0 3.4 0a1.7 1.7 0 1 0 -3.4 0M481.6 293.6a1.7 1.7 0 1 0 3.4 0a1.7 1.7 0 1 0 -3.4 0M482.0 295.4a1.7 1.7 0 1 0 3.4 0a1.7 1.7 0 1 0 -3.4 0M482.5 296.6a1.7 1.7 0 1 0 3.4 0a1.7 1.7 0 1 0 -3.4 0M482.9 293.2a1.7 1.7 0 1 0 3.4 0a1.7 1.7 0 1 0 -3.4 0M483.3 295.1a1.7 1.7 0 1 0 3.4 0a1.7 1.7 0 1 0 -3.4 0M483.8 292.5a1.7 1.7 0 1 0 3.4 0a1.7 1.7 0 1 0 -3.4 0M484.2 289.7a1.7 1.7 0 1 0 3.4 0a1.7 1.7 0 1 0 -3.4 0M484.7 295.0a1.7 1.7 0 1 0 3.4 0a1.7 1.7 0 1 0 -3.4 0M485.1 289.9a1.7 1.7 0 1 0 3.4 0a1.7 1.7 0 1 0 -3.4 0M485.5 292.9a1.7 1.7 0 1 0 3.4 0a1.7 1.7 0 1 0 -3.4 0M486.0 291.7a1.7 1.7 0 1 0 3.4 0a1.7 1.7 0 1 0 -3.4 0M486.4 295.1a1.7 1.7 0 1 0 3.4 0a1.7 1.7 0 1 0 -3.4 0M486.8 295.1a1.7 1.7 0 1 0 3.4 0a1.7 1.7 0 1 0 -3.4 0M487.3 293.9a1.7 1.7 0 1 0 3.4 0a1.7 1.7 0 1 0 -3.4 0M487.7 295.0a1.7 1.7 0 1 0 3.4 0a1.7 1.7 0 1 0 -3.4 0M488.2 293.7a1.7 1.7 0 1 0 3.4 0a1.7 1.7 0 1 0 -3.4 0M488.6 292.8a1.7 1.7 0 1 0 3.4 0a1.7 1.7 0 1 0 -3.4 0M489.0 296.6a1.7 1.7 0 1 0 3.4 0a1.7 1.7 0 1 0 -3.4 0M489.5 300.4a1.7 1.7 0 1 0 3.4 0a1.7 1.7 0 1 0 -3.4 0M489.9 293.4a1.7 1.7 0 1 0 3.4 0a1.7 1.7 0 1 0 -3.4 0M490.4 298.5a1.7 1.7 0 1 0 3.4 0a1.7 1.7 0 1 0 -3.4 0M490.8 300.4a1.7 1.7 0 1 0 3.4 0a1.7 1.7 0 1 0 -3.4 0M491.2 295.6a1.7 1.7 0 1 0 3.4 0a1.7 1.7 0 1 0 -3.4 0M491.7 297.6a1.7 1.7 0 1 0 3.4 0a1.7 1.7 0 1 0 -3.4 0M492.1 295.2a1.7 1.7 0 1 0 3.4 0a1.7 1.7 0 1 0 -3.4 0M492.6 296.0a1.7 1.7 0 1 0 3.4 0a1.7 1.7 0 1 0 -3.4 0M493.0 297.4a1.7 1.7 0 1 0 3.4 0a1.7 1.7 0 1 0 -3.4 0M493.4 294.0a1.7 1.7 0 1 0 3.4 0a1.7 1.7 0 1 0 -3.4 0M493.9 300.4a1.7 1.7 0 1 0 3.4 0a1.7 1.7 0 1 0 -3.4 0M494.3 299.1a1.7 1.7 0 1 0 3.4 0a1.7 1.7 0 1 0 -3.4 0M494.7 298.6a1.7 1.7 0 1 0 3.4 0a1.7 1.7 0 1 0 -3.4 0M495.2 295.9a1.7 1.7 0 1 0 3.4 0a1.7 1.7 0 1 0 -3.4 0M495.6 299.7a1.7 1.7 0 1 0 3.4 0a1.7 1.7 0 1 0 -3.4 0M496.1 301.0a1.7 1.7 0 1 0 3.4 0a1.7 1.7 0 1 0 -3.4 0M496.5 301.9a1.7 1.7 0 1 0 3.4 0a1.7 1.7 0 1 0 -3.4 0M496.9 300.8a1.7 1.7 0 1 0 3.4 0a1.7 1.7 0 1 0 -3.4 0M497.4 297.6a1.7 1.7 0 1 0 3.4 0a1.7 1.7 0 1 0 -3.4 0M497.8 298.3a1.7 1.7 0 1 0 3.4 0a1.7 1.7 0 1 0 -3.4 0M498.3 299.3a1.7 1.7 0 1 0 3.4 0a1.7 1.7 0 1 0 -3.4 0M498.7 301.3a1.7 1.7 0 1 0 3.4 0a1.7 1.7 0 1 0 -3.4 0M499.1 298.1a1.7 1.7 0 1 0 3.4 0a1.7 1.7 0 1 0 -3.4 0M499.6 299.5a1.7 1.7 0 1 0 3.4 0a1.7 1.7 0 1 0 -3.4 0M500.0 298.2a1.7 1.7 0 1 0 3.4 0a1.7 1.7 0 1 0 -3.4 0M500.5 296.7a1.7 1.7 0 1 0 3.4 0a1.7 1.7 0 1 0 -3.4 0M500.9 298.4a1.7 1.7 0 1 0 3.4 0a1.7 1.7 0 1 0 -3.4 0M501.3 296.8a1.7 1.7 0 1 0 3.4 0a1.7 1.7 0 1 0 -3.4 0M501.8 298.6a1.7 1.7 0 1 0 3.4 0a1.7 1.7 0 1 0 -3.4 0M502.2 296.6a1.7 1.7 0 1 0 3.4 0a1.7 1.7 0 1 0 -3.4 0M502.6 300.9a1.7 1.7 0 1 0 3.4 0a1.7 1.7 0 1 0 -3.4 0M503.1 298.4a1.7 1.7 0 1 0 3.4 0a1.7 1.7 0 1 0 -3.4 0M503.5 298.2a1.7 1.7 0 1 0 3.4 0a1.7 1.7 0 1 0 -3.4 0M504.0 302.2a1.7 1.7 0 1 0 3.4 0a1.7 1.7 0 1 0 -3.4 0M504.4 297.6a1.7 1.7 0 1 0 3.4 0a1.7 1.7 0 1 0 -3.4 0M504.8 299.5a1.7 1.7 0 1 0 3.4 0a1.7 1.7 0 1 0 -3.4 0M505.3 296.9a1.7 1.7 0 1 0 3.4 0a1.7 1.7 0 1 0 -3.4 0M505.7 299.7a1.7 1.7 0 1 0 3.4 0a1.7 1.7 0 1 0 -3.4 0M506.2 295.7a1.7 1.7 0 1 0 3.4 0a1.7 1.7 0 1 0 -3.4 0M506.6 295.7a1.7 1.7 0 1 0 3.4 0a1.7 1.7 0 1 0 -3.4 0M507.0 299.0a1.7 1.7 0 1 0 3.4 0a1.7 1.7 0 1 0 -3.4 0M507.5 296.3a1.7 1.7 0 1 0 3.4 0a1.7 1.7 0 1 0 -3.4 0M507.9 297.7a1.7 1.7 0 1 0 3.4 0a1.7 1.7 0 1 0 -3.4 0M508.4 297.0a1.7 1.7 0 1 0 3.4 0a1.7 1.7 0 1 0 -3.4 0M508.8 296.1a1.7 1.7 0 1 0 3.4 0a1.7 1.7 0 1 0 -3.4 0M509.2 299.3a1.7 1.7 0 1 0 3.4 0a1.7 1.7 0 1 0 -3.4 0M509.7 298.6a1.7 1.7 0 1 0 3.4 0a1.7 1.7 0 1 0 -3.4 0M510.1 298.9a1.7 1.7 0 1 0 3.4 0a1.7 1.7 0 1 0 -3.4 0M510.5 303.9a1.7 1.7 0 1 0 3.4 0a1.7 1.7 0 1 0 -3.4 0M511.0 300.9a1.7 1.7 0 1 0 3.4 0a1.7 1.7 0 1 0 -3.4 0M511.4 301.3a1.7 1.7 0 1 0 3.4 0a1.7 1.7 0 1 0 -3.4 0M511.9 300.2a1.7 1.7 0 1 0 3.4 0a1.7 1.7 0 1 0 -3.4 0M512.3 300.2a1.7 1.7 0 1 0 3.4 0a1.7 1.7 0 1 0 -3.4 0M512.7 302.3a1.7 1.7 0 1 0 3.4 0a1.7 1.7 0 1 0 -3.4 0M513.2 296.9a1.7 1.7 0 1 0 3.4 0a1.7 1.7 0 1 0 -3.4 0M513.6 302.9a1.7 1.7 0 1 0 3.4 0a1.7 1.7 0 1 0 -3.4 0M514.1 301.6a1.7 1.7 0 1 0 3.4 0a1.7 1.7 0 1 0 -3.4 0M514.5 302.1a1.7 1.7 0 1 0 3.4 0a1.7 1.7 0 1 0 -3.4 0M514.9 300.5a1.7 1.7 0 1 0 3.4 0a1.7 1.7 0 1 0 -3.4 0M515.4 300.1a1.7 1.7 0 1 0 3.4 0a1.7 1.7 0 1 0 -3.4 0M515.8 300.0a1.7 1.7 0 1 0 3.4 0a1.7 1.7 0 1 0 -3.4 0M516.3 300.3a1.7 1.7 0 1 0 3.4 0a1.7 1.7 0 1 0 -3.4 0M516.7 301.5a1.7 1.7 0 1 0 3.4 0a1.7 1.7 0 1 0 -3.4 0M517.1 304.3a1.7 1.7 0 1 0 3.4 0a1.7 1.7 0 1 0 -3.4 0M517.6 301.0a1.7 1.7 0 1 0 3.4 0a1.7 1.7 0 1 0 -3.4 0M518.0 299.4a1.7 1.7 0 1 0 3.4 0a1.7 1.7 0 1 0 -3.4 0M518.5 301.8a1.7 1.7 0 1 0 3.4 0a1.7 1.7 0 1 0 -3.4 0M518.9 299.6a1.7 1.7 0 1 0 3.4 0a1.7 1.7 0 1 0 -3.4 0M519.3 299.8a1.7 1.7 0 1 0 3.4 0a1.7 1.7 0 1 0 -3.4 0M519.8 299.0a1.7 1.7 0 1 0 3.4 0a1.7 1.7 0 1 0 -3.4 0M520.2 301.8a1.7 1.7 0 1 0 3.4 0a1.7 1.7 0 1 0 -3.4 0M520.6 300.8a1.7 1.7 0 1 0 3.4 0a1.7 1.7 0 1 0 -3.4 0M521.1 301.7a1.7 1.7 0 1 0 3.4 0a1.7 1.7 0 1 0 -3.4 0M521.5 301.1a1.7 1.7 0 1 0 3.4 0a1.7 1.7 0 1 0 -3.4 0M522.0 297.4a1.7 1.7 0 1 0 3.4 0a1.7 1.7 0 1 0 -3.4 0M522.4 302.4a1.7 1.7 0 1 0 3.4 0a1.7 1.7 0 1 0 -3.4 0M522.8 299.3a1.7 1.7 0 1 0 3.4 0a1.7 1.7 0 1 0 -3.4 0M523.3 297.1a1.7 1.7 0 1 0 3.4 0a1.7 1.7 0 1 0 -3.4 0M523.7 302.1a1.7 1.7 0 1 0 3.4 0a1.7 1.7 0 1 0 -3.4 0M524.2 299.2a1.7 1.7 0 1 0 3.4 0a1.7 1.7 0 1 0 -3.4 0M524.6 303.1a1.7 1.7 0 1 0 3.4 0a1.7 1.7 0 1 0 -3.4 0M525.0 298.7a1.7 1.7 0 1 0 3.4 0a1.7 1.7 0 1 0 -3.4 0M525.5 302.5a1.7 1.7 0 1 0 3.4 0a1.7 1.7 0 1 0 -3.4 0M525.9 301.5a1.7 1.7 0 1 0 3.4 0a1.7 1.7 0 1 0 -3.4 0M526.4 296.0a1.7 1.7 0 1 0 3.4 0a1.7 1.7 0 1 0 -3.4 0M526.8 297.3a1.7 1.7 0 1 0 3.4 0a1.7 1.7 0 1 0 -3.4 0M527.2 302.5a1.7 1.7 0 1 0 3.4 0a1.7 1.7 0 1 0 -3.4 0M527.7 301.9a1.7 1.7 0 1 0 3.4 0a1.7 1.7 0 1 0 -3.4 0M528.1 305.0a1.7 1.7 0 1 0 3.4 0a1.7 1.7 0 1 0 -3.4 0M528.5 301.0a1.7 1.7 0 1 0 3.4 0a1.7 1.7 0 1 0 -3.4 0M529.0 302.0a1.7 1.7 0 1 0 3.4 0a1.7 1.7 0 1 0 -3.4 0M529.4 302.5a1.7 1.7 0 1 0 3.4 0a1.7 1.7 0 1 0 -3.4 0M529.9 302.1a1.7 1.7 0 1 0 3.4 0a1.7 1.7 0 1 0 -3.4 0M530.3 302.4a1.7 1.7 0 1 0 3.4 0a1.7 1.7 0 1 0 -3.4 0M530.7 302.7a1.7 1.7 0 1 0 3.4 0a1.7 1.7 0 1 0 -3.4 0M531.2 300.2a1.7 1.7 0 1 0 3.4 0a1.7 1.7 0 1 0 -3.4 0M531.6 303.6a1.7 1.7 0 1 0 3.4 0a1.7 1.7 0 1 0 -3.4 0M532.1 302.2a1.7 1.7 0 1 0 3.4 0a1.7 1.7 0 1 0 -3.4 0M532.5 301.7a1.7 1.7 0 1 0 3.4 0a1.7 1.7 0 1 0 -3.4 0M532.9 300.6a1.7 1.7 0 1 0 3.4 0a1.7 1.7 0 1 0 -3.4 0M533.4 300.6a1.7 1.7 0 1 0 3.4 0a1.7 1.7 0 1 0 -3.4 0M533.8 301.0a1.7 1.7 0 1 0 3.4 0a1.7 1.7 0 1 0 -3.4 0M534.3 301.5a1.7 1.7 0 1 0 3.4 0a1.7 1.7 0 1 0 -3.4 0M534.7 304.6a1.7 1.7 0 1 0 3.4 0a1.7 1.7 0 1 0 -3.4 0M535.1 304.6a1.7 1.7 0 1 0 3.4 0a1.7 1.7 0 1 0 -3.4 0M535.6 302.9a1.7 1.7 0 1 0 3.4 0a1.7 1.7 0 1 0 -3.4 0M536.0 305.7a1.7 1.7 0 1 0 3.4 0a1.7 1.7 0 1 0 -3.4 0M536.4 303.0a1.7 1.7 0 1 0 3.4 0a1.7 1.7 0 1 0 -3.4 0M536.9 304.3a1.7 1.7 0 1 0 3.4 0a1.7 1.7 0 1 0 -3.4 0M537.3 305.4a1.7 1.7 0 1 0 3.4 0a1.7 1.7 0 1 0 -3.4 0M537.8 304.9a1.7 1.7 0 1 0 3.4 0a1.7 1.7 0 1 0 -3.4 0M538.2 305.5a1.7 1.7 0 1 0 3.4 0a1.7 1.7 0 1 0 -3.4 0M538.6 302.3a1.7 1.7 0 1 0 3.4 0a1.7 1.7 0 1 0 -3.4 0M539.1 302.6a1.7 1.7 0 1 0 3.4 0a1.7 1.7 0 1 0 -3.4 0M539.5 307.2a1.7 1.7 0 1 0 3.4 0a1.7 1.7 0 1 0 -3.4 0M540.0 304.2a1.7 1.7 0 1 0 3.4 0a1.7 1.7 0 1 0 -3.4 0M540.4 301.8a1.7 1.7 0 1 0 3.4 0a1.7 1.7 0 1 0 -3.4 0M540.8 304.7a1.7 1.7 0 1 0 3.4 0a1.7 1.7 0 1 0 -3.4 0M541.3 306.0a1.7 1.7 0 1 0 3.4 0a1.7 1.7 0 1 0 -3.4 0M541.7 305.1a1.7 1.7 0 1 0 3.4 0a1.7 1.7 0 1 0 -3.4 0M542.2 304.3a1.7 1.7 0 1 0 3.4 0a1.7 1.7 0 1 0 -3.4 0M542.6 303.5a1.7 1.7 0 1 0 3.4 0a1.7 1.7 0 1 0 -3.4 0M543.0 303.2a1.7 1.7 0 1 0 3.4 0a1.7 1.7 0 1 0 -3.4 0M543.5 309.6a1.7 1.7 0 1 0 3.4 0a1.7 1.7 0 1 0 -3.4 0M543.9 307.1a1.7 1.7 0 1 0 3.4 0a1.7 1.7 0 1 0 -3.4 0M544.3 304.9a1.7 1.7 0 1 0 3.4 0a1.7 1.7 0 1 0 -3.4 0M544.8 303.3a1.7 1.7 0 1 0 3.4 0a1.7 1.7 0 1 0 -3.4 0M545.2 306.3a1.7 1.7 0 1 0 3.4 0a1.7 1.7 0 1 0 -3.4 0M545.7 305.9a1.7 1.7 0 1 0 3.4 0a1.7 1.7 0 1 0 -3.4 0M546.1 306.2a1.7 1.7 0 1 0 3.4 0a1.7 1.7 0 1 0 -3.4 0M546.5 305.5a1.7 1.7 0 1 0 3.4 0a1.7 1.7 0 1 0 -3.4 0M547.0 308.1a1.7 1.7 0 1 0 3.4 0a1.7 1.7 0 1 0 -3.4 0M547.4 308.5a1.7 1.7 0 1 0 3.4 0a1.7 1.7 0 1 0 -3.4 0M547.9 302.7a1.7 1.7 0 1 0 3.4 0a1.7 1.7 0 1 0 -3.4 0M548.3 303.6a1.7 1.7 0 1 0 3.4 0a1.7 1.7 0 1 0 -3.4 0M548.7 302.5a1.7 1.7 0 1 0 3.4 0a1.7 1.7 0 1 0 -3.4 0M549.2 303.6a1.7 1.7 0 1 0 3.4 0a1.7 1.7 0 1 0 -3.4 0M549.6 303.1a1.7 1.7 0 1 0 3.4 0a1.7 1.7 0 1 0 -3.4 0M550.1 305.9a1.7 1.7 0 1 0 3.4 0a1.7 1.7 0 1 0 -3.4 0M550.5 306.3a1.7 1.7 0 1 0 3.4 0a1.7 1.7 0 1 0 -3.4 0M550.9 303.9a1.7 1.7 0 1 0 3.4 0a1.7 1.7 0 1 0 -3.4 0M551.4 305.0a1.7 1.7 0 1 0 3.4 0a1.7 1.7 0 1 0 -3.4 0M551.8 303.7a1.7 1.7 0 1 0 3.4 0a1.7 1.7 0 1 0 -3.4 0M552.3 301.2a1.7 1.7 0 1 0 3.4 0a1.7 1.7 0 1 0 -3.4 0M552.7 303.8a1.7 1.7 0 1 0 3.4 0a1.7 1.7 0 1 0 -3.4 0M553.1 305.4a1.7 1.7 0 1 0 3.4 0a1.7 1.7 0 1 0 -3.4 0M553.6 303.4a1.7 1.7 0 1 0 3.4 0a1.7 1.7 0 1 0 -3.4 0M554.0 306.5a1.7 1.7 0 1 0 3.4 0a1.7 1.7 0 1 0 -3.4 0M554.4 306.1a1.7 1.7 0 1 0 3.4 0a1.7 1.7 0 1 0 -3.4 0M554.9 301.8a1.7 1.7 0 1 0 3.4 0a1.7 1.7 0 1 0 -3.4 0M555.3 305.4a1.7 1.7 0 1 0 3.4 0a1.7 1.7 0 1 0 -3.4 0M555.8 307.5a1.7 1.7 0 1 0 3.4 0a1.7 1.7 0 1 0 -3.4 0M556.2 308.9a1.7 1.7 0 1 0 3.4 0a1.7 1.7 0 1 0 -3.4 0M556.6 306.4a1.7 1.7 0 1 0 3.4 0a1.7 1.7 0 1 0 -3.4 0M557.1 306.7a1.7 1.7 0 1 0 3.4 0a1.7 1.7 0 1 0 -3.4 0M557.5 305.2a1.7 1.7 0 1 0 3.4 0a1.7 1.7 0 1 0 -3.4 0M558.0 308.5a1.7 1.7 0 1 0 3.4 0a1.7 1.7 0 1 0 -3.4 0M558.4 309.7a1.7 1.7 0 1 0 3.4 0a1.7 1.7 0 1 0 -3.4 0M558.8 308.2a1.7 1.7 0 1 0 3.4 0a1.7 1.7 0 1 0 -3.4 0M559.3 306.7a1.7 1.7 0 1 0 3.4 0a1.7 1.7 0 1 0 -3.4 0M559.7 307.2a1.7 1.7 0 1 0 3.4 0a1.7 1.7 0 1 0 -3.4 0M560.2 305.2a1.7 1.7 0 1 0 3.4 0a1.7 1.7 0 1 0 -3.4 0M560.6 306.3a1.7 1.7 0 1 0 3.4 0a1.7 1.7 0 1 0 -3.4 0M561.0 305.0a1.7 1.7 0 1 0 3.4 0a1.7 1.7 0 1 0 -3.4 0M561.5 308.9a1.7 1.7 0 1 0 3.4 0a1.7 1.7 0 1 0 -3.4 0M561.9 310.4a1.7 1.7 0 1 0 3.4 0a1.7 1.7 0 1 0 -3.4 0M562.3 304.6a1.7 1.7 0 1 0 3.4 0a1.7 1.7 0 1 0 -3.4 0M562.8 308.9a1.7 1.7 0 1 0 3.4 0a1.7 1.7 0 1 0 -3.4 0M563.2 309.1a1.7 1.7 0 1 0 3.4 0a1.7 1.7 0 1 0 -3.4 0M563.7 305.1a1.7 1.7 0 1 0 3.4 0a1.7 1.7 0 1 0 -3.4 0M564.1 307.7a1.7 1.7 0 1 0 3.4 0a1.7 1.7 0 1 0 -3.4 0M564.5 308.9a1.7 1.7 0 1 0 3.4 0a1.7 1.7 0 1 0 -3.4 0M565.0 308.9a1.7 1.7 0 1 0 3.4 0a1.7 1.7 0 1 0 -3.4 0M565.4 307.5a1.7 1.7 0 1 0 3.4 0a1.7 1.7 0 1 0 -3.4 0M565.9 310.5a1.7 1.7 0 1 0 3.4 0a1.7 1.7 0 1 0 -3.4 0M566.3 310.0a1.7 1.7 0 1 0 3.4 0a1.7 1.7 0 1 0 -3.4 0M566.7 310.3a1.7 1.7 0 1 0 3.4 0a1.7 1.7 0 1 0 -3.4 0M567.2 309.5a1.7 1.7 0 1 0 3.4 0a1.7 1.7 0 1 0 -3.4 0M567.6 306.8a1.7 1.7 0 1 0 3.4 0a1.7 1.7 0 1 0 -3.4 0M568.1 311.5a1.7 1.7 0 1 0 3.4 0a1.7 1.7 0 1 0 -3.4 0M568.5 314.5a1.7 1.7 0 1 0 3.4 0a1.7 1.7 0 1 0 -3.4 0M568.9 312.2a1.7 1.7 0 1 0 3.4 0a1.7 1.7 0 1 0 -3.4 0M569.4 313.8a1.7 1.7 0 1 0 3.4 0a1.7 1.7 0 1 0 -3.4 0M569.8 310.2a1.7 1.7 0 1 0 3.4 0a1.7 1.7 0 1 0 -3.4 0M570.2 316.3a1.7 1.7 0 1 0 3.4 0a1.7 1.7 0 1 0 -3.4 0M570.7 311.0a1.7 1.7 0 1 0 3.4 0a1.7 1.7 0 1 0 -3.4 0M571.1 312.8a1.7 1.7 0 1 0 3.4 0a1.7 1.7 0 1 0 -3.4 0M571.6 313.9a1.7 1.7 0 1 0 3.4 0a1.7 1.7 0 1 0 -3.4 0M572.0 312.1a1.7 1.7 0 1 0 3.4 0a1.7 1.7 0 1 0 -3.4 0M572.4 310.6a1.7 1.7 0 1 0 3.4 0a1.7 1.7 0 1 0 -3.4 0M572.9 311.8a1.7 1.7 0 1 0 3.4 0a1.7 1.7 0 1 0 -3.4 0M573.3 312.5a1.7 1.7 0 1 0 3.4 0a1.7 1.7 0 1 0 -3.4 0M573.8 315.6a1.7 1.7 0 1 0 3.4 0a1.7 1.7 0 1 0 -3.4 0M574.2 309.7a1.7 1.7 0 1 0 3.4 0a1.7 1.7 0 1 0 -3.4 0M574.6 310.2a1.7 1.7 0 1 0 3.4 0a1.7 1.7 0 1 0 -3.4 0M575.1 312.9a1.7 1.7 0 1 0 3.4 0a1.7 1.7 0 1 0 -3.4 0M575.5 311.7a1.7 1.7 0 1 0 3.4 0a1.7 1.7 0 1 0 -3.4 0M576.0 314.1a1.7 1.7 0 1 0 3.4 0a1.7 1.7 0 1 0 -3.4 0M576.4 312.2a1.7 1.7 0 1 0 3.4 0a1.7 1.7 0 1 0 -3.4 0M576.8 310.1a1.7 1.7 0 1 0 3.4 0a1.7 1.7 0 1 0 -3.4 0M577.3 313.2a1.7 1.7 0 1 0 3.4 0a1.7 1.7 0 1 0 -3.4 0M577.7 312.0a1.7 1.7 0 1 0 3.4 0a1.7 1.7 0 1 0 -3.4 0M578.1 312.2a1.7 1.7 0 1 0 3.4 0a1.7 1.7 0 1 0 -3.4 0M578.6 316.1a1.7 1.7 0 1 0 3.4 0a1.7 1.7 0 1 0 -3.4 0M579.0 318.7a1.7 1.7 0 1 0 3.4 0a1.7 1.7 0 1 0 -3.4 0M579.5 314.9a1.7 1.7 0 1 0 3.4 0a1.7 1.7 0 1 0 -3.4 0M579.9 316.1a1.7 1.7 0 1 0 3.4 0a1.7 1.7 0 1 0 -3.4 0M580.3 318.5a1.7 1.7 0 1 0 3.4 0a1.7 1.7 0 1 0 -3.4 0M580.8 313.3a1.7 1.7 0 1 0 3.4 0a1.7 1.7 0 1 0 -3.4 0M581.2 316.4a1.7 1.7 0 1 0 3.4 0a1.7 1.7 0 1 0 -3.4 0M581.7 316.4a1.7 1.7 0 1 0 3.4 0a1.7 1.7 0 1 0 -3.4 0M582.1 315.5a1.7 1.7 0 1 0 3.4 0a1.7 1.7 0 1 0 -3.4 0M582.5 320.7a1.7 1.7 0 1 0 3.4 0a1.7 1.7 0 1 0 -3.4 0M583.0 315.7a1.7 1.7 0 1 0 3.4 0a1.7 1.7 0 1 0 -3.4 0M583.4 313.1a1.7 1.7 0 1 0 3.4 0a1.7 1.7 0 1 0 -3.4 0M583.9 315.2a1.7 1.7 0 1 0 3.4 0a1.7 1.7 0 1 0 -3.4 0M584.3 317.6a1.7 1.7 0 1 0 3.4 0a1.7 1.7 0 1 0 -3.4 0M584.7 314.6a1.7 1.7 0 1 0 3.4 0a1.7 1.7 0 1 0 -3.4 0M585.2 319.8a1.7 1.7 0 1 0 3.4 0a1.7 1.7 0 1 0 -3.4 0M585.6 315.7a1.7 1.7 0 1 0 3.4 0a1.7 1.7 0 1 0 -3.4 0M586.1 317.2a1.7 1.7 0 1 0 3.4 0a1.7 1.7 0 1 0 -3.4 0M586.5 317.2a1.7 1.7 0 1 0 3.4 0a1.7 1.7 0 1 0 -3.4 0M586.9 316.9a1.7 1.7 0 1 0 3.4 0a1.7 1.7 0 1 0 -3.4 0M587.4 316.9a1.7 1.7 0 1 0 3.4 0a1.7 1.7 0 1 0 -3.4 0M587.8 316.6a1.7 1.7 0 1 0 3.4 0a1.7 1.7 0 1 0 -3.4 0M588.2 317.6a1.7 1.7 0 1 0 3.4 0a1.7 1.7 0 1 0 -3.4 0M588.7 321.0a1.7 1.7 0 1 0 3.4 0a1.7 1.7 0 1 0 -3.4 0M589.1 319.6a1.7 1.7 0 1 0 3.4 0a1.7 1.7 0 1 0 -3.4 0M589.6 320.3a1.7 1.7 0 1 0 3.4 0a1.7 1.7 0 1 0 -3.4 0M590.0 319.6a1.7 1.7 0 1 0 3.4 0a1.7 1.7 0 1 0 -3.4 0M590.4 317.4a1.7 1.7 0 1 0 3.4 0a1.7 1.7 0 1 0 -3.4 0M590.9 322.3a1.7 1.7 0 1 0 3.4 0a1.7 1.7 0 1 0 -3.4 0M591.3 321.1a1.7 1.7 0 1 0 3.4 0a1.7 1.7 0 1 0 -3.4 0M591.8 319.6a1.7 1.7 0 1 0 3.4 0a1.7 1.7 0 1 0 -3.4 0M592.2 320.8a1.7 1.7 0 1 0 3.4 0a1.7 1.7 0 1 0 -3.4 0M592.6 318.7a1.7 1.7 0 1 0 3.4 0a1.7 1.7 0 1 0 -3.4 0M593.1 322.0a1.7 1.7 0 1 0 3.4 0a1.7 1.7 0 1 0 -3.4 0M593.5 322.1a1.7 1.7 0 1 0 3.4 0a1.7 1.7 0 1 0 -3.4 0M594.0 324.1a1.7 1.7 0 1 0 3.4 0a1.7 1.7 0 1 0 -3.4 0M594.4 319.2a1.7 1.7 0 1 0 3.4 0a1.7 1.7 0 1 0 -3.4 0M594.8 319.6a1.7 1.7 0 1 0 3.4 0a1.7 1.7 0 1 0 -3.4 0M595.3 318.0a1.7 1.7 0 1 0 3.4 0a1.7 1.7 0 1 0 -3.4 0M595.7 318.8a1.7 1.7 0 1 0 3.4 0a1.7 1.7 0 1 0 -3.4 0M596.1 321.3a1.7 1.7 0 1 0 3.4 0a1.7 1.7 0 1 0 -3.4 0M596.6 319.1a1.7 1.7 0 1 0 3.4 0a1.7 1.7 0 1 0 -3.4 0M597.0 319.6a1.7 1.7 0 1 0 3.4 0a1.7 1.7 0 1 0 -3.4 0M597.5 319.4a1.7 1.7 0 1 0 3.4 0a1.7 1.7 0 1 0 -3.4 0M597.9 323.1a1.7 1.7 0 1 0 3.4 0a1.7 1.7 0 1 0 -3.4 0M598.3 321.1a1.7 1.7 0 1 0 3.4 0a1.7 1.7 0 1 0 -3.4 0M598.8 318.3a1.7 1.7 0 1 0 3.4 0a1.7 1.7 0 1 0 -3.4 0M599.2 319.6a1.7 1.7 0 1 0 3.4 0a1.7 1.7 0 1 0 -3.4 0M599.7 323.3a1.7 1.7 0 1 0 3.4 0a1.7 1.7 0 1 0 -3.4 0M600.1 322.3a1.7 1.7 0 1 0 3.4 0a1.7 1.7 0 1 0 -3.4 0M600.5 322.0a1.7 1.7 0 1 0 3.4 0a1.7 1.7 0 1 0 -3.4 0M601.0 321.8a1.7 1.7 0 1 0 3.4 0a1.7 1.7 0 1 0 -3.4 0M601.4 320.7a1.7 1.7 0 1 0 3.4 0a1.7 1.7 0 1 0 -3.4 0M601.9 321.3a1.7 1.7 0 1 0 3.4 0a1.7 1.7 0 1 0 -3.4 0M602.3 323.0a1.7 1.7 0 1 0 3.4 0a1.7 1.7 0 1 0 -3.4 0M602.7 322.6a1.7 1.7 0 1 0 3.4 0a1.7 1.7 0 1 0 -3.4 0M603.2 319.6a1.7 1.7 0 1 0 3.4 0a1.7 1.7 0 1 0 -3.4 0M603.6 319.6a1.7 1.7 0 1 0 3.4 0a1.7 1.7 0 1 0 -3.4 0M604.0 323.5a1.7 1.7 0 1 0 3.4 0a1.7 1.7 0 1 0 -3.4 0M604.5 323.6a1.7 1.7 0 1 0 3.4 0a1.7 1.7 0 1 0 -3.4 0M604.9 320.8a1.7 1.7 0 1 0 3.4 0a1.7 1.7 0 1 0 -3.4 0M605.4 322.9a1.7 1.7 0 1 0 3.4 0a1.7 1.7 0 1 0 -3.4 0M605.8 319.7a1.7 1.7 0 1 0 3.4 0a1.7 1.7 0 1 0 -3.4 0M606.2 319.8a1.7 1.7 0 1 0 3.4 0a1.7 1.7 0 1 0 -3.4 0M606.7 320.1a1.7 1.7 0 1 0 3.4 0a1.7 1.7 0 1 0 -3.4 0M607.1 324.8a1.7 1.7 0 1 0 3.4 0a1.7 1.7 0 1 0 -3.4 0M607.6 318.5a1.7 1.7 0 1 0 3.4 0a1.7 1.7 0 1 0 -3.4 0M608.0 321.8a1.7 1.7 0 1 0 3.4 0a1.7 1.7 0 1 0 -3.4 0M608.4 322.8a1.7 1.7 0 1 0 3.4 0a1.7 1.7 0 1 0 -3.4 0M608.9 323.2a1.7 1.7 0 1 0 3.4 0a1.7 1.7 0 1 0 -3.4 0M609.3 322.1a1.7 1.7 0 1 0 3.4 0a1.7 1.7 0 1 0 -3.4 0M609.8 320.3a1.7 1.7 0 1 0 3.4 0a1.7 1.7 0 1 0 -3.4 0M610.2 319.3a1.7 1.7 0 1 0 3.4 0a1.7 1.7 0 1 0 -3.4 0M610.6 319.7a1.7 1.7 0 1 0 3.4 0a1.7 1.7 0 1 0 -3.4 0M611.1 321.3a1.7 1.7 0 1 0 3.4 0a1.7 1.7 0 1 0 -3.4 0M611.5 320.2a1.7 1.7 0 1 0 3.4 0a1.7 1.7 0 1 0 -3.4 0M611.9 317.6a1.7 1.7 0 1 0 3.4 0a1.7 1.7 0 1 0 -3.4 0M612.4 321.0a1.7 1.7 0 1 0 3.4 0a1.7 1.7 0 1 0 -3.4 0M612.8 318.6a1.7 1.7 0 1 0 3.4 0a1.7 1.7 0 1 0 -3.4 0M613.3 321.5a1.7 1.7 0 1 0 3.4 0a1.7 1.7 0 1 0 -3.4 0M613.7 323.9a1.7 1.7 0 1 0 3.4 0a1.7 1.7 0 1 0 -3.4 0M614.1 325.9a1.7 1.7 0 1 0 3.4 0a1.7 1.7 0 1 0 -3.4 0M614.6 320.5a1.7 1.7 0 1 0 3.4 0a1.7 1.7 0 1 0 -3.4 0M615.0 318.9a1.7 1.7 0 1 0 3.4 0a1.7 1.7 0 1 0 -3.4 0M615.5 316.8a1.7 1.7 0 1 0 3.4 0a1.7 1.7 0 1 0 -3.4 0M615.9 321.2a1.7 1.7 0 1 0 3.4 0a1.7 1.7 0 1 0 -3.4 0M616.3 320.0a1.7 1.7 0 1 0 3.4 0a1.7 1.7 0 1 0 -3.4 0M616.8 320.0a1.7 1.7 0 1 0 3.4 0a1.7 1.7 0 1 0 -3.4 0M617.2 317.1a1.7 1.7 0 1 0 3.4 0a1.7 1.7 0 1 0 -3.4 0M617.7 318.6a1.7 1.7 0 1 0 3.4 0a1.7 1.7 0 1 0 -3.4 0M618.1 321.9a1.7 1.7 0 1 0 3.4 0a1.7 1.7 0 1 0 -3.4 0M618.5 320.9a1.7 1.7 0 1 0 3.4 0a1.7 1.7 0 1 0 -3.4 0M619.0 319.5a1.7 1.7 0 1 0 3.4 0a1.7 1.7 0 1 0 -3.4 0M619.4 319.2a1.7 1.7 0 1 0 3.4 0a1.7 1.7 0 1 0 -3.4 0M619.9 315.9a1.7 1.7 0 1 0 3.4 0a1.7 1.7 0 1 0 -3.4 0M620.3 321.7a1.7 1.7 0 1 0 3.4 0a1.7 1.7 0 1 0 -3.4 0M620.7 319.3a1.7 1.7 0 1 0 3.4 0a1.7 1.7 0 1 0 -3.4 0M621.2 318.8a1.7 1.7 0 1 0 3.4 0a1.7 1.7 0 1 0 -3.4 0M621.6 320.3a1.7 1.7 0 1 0 3.4 0a1.7 1.7 0 1 0 -3.4 0M622.0 319.8a1.7 1.7 0 1 0 3.4 0a1.7 1.7 0 1 0 -3.4 0M622.5 319.8a1.7 1.7 0 1 0 3.4 0a1.7 1.7 0 1 0 -3.4 0M622.9 315.6a1.7 1.7 0 1 0 3.4 0a1.7 1.7 0 1 0 -3.4 0M623.4 320.0a1.7 1.7 0 1 0 3.4 0a1.7 1.7 0 1 0 -3.4 0M623.8 317.5a1.7 1.7 0 1 0 3.4 0a1.7 1.7 0 1 0 -3.4 0M624.2 317.7a1.7 1.7 0 1 0 3.4 0a1.7 1.7 0 1 0 -3.4 0M624.7 322.2a1.7 1.7 0 1 0 3.4 0a1.7 1.7 0 1 0 -3.4 0M625.1 320.9a1.7 1.7 0 1 0 3.4 0a1.7 1.7 0 1 0 -3.4 0M625.6 321.6a1.7 1.7 0 1 0 3.4 0a1.7 1.7 0 1 0 -3.4 0M626.0 316.6a1.7 1.7 0 1 0 3.4 0a1.7 1.7 0 1 0 -3.4 0M626.4 320.9a1.7 1.7 0 1 0 3.4 0a1.7 1.7 0 1 0 -3.4 0M626.9 316.7a1.7 1.7 0 1 0 3.4 0a1.7 1.7 0 1 0 -3.4 0M627.3 314.6a1.7 1.7 0 1 0 3.4 0a1.7 1.7 0 1 0 -3.4 0M627.8 320.1a1.7 1.7 0 1 0 3.4 0a1.7 1.7 0 1 0 -3.4 0M628.2 319.9a1.7 1.7 0 1 0 3.4 0a1.7 1.7 0 1 0 -3.4 0M628.6 320.1a1.7 1.7 0 1 0 3.4 0a1.7 1.7 0 1 0 -3.4 0M629.1 322.9a1.7 1.7 0 1 0 3.4 0a1.7 1.7 0 1 0 -3.4 0M629.5 320.0a1.7 1.7 0 1 0 3.4 0a1.7 1.7 0 1 0 -3.4 0M629.9 321.5a1.7 1.7 0 1 0 3.4 0a1.7 1.7 0 1 0 -3.4 0M630.4 320.4a1.7 1.7 0 1 0 3.4 0a1.7 1.7 0 1 0 -3.4 0M630.8 319.8a1.7 1.7 0 1 0 3.4 0a1.7 1.7 0 1 0 -3.4 0M631.3 320.7a1.7 1.7 0 1 0 3.4 0a1.7 1.7 0 1 0 -3.4 0M631.7 323.3a1.7 1.7 0 1 0 3.4 0a1.7 1.7 0 1 0 -3.4 0M632.1 322.0a1.7 1.7 0 1 0 3.4 0a1.7 1.7 0 1 0 -3.4 0M632.6 324.2a1.7 1.7 0 1 0 3.4 0a1.7 1.7 0 1 0 -3.4 0M633.0 322.6a1.7 1.7 0 1 0 3.4 0a1.7 1.7 0 1 0 -3.4 0M633.5 321.8a1.7 1.7 0 1 0 3.4 0a1.7 1.7 0 1 0 -3.4 0M633.9 321.2a1.7 1.7 0 1 0 3.4 0a1.7 1.7 0 1 0 -3.4 0M634.3 318.1a1.7 1.7 0 1 0 3.4 0a1.7 1.7 0 1 0 -3.4 0M634.8 320.0a1.7 1.7 0 1 0 3.4 0a1.7 1.7 0 1 0 -3.4 0M635.2 322.4a1.7 1.7 0 1 0 3.4 0a1.7 1.7 0 1 0 -3.4 0M635.7 323.0a1.7 1.7 0 1 0 3.4 0a1.7 1.7 0 1 0 -3.4 0M636.1 321.2a1.7 1.7 0 1 0 3.4 0a1.7 1.7 0 1 0 -3.4 0M636.5 325.5a1.7 1.7 0 1 0 3.4 0a1.7 1.7 0 1 0 -3.4 0M637.0 319.7a1.7 1.7 0 1 0 3.4 0a1.7 1.7 0 1 0 -3.4 0M637.4 326.9a1.7 1.7 0 1 0 3.4 0a1.7 1.7 0 1 0 -3.4 0M637.8 321.2a1.7 1.7 0 1 0 3.4 0a1.7 1.7 0 1 0 -3.4 0M638.3 324.7a1.7 1.7 0 1 0 3.4 0a1.7 1.7 0 1 0 -3.4 0M638.7 321.7a1.7 1.7 0 1 0 3.4 0a1.7 1.7 0 1 0 -3.4 0M639.4 324.4a1.7 1.7 0 1 0 3.4 0a1.7 1.7 0 1 0 -3.4 0M640.0 323.9a1.7 1.7 0 1 0 3.4 0a1.7 1.7 0 1 0 -3.4 0M640.7 321.3a1.7 1.7 0 1 0 3.4 0a1.7 1.7 0 1 0 -3.4 0M641.4 318.0a1.7 1.7 0 1 0 3.4 0a1.7 1.7 0 1 0 -3.4 0M642.0 316.7a1.7 1.7 0 1 0 3.4 0a1.7 1.7 0 1 0 -3.4 0M642.7 318.5a1.7 1.7 0 1 0 3.4 0a1.7 1.7 0 1 0 -3.4 0M643.3 320.3a1.7 1.7 0 1 0 3.4 0a1.7 1.7 0 1 0 -3.4 0M644.0 322.0a1.7 1.7 0 1 0 3.4 0a1.7 1.7 0 1 0 -3.4 0M644.7 319.3a1.7 1.7 0 1 0 3.4 0a1.7 1.7 0 1 0 -3.4 0M645.3 318.1a1.7 1.7 0 1 0 3.4 0a1.7 1.7 0 1 0 -3.4 0M646.0 319.1a1.7 1.7 0 1 0 3.4 0a1.7 1.7 0 1 0 -3.4 0M646.6 317.7a1.7 1.7 0 1 0 3.4 0a1.7 1.7 0 1 0 -3.4 0M647.3 317.4a1.7 1.7 0 1 0 3.4 0a1.7 1.7 0 1 0 -3.4 0M647.9 316.7a1.7 1.7 0 1 0 3.4 0a1.7 1.7 0 1 0 -3.4 0M648.6 314.0a1.7 1.7 0 1 0 3.4 0a1.7 1.7 0 1 0 -3.4 0M649.3 315.6a1.7 1.7 0 1 0 3.4 0a1.7 1.7 0 1 0 -3.4 0M649.9 320.8a1.7 1.7 0 1 0 3.4 0a1.7 1.7 0 1 0 -3.4 0M650.3 312.5a1.7 1.7 0 1 0 3.4 0a1.7 1.7 0 1 0 -3.4 0M650.6 316.1a1.7 1.7 0 1 0 3.4 0a1.7 1.7 0 1 0 -3.4 0M651.2 317.9a1.7 1.7 0 1 0 3.4 0a1.7 1.7 0 1 0 -3.4 0M651.9 311.3a1.7 1.7 0 1 0 3.4 0a1.7 1.7 0 1 0 -3.4 0M652.6 314.8a1.7 1.7 0 1 0 3.4 0a1.7 1.7 0 1 0 -3.4 0M653.2 317.6a1.7 1.7 0 1 0 3.4 0a1.7 1.7 0 1 0 -3.4 0M653.9 313.6a1.7 1.7 0 1 0 3.4 0a1.7 1.7 0 1 0 -3.4 0M654.5 315.6a1.7 1.7 0 1 0 3.4 0a1.7 1.7 0 1 0 -3.4 0M655.2 316.5a1.7 1.7 0 1 0 3.4 0a1.7 1.7 0 1 0 -3.4 0M655.8 315.3a1.7 1.7 0 1 0 3.4 0a1.7 1.7 0 1 0 -3.4 0M656.5 312.9a1.7 1.7 0 1 0 3.4 0a1.7 1.7 0 1 0 -3.4 0M657.2 317.5a1.7 1.7 0 1 0 3.4 0a1.7 1.7 0 1 0 -3.4 0M657.8 309.0a1.7 1.7 0 1 0 3.4 0a1.7 1.7 0 1 0 -3.4 0M657.8 317.3a1.7 1.7 0 1 0 3.4 0a1.7 1.7 0 1 0 -3.4 0M658.5 314.4a1.7 1.7 0 1 0 3.4 0a1.7 1.7 0 1 0 -3.4 0M659.1 319.7a1.7 1.7 0 1 0 3.4 0a1.7 1.7 0 1 0 -3.4 0M659.8 317.0a1.7 1.7 0 1 0 3.4 0a1.7 1.7 0 1 0 -3.4 0M660.5 315.6a1.7 1.7 0 1 0 3.4 0a1.7 1.7 0 1 0 -3.4 0M661.1 320.0a1.7 1.7 0 1 0 3.4 0a1.7 1.7 0 1 0 -3.4 0M661.8 317.0a1.7 1.7 0 1 0 3.4 0a1.7 1.7 0 1 0 -3.4 0M662.4 314.1a1.7 1.7 0 1 0 3.4 0a1.7 1.7 0 1 0 -3.4 0M663.1 319.3a1.7 1.7 0 1 0 3.4 0a1.7 1.7 0 1 0 -3.4 0M663.7 318.9a1.7 1.7 0 1 0 3.4 0a1.7 1.7 0 1 0 -3.4 0M664.4 317.3a1.7 1.7 0 1 0 3.4 0a1.7 1.7 0 1 0 -3.4 0M665.1 314.3a1.7 1.7 0 1 0 3.4 0a1.7 1.7 0 1 0 -3.4 0M665.7 317.0a1.7 1.7 0 1 0 3.4 0a1.7 1.7 0 1 0 -3.4 0M666.4 315.3a1.7 1.7 0 1 0 3.4 0a1.7 1.7 0 1 0 -3.4 0M667.0 321.2a1.7 1.7 0 1 0 3.4 0a1.7 1.7 0 1 0 -3.4 0M667.7 318.8a1.7 1.7 0 1 0 3.4 0a1.7 1.7 0 1 0 -3.4 0M668.1 304.7a1.7 1.7 0 1 0 3.4 0a1.7 1.7 0 1 0 -3.4 0M668.4 316.3a1.7 1.7 0 1 0 3.4 0a1.7 1.7 0 1 0 -3.4 0M669.0 315.4a1.7 1.7 0 1 0 3.4 0a1.7 1.7 0 1 0 -3.4 0M669.7 318.2a1.7 1.7 0 1 0 3.4 0a1.7 1.7 0 1 0 -3.4 0M670.3 317.7a1.7 1.7 0 1 0 3.4 0a1.7 1.7 0 1 0 -3.4 0M671.0 314.8a1.7 1.7 0 1 0 3.4 0a1.7 1.7 0 1 0 -3.4 0M671.6 315.2a1.7 1.7 0 1 0 3.4 0a1.7 1.7 0 1 0 -3.4 0M672.3 314.6a1.7 1.7 0 1 0 3.4 0a1.7 1.7 0 1 0 -3.4 0M673.0 310.4a1.7 1.7 0 1 0 3.4 0a1.7 1.7 0 1 0 -3.4 0M673.6 310.7a1.7 1.7 0 1 0 3.4 0a1.7 1.7 0 1 0 -3.4 0M674.3 313.2a1.7 1.7 0 1 0 3.4 0a1.7 1.7 0 1 0 -3.4 0M674.9 317.2a1.7 1.7 0 1 0 3.4 0a1.7 1.7 0 1 0 -3.4 0M675.6 314.7a1.7 1.7 0 1 0 3.4 0a1.7 1.7 0 1 0 -3.4 0M676.3 313.9a1.7 1.7 0 1 0 3.4 0a1.7 1.7 0 1 0 -3.4 0M676.3 307.0a1.7 1.7 0 1 0 3.4 0a1.7 1.7 0 1 0 -3.4 0M676.9 312.9a1.7 1.7 0 1 0 3.4 0a1.7 1.7 0 1 0 -3.4 0M677.6 312.9a1.7 1.7 0 1 0 3.4 0a1.7 1.7 0 1 0 -3.4 0M678.2 315.4a1.7 1.7 0 1 0 3.4 0a1.7 1.7 0 1 0 -3.4 0M678.9 314.2a1.7 1.7 0 1 0 3.4 0a1.7 1.7 0 1 0 -3.4 0M679.5 315.3a1.7 1.7 0 1 0 3.4 0a1.7 1.7 0 1 0 -3.4 0M680.2 310.2a1.7 1.7 0 1 0 3.4 0a1.7 1.7 0 1 0 -3.4 0M680.3 305.0a1.7 1.7 0 1 0 3.4 0a1.7 1.7 0 1 0 -3.4 0M680.9 310.9a1.7 1.7 0 1 0 3.4 0a1.7 1.7 0 1 0 -3.4 0M681.5 310.9a1.7 1.7 0 1 0 3.4 0a1.7 1.7 0 1 0 -3.4 0M682.2 311.6a1.7 1.7 0 1 0 3.4 0a1.7 1.7 0 1 0 -3.4 0M682.8 317.0a1.7 1.7 0 1 0 3.4 0a1.7 1.7 0 1 0 -3.4 0M683.5 315.3a1.7 1.7 0 1 0 3.4 0a1.7 1.7 0 1 0 -3.4 0M684.2 307.1a1.7 1.7 0 1 0 3.4 0a1.7 1.7 0 1 0 -3.4 0M684.8 313.0a1.7 1.7 0 1 0 3.4 0a1.7 1.7 0 1 0 -3.4 0M685.1 302.5a1.7 1.7 0 1 0 3.4 0a1.7 1.7 0 1 0 -3.4 0M685.5 305.4a1.7 1.7 0 1 0 3.4 0a1.7 1.7 0 1 0 -3.4 0M686.9 299.0a1.7 1.7 0 1 0 3.4 0a1.7 1.7 0 1 0 -3.4 0M688.0 280.5a1.7 1.7 0 1 0 3.4 0a1.7 1.7 0 1 0 -3.4 0M688.9 292.0a1.7 1.7 0 1 0 3.4 0a1.7 1.7 0 1 0 -3.4 0M689.9 295.0a1.7 1.7 0 1 0 3.4 0a1.7 1.7 0 1 0 -3.4 0M691.1 303.0a1.7 1.7 0 1 0 3.4 0a1.7 1.7 0 1 0 -3.4 0M691.4 314.7a1.7 1.7 0 1 0 3.4 0a1.7 1.7 0 1 0 -3.4 0M692.1 314.9a1.7 1.7 0 1 0 3.4 0a1.7 1.7 0 1 0 -3.4 0M692.7 314.9a1.7 1.7 0 1 0 3.4 0a1.7 1.7 0 1 0 -3.4 0M693.4 312.2a1.7 1.7 0 1 0 3.4 0a1.7 1.7 0 1 0 -3.4 0M694.0 310.3a1.7 1.7 0 1 0 3.4 0a1.7 1.7 0 1 0 -3.4 0M694.3 299.8a1.7 1.7 0 1 0 3.4 0a1.7 1.7 0 1 0 -3.4 0M694.7 308.0a1.7 1.7 0 1 0 3.4 0a1.7 1.7 0 1 0 -3.4 0M695.1 304.7a1.7 1.7 0 1 0 3.4 0a1.7 1.7 0 1 0 -3.4 0M695.4 312.2a1.7 1.7 0 1 0 3.4 0a1.7 1.7 0 1 0 -3.4 0M696.0 313.4a1.7 1.7 0 1 0 3.4 0a1.7 1.7 0 1 0 -3.4 0M696.7 310.8a1.7 1.7 0 1 0 3.4 0a1.7 1.7 0 1 0 -3.4 0M697.3 311.0a1.7 1.7 0 1 0 3.4 0a1.7 1.7 0 1 0 -3.4 0M698.0 316.7a1.7 1.7 0 1 0 3.4 0a1.7 1.7 0 1 0 -3.4 0M698.6 310.8a1.7 1.7 0 1 0 3.4 0a1.7 1.7 0 1 0 -3.4 0M699.3 313.1a1.7 1.7 0 1 0 3.4 0a1.7 1.7 0 1 0 -3.4 0M700.0 312.0a1.7 1.7 0 1 0 3.4 0a1.7 1.7 0 1 0 -3.4 0M700.6 313.0a1.7 1.7 0 1 0 3.4 0a1.7 1.7 0 1 0 -3.4 0M701.3 317.3a1.7 1.7 0 1 0 3.4 0a1.7 1.7 0 1 0 -3.4 0M701.9 321.7a1.7 1.7 0 1 0 3.4 0a1.7 1.7 0 1 0 -3.4 0M702.6 316.4a1.7 1.7 0 1 0 3.4 0a1.7 1.7 0 1 0 -3.4 0M702.8 308.7a1.7 1.7 0 1 0 3.4 0a1.7 1.7 0 1 0 -3.4 0M703.3 319.1a1.7 1.7 0 1 0 3.4 0a1.7 1.7 0 1 0 -3.4 0M703.9 316.6a1.7 1.7 0 1 0 3.4 0a1.7 1.7 0 1 0 -3.4 0M704.6 316.9a1.7 1.7 0 1 0 3.4 0a1.7 1.7 0 1 0 -3.4 0M705.2 317.1a1.7 1.7 0 1 0 3.4 0a1.7 1.7 0 1 0 -3.4 0M705.9 317.3a1.7 1.7 0 1 0 3.4 0a1.7 1.7 0 1 0 -3.4 0M706.5 316.1a1.7 1.7 0 1 0 3.4 0a1.7 1.7 0 1 0 -3.4 0M707.2 315.7a1.7 1.7 0 1 0 3.4 0a1.7 1.7 0 1 0 -3.4 0M707.9 313.8a1.7 1.7 0 1 0 3.4 0a1.7 1.7 0 1 0 -3.4 0M708.5 318.3a1.7 1.7 0 1 0 3.4 0a1.7 1.7 0 1 0 -3.4 0M709.2 318.8a1.7 1.7 0 1 0 3.4 0a1.7 1.7 0 1 0 -3.4 0M709.8 313.0a1.7 1.7 0 1 0 3.4 0a1.7 1.7 0 1 0 -3.4 0M710.5 314.8a1.7 1.7 0 1 0 3.4 0a1.7 1.7 0 1 0 -3.4 0M711.2 312.5a1.7 1.7 0 1 0 3.4 0a1.7 1.7 0 1 0 -3.4 0M711.8 312.9a1.7 1.7 0 1 0 3.4 0a1.7 1.7 0 1 0 -3.4 0M712.5 312.9a1.7 1.7 0 1 0 3.4 0a1.7 1.7 0 1 0 -3.4 0M713.1 316.8a1.7 1.7 0 1 0 3.4 0a1.7 1.7 0 1 0 -3.4 0M713.8 311.9a1.7 1.7 0 1 0 3.4 0a1.7 1.7 0 1 0 -3.4 0M714.4 316.7a1.7 1.7 0 1 0 3.4 0a1.7 1.7 0 1 0 -3.4 0M715.1 321.4a1.7 1.7 0 1 0 3.4 0a1.7 1.7 0 1 0 -3.4 0M715.8 315.1a1.7 1.7 0 1 0 3.4 0a1.7 1.7 0 1 0 -3.4 0M716.4 315.9a1.7 1.7 0 1 0 3.4 0a1.7 1.7 0 1 0 -3.4 0M717.1 316.2a1.7 1.7 0 1 0 3.4 0a1.7 1.7 0 1 0 -3.4 0M717.7 318.9a1.7 1.7 0 1 0 3.4 0a1.7 1.7 0 1 0 -3.4 0M718.4 323.3a1.7 1.7 0 1 0 3.4 0a1.7 1.7 0 1 0 -3.4 0M719.1 317.0a1.7 1.7 0 1 0 3.4 0a1.7 1.7 0 1 0 -3.4 0M719.7 318.9a1.7 1.7 0 1 0 3.4 0a1.7 1.7 0 1 0 -3.4 0M720.4 318.4a1.7 1.7 0 1 0 3.4 0a1.7 1.7 0 1 0 -3.4 0M721.0 319.8a1.7 1.7 0 1 0 3.4 0a1.7 1.7 0 1 0 -3.4 0M721.7 319.5a1.7 1.7 0 1 0 3.4 0a1.7 1.7 0 1 0 -3.4 0M722.3 317.5a1.7 1.7 0 1 0 3.4 0a1.7 1.7 0 1 0 -3.4 0M723.0 319.6a1.7 1.7 0 1 0 3.4 0a1.7 1.7 0 1 0 -3.4 0M723.7 320.8a1.7 1.7 0 1 0 3.4 0a1.7 1.7 0 1 0 -3.4 0M724.3 316.1a1.7 1.7 0 1 0 3.4 0a1.7 1.7 0 1 0 -3.4 0M725.0 319.3a1.7 1.7 0 1 0 3.4 0a1.7 1.7 0 1 0 -3.4 0" fill="#ff0000"/>
<g class="t">
<text transform="translate(20.00 390.30) scale(1.0 1)" font-size="15.8" fill="#cec97e" stroke="#cec97e" stroke-width="0.6" text-anchor="middle">980</text>
<text transform="translate(69.60 390.45) scale(0.96 1)" font-size="16.1" fill="#ff0000" font-weight="bold" stroke="#ff0000" stroke-width="0.5" text-anchor="middle">0.00</text>
<text transform="translate(20.00 321.16) scale(1.0 1)" font-size="15.8" fill="#cec97e" stroke="#cec97e" stroke-width="0.6" text-anchor="middle">990</text>
<text transform="translate(69.60 321.31) scale(0.96 1)" font-size="16.1" fill="#ff0000" font-weight="bold" stroke="#ff0000" stroke-width="0.5" text-anchor="middle">0.02</text>
<text transform="translate(20.00 251.32) scale(1.0 1)" font-size="15.8" fill="#cec97e" stroke="#cec97e" stroke-width="0.6" text-anchor="middle">1000</text>
<text transform="translate(69.60 251.47) scale(0.96 1)" font-size="16.1" fill="#ff0000" font-weight="bold" stroke="#ff0000" stroke-width="0.5" text-anchor="middle">0.04</text>
<text transform="translate(20.00 181.48) scale(1.0 1)" font-size="15.8" fill="#cec97e" stroke="#cec97e" stroke-width="0.6" text-anchor="middle">1010</text>
<text transform="translate(69.60 181.63) scale(0.96 1)" font-size="16.1" fill="#ff0000" font-weight="bold" stroke="#ff0000" stroke-width="0.5" text-anchor="middle">0.06</text>
<text transform="translate(20.00 111.84) scale(1.0 1)" font-size="15.8" fill="#cec97e" stroke="#cec97e" stroke-width="0.6" text-anchor="middle">1020</text>
<text transform="translate(69.60 111.99) scale(0.96 1)" font-size="16.1" fill="#ff0000" font-weight="bold" stroke="#ff0000" stroke-width="0.5" text-anchor="middle">0.08</text>
<text transform="translate(20.00 41.55) scale(1.0 1)" font-size="15.8" fill="#cec97e" stroke="#cec97e" stroke-width="0.6" text-anchor="middle">1030</text>
<text transform="translate(69.60 41.70) scale(0.96 1)" font-size="16.1" fill="#ff0000" font-weight="bold" stroke="#ff0000" stroke-width="0.5" text-anchor="middle">0.10</text>
<text transform="translate(749.80 390.20) scale(0.96 1)" font-size="16.1" fill="#0000ff" font-weight="bold" stroke="#0000ff" stroke-width="0.5" text-anchor="middle">0</text>
<text transform="translate(788.60 390.85) scale(1.0 1)" font-size="15.8" fill="#cccccc" stroke="#cccccc" stroke-width="0.6" text-anchor="middle">10</text>
<text transform="translate(749.80 320.76) scale(0.96 1)" font-size="16.1" fill="#0000ff" font-weight="bold" stroke="#0000ff" stroke-width="0.5" text-anchor="middle">20</text>
<text transform="translate(788.60 320.61) scale(1.0 1)" font-size="15.8" fill="#cccccc" stroke="#cccccc" stroke-width="0.6" text-anchor="middle">15</text>
<text transform="translate(749.80 251.32) scale(0.96 1)" font-size="16.1" fill="#0000ff" font-weight="bold" stroke="#0000ff" stroke-width="0.5" text-anchor="middle">40</text>
<text transform="translate(788.60 250.87) scale(1.0 1)" font-size="15.8" fill="#cccccc" stroke="#cccccc" stroke-width="0.6" text-anchor="middle">20</text>
<text transform="translate(749.80 181.28) scale(0.96 1)" font-size="16.1" fill="#0000ff" font-weight="bold" stroke="#0000ff" stroke-width="0.5" text-anchor="middle">60</text>
<text transform="translate(788.60 181.13) scale(1.0 1)" font-size="15.8" fill="#cccccc" stroke="#cccccc" stroke-width="0.6" text-anchor="middle">25</text>
<text transform="translate(749.80 111.54) scale(0.96 1)" font-size="16.1" fill="#0000ff" font-weight="bold" stroke="#0000ff" stroke-width="0.5" text-anchor="middle">80</text>
<text transform="translate(788.60 112.14) scale(1.0 1)" font-size="15.8" fill="#cccccc" stroke="#cccccc" stroke-width="0.6" text-anchor="middle">30</text>
<text transform="translate(749.80 41.30) scale(0.96 1)" font-size="16.1" fill="#0000ff" font-weight="bold" stroke="#0000ff" stroke-width="0.5" text-anchor="middle">100</text>
<text transform="translate(788.60 41.20) scale(1.0 1)" font-size="15.8" fill="#cccccc" stroke="#cccccc" stroke-width="0.6" text-anchor="middle">35</text>
<text transform="translate(94.80 408.90) scale(0.968 1)" font-size="17.9" fill="#000" font-weight="bold" stroke="#000" stroke-width="0.5" text-anchor="middle">00:00</text>
<text transform="translate(173.81 408.90) scale(0.968 1)" font-size="17.9" fill="#000" font-weight="bold" stroke="#000" stroke-width="0.5" text-anchor="middle">03:00</text>
<text transform="translate(252.82 408.90) scale(0.968 1)" font-size="17.9" fill="#000" font-weight="bold" stroke="#000" stroke-width="0.5" text-anchor="middle">06:00</text>
<text transform="translate(331.84 408.90) scale(0.968 1)" font-size="17.9" fill="#000" font-weight="bold" stroke="#000" stroke-width="0.5" text-anchor="middle">09:00</text>
<text transform="translate(410.85 408.90) scale(0.968 1)" font-size="17.9" fill="#000" font-weight="bold" stroke="#000" stroke-width="0.5" text-anchor="middle">12:00</text>
<text transform="translate(489.86 408.90) scale(0.968 1)" font-size="17.9" fill="#000" font-weight="bold" stroke="#000" stroke-width="0.5" text-anchor="middle">15:00</text>
<text transform="translate(568.88 408.90) scale(0.968 1)" font-size="17.9" fill="#000" font-weight="bold" stroke="#000" stroke-width="0.5" text-anchor="middle">18:00</text>
<text transform="translate(647.89 408.90) scale(0.968 1)" font-size="17.9" fill="#000" font-weight="bold" stroke="#000" stroke-width="0.5" text-anchor="middle">21:00</text>
<text transform="translate(726.90 408.90) scale(0.968 1)" font-size="17.9" fill="#000" font-weight="bold" stroke="#000" stroke-width="0.5" text-anchor="middle">00:00</text>
<text transform="translate(415.00 427.80) scale(0.968 1)" font-size="17.9" fill="#000" font-weight="bold" stroke="#000" stroke-width="0.5" text-anchor="middle">Time (JST)</text>
<text transform="translate(726.80 427.80) scale(0.968 1)" font-size="17.9" fill="#000" font-weight="bold" stroke="#000" stroke-width="0.5" text-anchor="end">2008-06-03</text>
<rect x="81.3" y="17.1" width="7.00" height="2.5" fill="#ff0000"/>
<text transform="translate(94.20 23.20) scale(0.862 1)" font-size="18.4" fill="#ff0000" font-weight="bold" stroke="#ff0000" stroke-width="0.3" text-anchor="start">Scattering Coefficient (km<tspan font-size="10.3" dy="-9.2">-1</tspan><tspan dy="9.2" dx="0.6">)</tspan></text>
<rect x="307.6" y="17.1" width="6.40" height="2.5" fill="#0000ff"/>
<text transform="translate(320.20 23.20) scale(0.862 1)" font-size="18.4" fill="#0000ff" font-weight="bold" stroke="#0000ff" stroke-width="0.3" text-anchor="start">Relative Humidity(%)</text>
<rect x="481.3" y="17.1" width="6.90" height="2.5" fill="#cec97e"/>
<text transform="translate(494.60 23.20) scale(0.854 1)" font-size="18.4" fill="#cec97e" font-weight="bold" stroke="#cec97e" stroke-width="0.3" text-anchor="start">Pressure (hPa)</text>
<rect x="609.8" y="17.5" width="6.70" height="2.0" fill="#cccccc"/>
<text transform="translate(623.00 23.20) scale(0.915 1)" font-size="18.4" fill="#cccccc" stroke="#cccccc" stroke-width="0.5" text-anchor="start">Temperature (</text>
<text transform="translate(729.80 23.20) scale(0.915 1)" font-size="18.4" fill="#cccccc" stroke="#cccccc" stroke-width="0.5" text-anchor="start">C)</text>
<circle cx="728.3" cy="4.4" r="1.3" fill="none" stroke="#cccccc" stroke-width="0.7"/>
</g>
</svg>
</body></html>
